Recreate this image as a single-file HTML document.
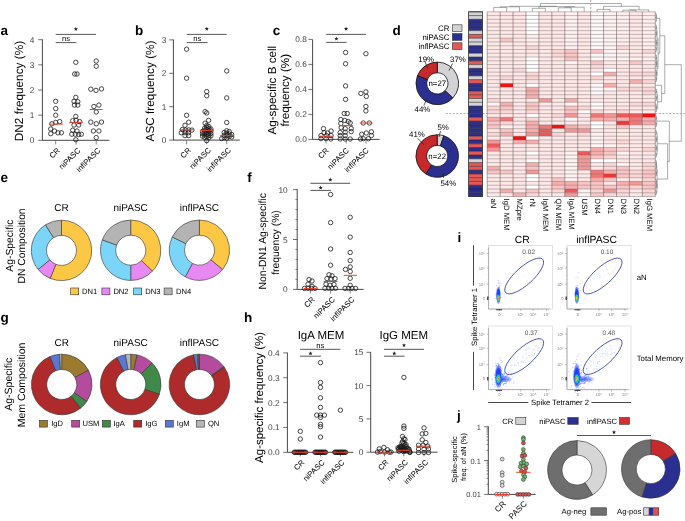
<!DOCTYPE html>
<html><head><meta charset="utf-8"><style>
html,body{margin:0;padding:0;background:#fff;}
svg{display:block;font-family:"Liberation Sans", sans-serif;will-change:transform;text-rendering:geometricPrecision;}
</style></head><body>
<svg width="685" height="521" viewBox="0 0 685 521">
<rect width="685" height="521" fill="#fff"/>
<text x="0.50" y="35.00" font-size="13.5" text-anchor="start" fill="#000" font-weight="bold">a</text>
<line x1="42.40" y1="39.40" x2="42.40" y2="140.30" stroke="#333" stroke-width="0.9"/>
<line x1="38.20" y1="140.30" x2="42.40" y2="140.30" stroke="#333" stroke-width="0.7"/>
<text x="34.40" y="143.30" font-size="8.3" text-anchor="end" fill="#444">0</text>
<line x1="38.20" y1="115.15" x2="42.40" y2="115.15" stroke="#333" stroke-width="0.7"/>
<text x="34.40" y="118.15" font-size="8.3" text-anchor="end" fill="#444">1</text>
<line x1="38.20" y1="90.00" x2="42.40" y2="90.00" stroke="#333" stroke-width="0.7"/>
<text x="34.40" y="93.00" font-size="8.3" text-anchor="end" fill="#444">2</text>
<line x1="38.20" y1="64.85" x2="42.40" y2="64.85" stroke="#333" stroke-width="0.7"/>
<text x="34.40" y="67.85" font-size="8.3" text-anchor="end" fill="#444">3</text>
<line x1="38.20" y1="39.70" x2="42.40" y2="39.70" stroke="#333" stroke-width="0.7"/>
<text x="34.40" y="42.70" font-size="8.3" text-anchor="end" fill="#444">4</text>
<line x1="42.40" y1="140.30" x2="109.40" y2="140.30" stroke="#333" stroke-width="0.9"/>
<line x1="55.70" y1="140.30" x2="55.70" y2="144.50" stroke="#555" stroke-width="0.7"/>
<line x1="76.10" y1="140.30" x2="76.10" y2="144.50" stroke="#555" stroke-width="0.7"/>
<line x1="96.20" y1="140.30" x2="96.20" y2="144.50" stroke="#555" stroke-width="0.7"/>
<text x="23.20" y="91.05" font-size="11.8" text-anchor="middle" fill="#000" transform="rotate(-90 23.20 91.05)">DN2 frequency (%)</text>
<text x="60.60" y="150.90" font-size="7.8" text-anchor="end" fill="#000" transform="rotate(-45 60.60 150.90)">CR</text>
<text x="81.00" y="150.90" font-size="7.8" text-anchor="end" fill="#000" transform="rotate(-45 81.00 150.90)">niPASC</text>
<text x="101.10" y="150.90" font-size="7.8" text-anchor="end" fill="#000" transform="rotate(-45 101.10 150.90)">inflPASC</text>
<line x1="55.70" y1="34.40" x2="96.00" y2="34.40" stroke="#444" stroke-width="0.9"/>
<polygon points="75.85,26.85 76.42,28.22 77.89,28.34 76.77,29.30 77.11,30.74 75.85,29.97 74.59,30.74 74.93,29.30 73.81,28.34 75.28,28.22" fill="#222"/>
<line x1="55.70" y1="42.60" x2="76.40" y2="42.60" stroke="#444" stroke-width="0.9"/>
<text x="66.05" y="40.80" font-size="7.6" text-anchor="middle" fill="#000">ns</text>
<circle cx="55.70" cy="101.30" r="2.2" fill="none" stroke="#1a1a1a" stroke-width="0.8"/>
<circle cx="55.70" cy="108.60" r="2.2" fill="none" stroke="#1a1a1a" stroke-width="0.8"/>
<circle cx="55.70" cy="115.20" r="2.2" fill="none" stroke="#1a1a1a" stroke-width="0.8"/>
<circle cx="59.70" cy="121.60" r="2.2" fill="none" stroke="#1a1a1a" stroke-width="0.8"/>
<circle cx="55.70" cy="122.40" r="2.2" fill="none" stroke="#1a1a1a" stroke-width="0.8"/>
<circle cx="51.90" cy="123.80" r="2.2" fill="none" stroke="#1a1a1a" stroke-width="0.8"/>
<circle cx="50.70" cy="129.00" r="2.2" fill="none" stroke="#1a1a1a" stroke-width="0.8"/>
<circle cx="54.50" cy="131.00" r="2.2" fill="none" stroke="#1a1a1a" stroke-width="0.8"/>
<circle cx="58.00" cy="132.80" r="2.2" fill="none" stroke="#1a1a1a" stroke-width="0.8"/>
<circle cx="61.40" cy="132.80" r="2.2" fill="none" stroke="#1a1a1a" stroke-width="0.8"/>
<circle cx="50.70" cy="133.70" r="2.2" fill="none" stroke="#1a1a1a" stroke-width="0.8"/>
<circle cx="75.80" cy="62.30" r="2.2" fill="none" stroke="#1a1a1a" stroke-width="0.8"/>
<circle cx="74.70" cy="74.00" r="2.2" fill="none" stroke="#1a1a1a" stroke-width="0.8"/>
<circle cx="77.00" cy="74.00" r="2.2" fill="none" stroke="#1a1a1a" stroke-width="0.8"/>
<circle cx="75.80" cy="97.40" r="2.2" fill="none" stroke="#1a1a1a" stroke-width="0.8"/>
<circle cx="74.00" cy="101.30" r="2.2" fill="none" stroke="#1a1a1a" stroke-width="0.8"/>
<circle cx="77.80" cy="101.70" r="2.2" fill="none" stroke="#1a1a1a" stroke-width="0.8"/>
<circle cx="74.40" cy="105.10" r="2.2" fill="none" stroke="#1a1a1a" stroke-width="0.8"/>
<circle cx="77.80" cy="105.10" r="2.2" fill="none" stroke="#1a1a1a" stroke-width="0.8"/>
<circle cx="75.80" cy="116.40" r="2.2" fill="none" stroke="#1a1a1a" stroke-width="0.8"/>
<circle cx="72.70" cy="120.70" r="2.2" fill="none" stroke="#1a1a1a" stroke-width="0.8"/>
<circle cx="76.10" cy="120.30" r="2.2" fill="none" stroke="#1a1a1a" stroke-width="0.8"/>
<circle cx="79.60" cy="121.60" r="2.2" fill="none" stroke="#1a1a1a" stroke-width="0.8"/>
<circle cx="74.00" cy="125.00" r="2.2" fill="none" stroke="#1a1a1a" stroke-width="0.8"/>
<circle cx="78.70" cy="125.00" r="2.2" fill="none" stroke="#1a1a1a" stroke-width="0.8"/>
<circle cx="72.70" cy="130.20" r="2.2" fill="none" stroke="#1a1a1a" stroke-width="0.8"/>
<circle cx="77.00" cy="131.00" r="2.2" fill="none" stroke="#1a1a1a" stroke-width="0.8"/>
<circle cx="71.80" cy="134.20" r="2.2" fill="none" stroke="#1a1a1a" stroke-width="0.8"/>
<circle cx="75.30" cy="134.20" r="2.2" fill="none" stroke="#1a1a1a" stroke-width="0.8"/>
<circle cx="78.70" cy="134.50" r="2.2" fill="none" stroke="#1a1a1a" stroke-width="0.8"/>
<circle cx="81.30" cy="134.20" r="2.2" fill="none" stroke="#1a1a1a" stroke-width="0.8"/>
<circle cx="75.80" cy="139.70" r="2.2" fill="none" stroke="#1a1a1a" stroke-width="0.8"/>
<circle cx="96.20" cy="61.00" r="2.2" fill="none" stroke="#1a1a1a" stroke-width="0.8"/>
<circle cx="96.20" cy="66.20" r="2.2" fill="none" stroke="#1a1a1a" stroke-width="0.8"/>
<circle cx="90.80" cy="89.20" r="2.2" fill="none" stroke="#1a1a1a" stroke-width="0.8"/>
<circle cx="96.00" cy="90.40" r="2.2" fill="none" stroke="#1a1a1a" stroke-width="0.8"/>
<circle cx="101.50" cy="88.90" r="2.2" fill="none" stroke="#1a1a1a" stroke-width="0.8"/>
<circle cx="93.90" cy="106.50" r="2.2" fill="none" stroke="#1a1a1a" stroke-width="0.8"/>
<circle cx="98.90" cy="105.10" r="2.2" fill="none" stroke="#1a1a1a" stroke-width="0.8"/>
<circle cx="96.20" cy="112.00" r="2.2" fill="none" stroke="#1a1a1a" stroke-width="0.8"/>
<circle cx="90.80" cy="122.10" r="2.2" fill="none" stroke="#1a1a1a" stroke-width="0.8"/>
<circle cx="96.30" cy="123.80" r="2.2" fill="none" stroke="#1a1a1a" stroke-width="0.8"/>
<circle cx="101.50" cy="122.10" r="2.2" fill="none" stroke="#1a1a1a" stroke-width="0.8"/>
<circle cx="93.40" cy="131.00" r="2.2" fill="none" stroke="#1a1a1a" stroke-width="0.8"/>
<circle cx="98.90" cy="131.00" r="2.2" fill="none" stroke="#1a1a1a" stroke-width="0.8"/>
<circle cx="96.20" cy="137.60" r="2.2" fill="none" stroke="#1a1a1a" stroke-width="0.8"/>
<line x1="49.30" y1="124.10" x2="62.80" y2="124.10" stroke="#e8402a" stroke-width="1.0"/>
<line x1="69.20" y1="122.40" x2="82.70" y2="122.40" stroke="#e8402a" stroke-width="1.0"/>
<line x1="89.60" y1="109.50" x2="102.60" y2="109.50" stroke="#e8402a" stroke-width="1.0"/>
<text x="135.00" y="35.00" font-size="13.5" text-anchor="start" fill="#000" font-weight="bold">b</text>
<line x1="173.40" y1="39.60" x2="173.40" y2="140.10" stroke="#333" stroke-width="0.9"/>
<line x1="169.20" y1="140.10" x2="173.40" y2="140.10" stroke="#333" stroke-width="0.7"/>
<text x="166.30" y="143.10" font-size="8.3" text-anchor="end" fill="#444">0</text>
<line x1="169.20" y1="106.70" x2="173.40" y2="106.70" stroke="#333" stroke-width="0.7"/>
<text x="166.30" y="109.70" font-size="8.3" text-anchor="end" fill="#444">1</text>
<line x1="169.20" y1="73.30" x2="173.40" y2="73.30" stroke="#333" stroke-width="0.7"/>
<text x="166.30" y="76.30" font-size="8.3" text-anchor="end" fill="#444">2</text>
<line x1="169.20" y1="39.90" x2="173.40" y2="39.90" stroke="#333" stroke-width="0.7"/>
<text x="166.30" y="42.90" font-size="8.3" text-anchor="end" fill="#444">3</text>
<line x1="173.40" y1="140.10" x2="239.80" y2="140.10" stroke="#333" stroke-width="0.9"/>
<line x1="186.60" y1="140.10" x2="186.60" y2="144.30" stroke="#555" stroke-width="0.7"/>
<line x1="206.70" y1="140.10" x2="206.70" y2="144.30" stroke="#555" stroke-width="0.7"/>
<line x1="226.70" y1="140.10" x2="226.70" y2="144.30" stroke="#555" stroke-width="0.7"/>
<text x="154.00" y="91.00" font-size="11.8" text-anchor="middle" fill="#000" transform="rotate(-90 154.00 91.00)">ASC frequency (%)</text>
<text x="191.50" y="150.70" font-size="7.8" text-anchor="end" fill="#000" transform="rotate(-45 191.50 150.70)">CR</text>
<text x="211.60" y="150.70" font-size="7.8" text-anchor="end" fill="#000" transform="rotate(-45 211.60 150.70)">niPASC</text>
<text x="231.60" y="150.70" font-size="7.8" text-anchor="end" fill="#000" transform="rotate(-45 231.60 150.70)">inflPASC</text>
<line x1="186.80" y1="34.40" x2="226.80" y2="34.40" stroke="#444" stroke-width="0.9"/>
<polygon points="206.80,26.75 207.37,28.12 208.84,28.24 207.72,29.20 208.06,30.64 206.80,29.87 205.54,30.64 205.88,29.20 204.76,28.24 206.23,28.12" fill="#222"/>
<line x1="186.80" y1="42.60" x2="207.60" y2="42.60" stroke="#444" stroke-width="0.9"/>
<text x="197.20" y="40.80" font-size="7.6" text-anchor="middle" fill="#000">ns</text>
<circle cx="186.60" cy="49.20" r="2.2" fill="none" stroke="#1a1a1a" stroke-width="0.8"/>
<circle cx="186.60" cy="78.20" r="2.2" fill="none" stroke="#1a1a1a" stroke-width="0.8"/>
<circle cx="186.60" cy="115.30" r="2.2" fill="none" stroke="#1a1a1a" stroke-width="0.8"/>
<circle cx="188.70" cy="122.20" r="2.2" fill="none" stroke="#1a1a1a" stroke-width="0.8"/>
<circle cx="185.00" cy="125.30" r="2.2" fill="none" stroke="#1a1a1a" stroke-width="0.8"/>
<circle cx="182.20" cy="129.60" r="2.2" fill="none" stroke="#1a1a1a" stroke-width="0.8"/>
<circle cx="185.60" cy="130.10" r="2.2" fill="none" stroke="#1a1a1a" stroke-width="0.8"/>
<circle cx="188.70" cy="129.90" r="2.2" fill="none" stroke="#1a1a1a" stroke-width="0.8"/>
<circle cx="191.90" cy="130.10" r="2.2" fill="none" stroke="#1a1a1a" stroke-width="0.8"/>
<circle cx="181.30" cy="132.70" r="2.2" fill="none" stroke="#1a1a1a" stroke-width="0.8"/>
<circle cx="185.00" cy="132.70" r="2.2" fill="none" stroke="#1a1a1a" stroke-width="0.8"/>
<circle cx="188.50" cy="132.70" r="2.2" fill="none" stroke="#1a1a1a" stroke-width="0.8"/>
<circle cx="185.00" cy="135.60" r="2.2" fill="none" stroke="#1a1a1a" stroke-width="0.8"/>
<circle cx="188.70" cy="135.60" r="2.2" fill="none" stroke="#1a1a1a" stroke-width="0.8"/>
<circle cx="206.70" cy="91.60" r="2.2" fill="none" stroke="#1a1a1a" stroke-width="0.8"/>
<circle cx="206.70" cy="95.80" r="2.2" fill="none" stroke="#1a1a1a" stroke-width="0.8"/>
<circle cx="205.10" cy="111.60" r="2.2" fill="none" stroke="#1a1a1a" stroke-width="0.8"/>
<circle cx="206.70" cy="113.00" r="2.2" fill="none" stroke="#1a1a1a" stroke-width="0.8"/>
<circle cx="208.60" cy="120.40" r="2.2" fill="none" stroke="#1a1a1a" stroke-width="0.8"/>
<circle cx="205.10" cy="123.20" r="2.2" fill="none" stroke="#1a1a1a" stroke-width="0.8"/>
<circle cx="206.70" cy="140.60" r="2.2" fill="none" stroke="#1a1a1a" stroke-width="0.8"/>
<circle cx="226.70" cy="70.90" r="2.2" fill="none" stroke="#1a1a1a" stroke-width="0.8"/>
<circle cx="226.70" cy="97.90" r="2.2" fill="none" stroke="#1a1a1a" stroke-width="0.8"/>
<circle cx="226.70" cy="122.50" r="2.2" fill="none" stroke="#1a1a1a" stroke-width="0.8"/>
<circle cx="206.70" cy="125.50" r="2.2" fill="none" stroke="#1a1a1a" stroke-width="0.8"/>
<circle cx="208.80" cy="126.50" r="2.2" fill="none" stroke="#1a1a1a" stroke-width="0.8"/>
<circle cx="206.70" cy="127.50" r="2.2" fill="none" stroke="#1a1a1a" stroke-width="0.8"/>
<circle cx="204.60" cy="128.20" r="2.2" fill="none" stroke="#1a1a1a" stroke-width="0.8"/>
<circle cx="208.80" cy="128.60" r="2.2" fill="none" stroke="#1a1a1a" stroke-width="0.8"/>
<circle cx="210.90" cy="129.00" r="2.2" fill="none" stroke="#1a1a1a" stroke-width="0.8"/>
<circle cx="206.70" cy="129.60" r="2.2" fill="none" stroke="#1a1a1a" stroke-width="0.8"/>
<circle cx="204.60" cy="130.20" r="2.2" fill="none" stroke="#1a1a1a" stroke-width="0.8"/>
<circle cx="208.80" cy="130.80" r="2.2" fill="none" stroke="#1a1a1a" stroke-width="0.8"/>
<circle cx="210.90" cy="131.00" r="2.2" fill="none" stroke="#1a1a1a" stroke-width="0.8"/>
<circle cx="202.50" cy="131.40" r="2.2" fill="none" stroke="#1a1a1a" stroke-width="0.8"/>
<circle cx="206.70" cy="132.00" r="2.2" fill="none" stroke="#1a1a1a" stroke-width="0.8"/>
<circle cx="204.60" cy="132.60" r="2.2" fill="none" stroke="#1a1a1a" stroke-width="0.8"/>
<circle cx="208.80" cy="133.20" r="2.2" fill="none" stroke="#1a1a1a" stroke-width="0.8"/>
<circle cx="210.90" cy="133.50" r="2.2" fill="none" stroke="#1a1a1a" stroke-width="0.8"/>
<circle cx="202.50" cy="133.80" r="2.2" fill="none" stroke="#1a1a1a" stroke-width="0.8"/>
<circle cx="206.70" cy="134.40" r="2.2" fill="none" stroke="#1a1a1a" stroke-width="0.8"/>
<circle cx="204.60" cy="135.00" r="2.2" fill="none" stroke="#1a1a1a" stroke-width="0.8"/>
<circle cx="208.80" cy="135.60" r="2.2" fill="none" stroke="#1a1a1a" stroke-width="0.8"/>
<circle cx="210.90" cy="135.80" r="2.2" fill="none" stroke="#1a1a1a" stroke-width="0.8"/>
<circle cx="202.50" cy="136.20" r="2.2" fill="none" stroke="#1a1a1a" stroke-width="0.8"/>
<circle cx="206.70" cy="136.80" r="2.2" fill="none" stroke="#1a1a1a" stroke-width="0.8"/>
<circle cx="204.60" cy="137.40" r="2.2" fill="none" stroke="#1a1a1a" stroke-width="0.8"/>
<circle cx="208.80" cy="137.80" r="2.2" fill="none" stroke="#1a1a1a" stroke-width="0.8"/>
<circle cx="226.70" cy="130.80" r="2.2" fill="none" stroke="#1a1a1a" stroke-width="0.8"/>
<circle cx="229.20" cy="131.50" r="2.2" fill="none" stroke="#1a1a1a" stroke-width="0.8"/>
<circle cx="224.20" cy="132.50" r="2.2" fill="none" stroke="#1a1a1a" stroke-width="0.8"/>
<circle cx="226.70" cy="133.30" r="2.2" fill="none" stroke="#1a1a1a" stroke-width="0.8"/>
<circle cx="229.20" cy="134.00" r="2.2" fill="none" stroke="#1a1a1a" stroke-width="0.8"/>
<circle cx="231.70" cy="134.60" r="2.2" fill="none" stroke="#1a1a1a" stroke-width="0.8"/>
<circle cx="224.20" cy="135.20" r="2.2" fill="none" stroke="#1a1a1a" stroke-width="0.8"/>
<circle cx="226.70" cy="135.80" r="2.2" fill="none" stroke="#1a1a1a" stroke-width="0.8"/>
<circle cx="229.20" cy="136.40" r="2.2" fill="none" stroke="#1a1a1a" stroke-width="0.8"/>
<circle cx="231.70" cy="137.00" r="2.2" fill="none" stroke="#1a1a1a" stroke-width="0.8"/>
<circle cx="224.20" cy="137.60" r="2.2" fill="none" stroke="#1a1a1a" stroke-width="0.8"/>
<circle cx="226.70" cy="138.20" r="2.2" fill="none" stroke="#1a1a1a" stroke-width="0.8"/>
<circle cx="221.70" cy="138.60" r="2.2" fill="none" stroke="#1a1a1a" stroke-width="0.8"/>
<line x1="180.00" y1="129.80" x2="194.00" y2="129.80" stroke="#e8402a" stroke-width="1.0"/>
<line x1="200.10" y1="130.40" x2="213.50" y2="130.40" stroke="#e8402a" stroke-width="1.0"/>
<line x1="220.20" y1="135.40" x2="233.60" y2="135.40" stroke="#e8402a" stroke-width="1.0"/>
<text x="272.80" y="35.00" font-size="13.5" text-anchor="start" fill="#000" font-weight="bold">c</text>
<line x1="312.60" y1="39.60" x2="312.60" y2="139.40" stroke="#333" stroke-width="0.9"/>
<line x1="308.40" y1="139.40" x2="312.60" y2="139.40" stroke="#333" stroke-width="0.7"/>
<text x="306.80" y="142.40" font-size="8.3" text-anchor="end" fill="#444">0.0</text>
<line x1="308.40" y1="114.40" x2="312.60" y2="114.40" stroke="#333" stroke-width="0.7"/>
<text x="306.80" y="117.40" font-size="8.3" text-anchor="end" fill="#444">0.2</text>
<line x1="308.40" y1="89.40" x2="312.60" y2="89.40" stroke="#333" stroke-width="0.7"/>
<text x="306.80" y="92.40" font-size="8.3" text-anchor="end" fill="#444">0.4</text>
<line x1="308.40" y1="64.40" x2="312.60" y2="64.40" stroke="#333" stroke-width="0.7"/>
<text x="306.80" y="67.40" font-size="8.3" text-anchor="end" fill="#444">0.6</text>
<line x1="308.40" y1="39.40" x2="312.60" y2="39.40" stroke="#333" stroke-width="0.7"/>
<text x="306.80" y="42.40" font-size="8.3" text-anchor="end" fill="#444">0.8</text>
<line x1="312.60" y1="139.40" x2="379.60" y2="139.40" stroke="#333" stroke-width="0.9"/>
<line x1="326.00" y1="139.40" x2="326.00" y2="143.60" stroke="#555" stroke-width="0.7"/>
<line x1="346.20" y1="139.40" x2="346.20" y2="143.60" stroke="#555" stroke-width="0.7"/>
<line x1="366.00" y1="139.40" x2="366.00" y2="143.60" stroke="#555" stroke-width="0.7"/>
<text x="275.70" y="90.20" font-size="11.65" text-anchor="middle" fill="#000" transform="rotate(-90 275.70 90.20)">Ag-specific B cell</text>
<text x="288.60" y="90.20" font-size="11.65" text-anchor="middle" fill="#000" transform="rotate(-90 288.60 90.20)">frequency (%)</text>
<text x="329.30" y="151.00" font-size="7.8" text-anchor="end" fill="#000" transform="rotate(-45 329.30 151.00)">CR</text>
<text x="349.50" y="151.00" font-size="7.8" text-anchor="end" fill="#000" transform="rotate(-45 349.50 151.00)">niPASC</text>
<text x="369.30" y="151.00" font-size="7.8" text-anchor="end" fill="#000" transform="rotate(-45 369.30 151.00)">inflPASC</text>
<line x1="326.20" y1="34.40" x2="366.00" y2="34.40" stroke="#444" stroke-width="0.9"/>
<polygon points="346.10,26.75 346.67,28.12 348.14,28.24 347.02,29.20 347.36,30.64 346.10,29.87 344.84,30.64 345.18,29.20 344.06,28.24 345.53,28.12" fill="#222"/>
<line x1="326.20" y1="42.40" x2="346.60" y2="42.40" stroke="#444" stroke-width="0.9"/>
<polygon points="336.40,36.65 336.97,38.02 338.44,38.14 337.32,39.10 337.66,40.54 336.40,39.77 335.14,40.54 335.48,39.10 334.36,38.14 335.83,38.02" fill="#222"/>
<circle cx="323.50" cy="128.60" r="2.2" fill="none" stroke="#1a1a1a" stroke-width="0.8"/>
<circle cx="331.10" cy="131.00" r="2.2" fill="none" stroke="#1a1a1a" stroke-width="0.8"/>
<circle cx="324.10" cy="132.60" r="2.2" fill="none" stroke="#1a1a1a" stroke-width="0.8"/>
<circle cx="327.50" cy="133.00" r="2.2" fill="none" stroke="#1a1a1a" stroke-width="0.8"/>
<circle cx="321.00" cy="135.60" r="2.2" fill="none" stroke="#1a1a1a" stroke-width="0.8"/>
<circle cx="326.70" cy="135.60" r="2.2" fill="none" stroke="#1a1a1a" stroke-width="0.8"/>
<circle cx="331.10" cy="135.60" r="2.2" fill="none" stroke="#1a1a1a" stroke-width="0.8"/>
<circle cx="321.00" cy="138.60" r="2.2" fill="none" stroke="#1a1a1a" stroke-width="0.8"/>
<circle cx="326.10" cy="138.60" r="2.2" fill="none" stroke="#1a1a1a" stroke-width="0.8"/>
<circle cx="330.70" cy="139.00" r="2.2" fill="none" stroke="#1a1a1a" stroke-width="0.8"/>
<circle cx="345.60" cy="52.50" r="2.2" fill="none" stroke="#1a1a1a" stroke-width="0.8"/>
<circle cx="345.60" cy="63.80" r="2.2" fill="none" stroke="#1a1a1a" stroke-width="0.8"/>
<circle cx="345.60" cy="85.90" r="2.2" fill="none" stroke="#1a1a1a" stroke-width="0.8"/>
<circle cx="345.60" cy="99.40" r="2.2" fill="none" stroke="#1a1a1a" stroke-width="0.8"/>
<circle cx="344.20" cy="113.50" r="2.2" fill="none" stroke="#1a1a1a" stroke-width="0.8"/>
<circle cx="347.20" cy="113.50" r="2.2" fill="none" stroke="#1a1a1a" stroke-width="0.8"/>
<circle cx="340.80" cy="119.50" r="2.2" fill="none" stroke="#1a1a1a" stroke-width="0.8"/>
<circle cx="344.80" cy="120.50" r="2.2" fill="none" stroke="#1a1a1a" stroke-width="0.8"/>
<circle cx="348.20" cy="121.50" r="2.2" fill="none" stroke="#1a1a1a" stroke-width="0.8"/>
<circle cx="340.80" cy="123.50" r="2.2" fill="none" stroke="#1a1a1a" stroke-width="0.8"/>
<circle cx="350.20" cy="122.90" r="2.2" fill="none" stroke="#1a1a1a" stroke-width="0.8"/>
<circle cx="341.20" cy="127.60" r="2.2" fill="none" stroke="#1a1a1a" stroke-width="0.8"/>
<circle cx="345.20" cy="128.60" r="2.2" fill="none" stroke="#1a1a1a" stroke-width="0.8"/>
<circle cx="351.20" cy="128.60" r="2.2" fill="none" stroke="#1a1a1a" stroke-width="0.8"/>
<circle cx="340.20" cy="132.60" r="2.2" fill="none" stroke="#1a1a1a" stroke-width="0.8"/>
<circle cx="345.20" cy="132.20" r="2.2" fill="none" stroke="#1a1a1a" stroke-width="0.8"/>
<circle cx="351.20" cy="131.60" r="2.2" fill="none" stroke="#1a1a1a" stroke-width="0.8"/>
<circle cx="340.20" cy="135.60" r="2.2" fill="none" stroke="#1a1a1a" stroke-width="0.8"/>
<circle cx="345.20" cy="135.60" r="2.2" fill="none" stroke="#1a1a1a" stroke-width="0.8"/>
<circle cx="340.20" cy="139.00" r="2.2" fill="none" stroke="#1a1a1a" stroke-width="0.8"/>
<circle cx="345.20" cy="139.00" r="2.2" fill="none" stroke="#1a1a1a" stroke-width="0.8"/>
<circle cx="350.20" cy="139.00" r="2.2" fill="none" stroke="#1a1a1a" stroke-width="0.8"/>
<circle cx="365.90" cy="53.70" r="2.2" fill="none" stroke="#1a1a1a" stroke-width="0.8"/>
<circle cx="360.90" cy="93.40" r="2.2" fill="none" stroke="#1a1a1a" stroke-width="0.8"/>
<circle cx="365.90" cy="91.90" r="2.2" fill="none" stroke="#1a1a1a" stroke-width="0.8"/>
<circle cx="366.30" cy="96.40" r="2.2" fill="none" stroke="#1a1a1a" stroke-width="0.8"/>
<circle cx="365.90" cy="106.40" r="2.2" fill="none" stroke="#1a1a1a" stroke-width="0.8"/>
<circle cx="365.90" cy="110.90" r="2.2" fill="none" stroke="#1a1a1a" stroke-width="0.8"/>
<circle cx="363.30" cy="123.00" r="2.2" fill="none" stroke="#1a1a1a" stroke-width="0.8"/>
<circle cx="369.40" cy="123.00" r="2.2" fill="none" stroke="#1a1a1a" stroke-width="0.8"/>
<circle cx="361.70" cy="134.20" r="2.2" fill="none" stroke="#1a1a1a" stroke-width="0.8"/>
<circle cx="366.30" cy="133.00" r="2.2" fill="none" stroke="#1a1a1a" stroke-width="0.8"/>
<circle cx="371.40" cy="131.80" r="2.2" fill="none" stroke="#1a1a1a" stroke-width="0.8"/>
<circle cx="371.40" cy="135.50" r="2.2" fill="none" stroke="#1a1a1a" stroke-width="0.8"/>
<circle cx="363.30" cy="138.70" r="2.2" fill="none" stroke="#1a1a1a" stroke-width="0.8"/>
<circle cx="368.40" cy="138.70" r="2.2" fill="none" stroke="#1a1a1a" stroke-width="0.8"/>
<circle cx="360.50" cy="139.00" r="2.2" fill="none" stroke="#1a1a1a" stroke-width="0.8"/>
<line x1="319.40" y1="136.20" x2="333.10" y2="136.20" stroke="#e8402a" stroke-width="1.0"/>
<line x1="339.20" y1="125.60" x2="352.80" y2="125.60" stroke="#e8402a" stroke-width="1.0"/>
<line x1="359.70" y1="123.00" x2="372.40" y2="123.00" stroke="#e8402a" stroke-width="1.0"/>
<text x="392.50" y="35.00" font-size="13.5" text-anchor="start" fill="#000" font-weight="bold">d</text>
<text x="449.50" y="31.00" font-size="7.9" text-anchor="end" fill="#000">CR</text>
<rect x="452.40" y="24.80" width="9.60" height="6.70" fill="#d3d3d5" stroke="#333" stroke-width="0.6"/>
<text x="449.50" y="39.80" font-size="7.9" text-anchor="end" fill="#000">niPASC</text>
<rect x="452.40" y="33.60" width="9.60" height="6.70" fill="#2b2f8f" stroke="#333" stroke-width="0.6"/>
<text x="449.50" y="48.70" font-size="7.9" text-anchor="end" fill="#000">inflPASC</text>
<rect x="452.40" y="42.80" width="9.60" height="6.70" fill="#e85656" stroke="#333" stroke-width="0.6"/>
<path d="M437.30,62.10 A21.3,21.3 0 0 1 452.83,97.98 L445.03,90.66 A10.6,10.6 0 0 0 437.30,72.80 Z" fill="#d3d3d5" stroke="#111" stroke-width="0.8" stroke-linejoin="round"/>
<path d="M452.83,97.98 A21.3,21.3 0 0 1 417.50,75.56 L427.44,79.50 A10.6,10.6 0 0 0 445.03,90.66 Z" fill="#2b2f8f" stroke="#111" stroke-width="0.8" stroke-linejoin="round"/>
<path d="M417.50,75.56 A21.3,21.3 0 0 1 437.30,62.10 L437.30,72.80 A10.6,10.6 0 0 0 427.44,79.50 Z" fill="#c6292b" stroke="#111" stroke-width="0.8" stroke-linejoin="round"/>
<text x="437.30" y="86.20" font-size="7.9" text-anchor="middle" fill="#000">n=27</text>
<text x="458.00" y="62.00" font-size="7.9" text-anchor="middle" fill="#000">37%</text>
<line x1="452.50" y1="63.50" x2="449.00" y2="70.50" stroke="#222" stroke-width="0.75"/>
<text x="426.20" y="62.00" font-size="7.9" text-anchor="middle" fill="#000">19%</text>
<line x1="425.10" y1="61.90" x2="427.80" y2="68.50" stroke="#222" stroke-width="0.75"/>
<text x="422.50" y="111.60" font-size="7.9" text-anchor="middle" fill="#000">44%</text>
<line x1="423.90" y1="105.50" x2="426.50" y2="99.50" stroke="#222" stroke-width="0.75"/>
<path d="M437.20,134.70 A21.3,21.3 0 0 1 443.78,135.74 L440.48,145.92 A10.6,10.6 0 0 0 437.20,145.40 Z" fill="#d3d3d5" stroke="#111" stroke-width="0.8" stroke-linejoin="round"/>
<path d="M443.78,135.74 A21.3,21.3 0 1 1 425.79,173.98 L431.52,164.95 A10.6,10.6 0 1 0 440.48,145.92 Z" fill="#2b2f8f" stroke="#111" stroke-width="0.8" stroke-linejoin="round"/>
<path d="M425.79,173.98 A21.3,21.3 0 0 1 437.20,134.70 L437.20,145.40 A10.6,10.6 0 0 0 431.52,164.95 Z" fill="#c6292b" stroke="#111" stroke-width="0.8" stroke-linejoin="round"/>
<text x="437.20" y="158.80" font-size="7.9" text-anchor="middle" fill="#000">n=22</text>
<text x="443.20" y="130.00" font-size="7.9" text-anchor="middle" fill="#000">5%</text>
<line x1="440.50" y1="131.00" x2="439.00" y2="137.00" stroke="#222" stroke-width="0.75"/>
<text x="417.00" y="137.20" font-size="7.9" text-anchor="middle" fill="#000">41%</text>
<line x1="417.50" y1="138.10" x2="423.90" y2="144.80" stroke="#222" stroke-width="0.75"/>
<text x="448.30" y="185.60" font-size="7.9" text-anchor="middle" fill="#000">54%</text>
<line x1="443.60" y1="177.80" x2="442.50" y2="172.50" stroke="#222" stroke-width="0.75"/>
<line x1="445.90" y1="113.60" x2="468.60" y2="113.60" stroke="#555" stroke-width="0.5" stroke-dasharray="2,1.5"/>
<line x1="482.60" y1="113.60" x2="487.20" y2="113.60" stroke="#555" stroke-width="0.5" stroke-dasharray="2,1.5"/>
<line x1="655.30" y1="113.60" x2="685.00" y2="113.60" stroke="#555" stroke-width="0.5" stroke-dasharray="2,1.5"/>
<line x1="590.70" y1="0.00" x2="590.70" y2="11.80" stroke="#555" stroke-width="0.5" stroke-dasharray="2,1.5"/>
<rect x="468.60" y="11.80" width="14.00" height="3.77" fill="#d3d3d5" stroke="none" stroke-width="0.6"/>
<rect x="468.60" y="15.57" width="14.00" height="3.77" fill="#d3d3d5" stroke="none" stroke-width="0.6"/>
<rect x="468.60" y="19.34" width="14.00" height="3.77" fill="#2b2f8f" stroke="none" stroke-width="0.6"/>
<rect x="468.60" y="23.11" width="14.00" height="3.77" fill="#2b2f8f" stroke="none" stroke-width="0.6"/>
<rect x="468.60" y="26.88" width="14.00" height="3.77" fill="#2b2f8f" stroke="none" stroke-width="0.6"/>
<rect x="468.60" y="30.65" width="14.00" height="3.77" fill="#d3d3d5" stroke="none" stroke-width="0.6"/>
<rect x="468.60" y="34.42" width="14.00" height="3.77" fill="#e85656" stroke="none" stroke-width="0.6"/>
<rect x="468.60" y="38.19" width="14.00" height="3.77" fill="#d3d3d5" stroke="none" stroke-width="0.6"/>
<rect x="468.60" y="41.96" width="14.00" height="3.77" fill="#d3d3d5" stroke="none" stroke-width="0.6"/>
<rect x="468.60" y="45.73" width="14.00" height="3.77" fill="#2b2f8f" stroke="none" stroke-width="0.6"/>
<rect x="468.60" y="49.50" width="14.00" height="3.77" fill="#2b2f8f" stroke="none" stroke-width="0.6"/>
<rect x="468.60" y="53.27" width="14.00" height="3.77" fill="#d3d3d5" stroke="none" stroke-width="0.6"/>
<rect x="468.60" y="57.04" width="14.00" height="3.77" fill="#2b2f8f" stroke="none" stroke-width="0.6"/>
<rect x="468.60" y="60.81" width="14.00" height="3.77" fill="#e85656" stroke="none" stroke-width="0.6"/>
<rect x="468.60" y="64.58" width="14.00" height="3.77" fill="#d3d3d5" stroke="none" stroke-width="0.6"/>
<rect x="468.60" y="68.35" width="14.00" height="3.77" fill="#2b2f8f" stroke="none" stroke-width="0.6"/>
<rect x="468.60" y="72.12" width="14.00" height="3.77" fill="#2b2f8f" stroke="none" stroke-width="0.6"/>
<rect x="468.60" y="75.89" width="14.00" height="3.77" fill="#d3d3d5" stroke="none" stroke-width="0.6"/>
<rect x="468.60" y="79.66" width="14.00" height="3.77" fill="#e85656" stroke="none" stroke-width="0.6"/>
<rect x="468.60" y="83.43" width="14.00" height="3.77" fill="#2b2f8f" stroke="none" stroke-width="0.6"/>
<rect x="468.60" y="87.20" width="14.00" height="3.77" fill="#2b2f8f" stroke="none" stroke-width="0.6"/>
<rect x="468.60" y="90.97" width="14.00" height="3.77" fill="#e85656" stroke="none" stroke-width="0.6"/>
<rect x="468.60" y="94.74" width="14.00" height="3.77" fill="#e85656" stroke="none" stroke-width="0.6"/>
<rect x="468.60" y="98.51" width="14.00" height="3.77" fill="#d3d3d5" stroke="none" stroke-width="0.6"/>
<rect x="468.60" y="102.28" width="14.00" height="3.77" fill="#d3d3d5" stroke="none" stroke-width="0.6"/>
<rect x="468.60" y="106.05" width="14.00" height="3.77" fill="#2b2f8f" stroke="none" stroke-width="0.6"/>
<rect x="468.60" y="109.82" width="14.00" height="3.77" fill="#2b2f8f" stroke="none" stroke-width="0.6"/>
<rect x="468.60" y="113.59" width="14.00" height="3.77" fill="#2b2f8f" stroke="none" stroke-width="0.6"/>
<rect x="468.60" y="117.36" width="14.00" height="3.77" fill="#e85656" stroke="none" stroke-width="0.6"/>
<rect x="468.60" y="121.13" width="14.00" height="3.77" fill="#2b2f8f" stroke="none" stroke-width="0.6"/>
<rect x="468.60" y="124.90" width="14.00" height="3.77" fill="#2b2f8f" stroke="none" stroke-width="0.6"/>
<rect x="468.60" y="128.67" width="14.00" height="3.77" fill="#2b2f8f" stroke="none" stroke-width="0.6"/>
<rect x="468.60" y="132.44" width="14.00" height="3.77" fill="#2b2f8f" stroke="none" stroke-width="0.6"/>
<rect x="468.60" y="136.21" width="14.00" height="3.77" fill="#e85656" stroke="none" stroke-width="0.6"/>
<rect x="468.60" y="139.98" width="14.00" height="3.77" fill="#2b2f8f" stroke="none" stroke-width="0.6"/>
<rect x="468.60" y="143.75" width="14.00" height="3.77" fill="#e85656" stroke="none" stroke-width="0.6"/>
<rect x="468.60" y="147.52" width="14.00" height="3.77" fill="#2b2f8f" stroke="none" stroke-width="0.6"/>
<rect x="468.60" y="151.29" width="14.00" height="3.77" fill="#e85656" stroke="none" stroke-width="0.6"/>
<rect x="468.60" y="155.06" width="14.00" height="3.77" fill="#2b2f8f" stroke="none" stroke-width="0.6"/>
<rect x="468.60" y="158.83" width="14.00" height="3.77" fill="#d3d3d5" stroke="none" stroke-width="0.6"/>
<rect x="468.60" y="162.60" width="14.00" height="3.77" fill="#e85656" stroke="none" stroke-width="0.6"/>
<rect x="468.60" y="166.37" width="14.00" height="3.77" fill="#e85656" stroke="none" stroke-width="0.6"/>
<rect x="468.60" y="170.14" width="14.00" height="3.77" fill="#2b2f8f" stroke="none" stroke-width="0.6"/>
<rect x="468.60" y="173.91" width="14.00" height="3.77" fill="#e85656" stroke="none" stroke-width="0.6"/>
<rect x="468.60" y="177.68" width="14.00" height="3.77" fill="#e85656" stroke="none" stroke-width="0.6"/>
<rect x="468.60" y="181.45" width="14.00" height="3.77" fill="#e85656" stroke="none" stroke-width="0.6"/>
<rect x="468.60" y="185.22" width="14.00" height="3.77" fill="#2b2f8f" stroke="none" stroke-width="0.6"/>
<rect x="468.60" y="188.99" width="14.00" height="3.77" fill="#2b2f8f" stroke="none" stroke-width="0.6"/>
<rect x="468.60" y="192.76" width="14.00" height="3.77" fill="#2b2f8f" stroke="none" stroke-width="0.6"/>
<line x1="468.60" y1="11.80" x2="482.60" y2="11.80" stroke="#1a1a1a" stroke-width="0.55"/>
<line x1="468.60" y1="15.57" x2="482.60" y2="15.57" stroke="#1a1a1a" stroke-width="0.55"/>
<line x1="468.60" y1="19.34" x2="482.60" y2="19.34" stroke="#1a1a1a" stroke-width="0.55"/>
<line x1="468.60" y1="23.11" x2="482.60" y2="23.11" stroke="#1a1a1a" stroke-width="0.55"/>
<line x1="468.60" y1="26.88" x2="482.60" y2="26.88" stroke="#1a1a1a" stroke-width="0.55"/>
<line x1="468.60" y1="30.65" x2="482.60" y2="30.65" stroke="#1a1a1a" stroke-width="0.55"/>
<line x1="468.60" y1="34.42" x2="482.60" y2="34.42" stroke="#1a1a1a" stroke-width="0.55"/>
<line x1="468.60" y1="38.19" x2="482.60" y2="38.19" stroke="#1a1a1a" stroke-width="0.55"/>
<line x1="468.60" y1="41.96" x2="482.60" y2="41.96" stroke="#1a1a1a" stroke-width="0.55"/>
<line x1="468.60" y1="45.73" x2="482.60" y2="45.73" stroke="#1a1a1a" stroke-width="0.55"/>
<line x1="468.60" y1="49.50" x2="482.60" y2="49.50" stroke="#1a1a1a" stroke-width="0.55"/>
<line x1="468.60" y1="53.27" x2="482.60" y2="53.27" stroke="#1a1a1a" stroke-width="0.55"/>
<line x1="468.60" y1="57.04" x2="482.60" y2="57.04" stroke="#1a1a1a" stroke-width="0.55"/>
<line x1="468.60" y1="60.81" x2="482.60" y2="60.81" stroke="#1a1a1a" stroke-width="0.55"/>
<line x1="468.60" y1="64.58" x2="482.60" y2="64.58" stroke="#1a1a1a" stroke-width="0.55"/>
<line x1="468.60" y1="68.35" x2="482.60" y2="68.35" stroke="#1a1a1a" stroke-width="0.55"/>
<line x1="468.60" y1="72.12" x2="482.60" y2="72.12" stroke="#1a1a1a" stroke-width="0.55"/>
<line x1="468.60" y1="75.89" x2="482.60" y2="75.89" stroke="#1a1a1a" stroke-width="0.55"/>
<line x1="468.60" y1="79.66" x2="482.60" y2="79.66" stroke="#1a1a1a" stroke-width="0.55"/>
<line x1="468.60" y1="83.43" x2="482.60" y2="83.43" stroke="#1a1a1a" stroke-width="0.55"/>
<line x1="468.60" y1="87.20" x2="482.60" y2="87.20" stroke="#1a1a1a" stroke-width="0.55"/>
<line x1="468.60" y1="90.97" x2="482.60" y2="90.97" stroke="#1a1a1a" stroke-width="0.55"/>
<line x1="468.60" y1="94.74" x2="482.60" y2="94.74" stroke="#1a1a1a" stroke-width="0.55"/>
<line x1="468.60" y1="98.51" x2="482.60" y2="98.51" stroke="#1a1a1a" stroke-width="0.55"/>
<line x1="468.60" y1="102.28" x2="482.60" y2="102.28" stroke="#1a1a1a" stroke-width="0.55"/>
<line x1="468.60" y1="106.05" x2="482.60" y2="106.05" stroke="#1a1a1a" stroke-width="0.55"/>
<line x1="468.60" y1="109.82" x2="482.60" y2="109.82" stroke="#1a1a1a" stroke-width="0.55"/>
<line x1="468.60" y1="113.59" x2="482.60" y2="113.59" stroke="#1a1a1a" stroke-width="0.55"/>
<line x1="468.60" y1="117.36" x2="482.60" y2="117.36" stroke="#1a1a1a" stroke-width="0.55"/>
<line x1="468.60" y1="121.13" x2="482.60" y2="121.13" stroke="#1a1a1a" stroke-width="0.55"/>
<line x1="468.60" y1="124.90" x2="482.60" y2="124.90" stroke="#1a1a1a" stroke-width="0.55"/>
<line x1="468.60" y1="128.67" x2="482.60" y2="128.67" stroke="#1a1a1a" stroke-width="0.55"/>
<line x1="468.60" y1="132.44" x2="482.60" y2="132.44" stroke="#1a1a1a" stroke-width="0.55"/>
<line x1="468.60" y1="136.21" x2="482.60" y2="136.21" stroke="#1a1a1a" stroke-width="0.55"/>
<line x1="468.60" y1="139.98" x2="482.60" y2="139.98" stroke="#1a1a1a" stroke-width="0.55"/>
<line x1="468.60" y1="143.75" x2="482.60" y2="143.75" stroke="#1a1a1a" stroke-width="0.55"/>
<line x1="468.60" y1="147.52" x2="482.60" y2="147.52" stroke="#1a1a1a" stroke-width="0.55"/>
<line x1="468.60" y1="151.29" x2="482.60" y2="151.29" stroke="#1a1a1a" stroke-width="0.55"/>
<line x1="468.60" y1="155.06" x2="482.60" y2="155.06" stroke="#1a1a1a" stroke-width="0.55"/>
<line x1="468.60" y1="158.83" x2="482.60" y2="158.83" stroke="#1a1a1a" stroke-width="0.55"/>
<line x1="468.60" y1="162.60" x2="482.60" y2="162.60" stroke="#1a1a1a" stroke-width="0.55"/>
<line x1="468.60" y1="166.37" x2="482.60" y2="166.37" stroke="#1a1a1a" stroke-width="0.55"/>
<line x1="468.60" y1="170.14" x2="482.60" y2="170.14" stroke="#1a1a1a" stroke-width="0.55"/>
<line x1="468.60" y1="173.91" x2="482.60" y2="173.91" stroke="#1a1a1a" stroke-width="0.55"/>
<line x1="468.60" y1="177.68" x2="482.60" y2="177.68" stroke="#1a1a1a" stroke-width="0.55"/>
<line x1="468.60" y1="181.45" x2="482.60" y2="181.45" stroke="#1a1a1a" stroke-width="0.55"/>
<line x1="468.60" y1="185.22" x2="482.60" y2="185.22" stroke="#1a1a1a" stroke-width="0.55"/>
<line x1="468.60" y1="188.99" x2="482.60" y2="188.99" stroke="#1a1a1a" stroke-width="0.55"/>
<line x1="468.60" y1="192.76" x2="482.60" y2="192.76" stroke="#1a1a1a" stroke-width="0.55"/>
<line x1="468.60" y1="196.53" x2="482.60" y2="196.53" stroke="#1a1a1a" stroke-width="0.55"/>
<rect x="468.60" y="11.80" width="14.00" height="184.73" fill="none" stroke="#333" stroke-width="0.8"/>
<rect x="487.20" y="11.80" width="12.93" height="3.77" fill="#fde7e7" stroke="none" stroke-width="0.6"/>
<rect x="500.13" y="11.80" width="12.93" height="3.77" fill="#fde7e7" stroke="none" stroke-width="0.6"/>
<rect x="513.06" y="11.80" width="12.93" height="3.77" fill="#fde7e7" stroke="none" stroke-width="0.6"/>
<rect x="525.99" y="11.80" width="12.93" height="3.77" fill="#ffffff" stroke="none" stroke-width="0.6"/>
<rect x="538.92" y="11.80" width="12.93" height="3.77" fill="#fde7e7" stroke="none" stroke-width="0.6"/>
<rect x="551.85" y="11.80" width="12.93" height="3.77" fill="#fde7e7" stroke="none" stroke-width="0.6"/>
<rect x="564.78" y="11.80" width="12.93" height="3.77" fill="#fef1f1" stroke="none" stroke-width="0.6"/>
<rect x="577.71" y="11.80" width="12.93" height="3.77" fill="#fde7e7" stroke="none" stroke-width="0.6"/>
<rect x="590.64" y="11.80" width="12.93" height="3.77" fill="#fef8f8" stroke="none" stroke-width="0.6"/>
<rect x="603.57" y="11.80" width="12.93" height="3.77" fill="#fef3f3" stroke="none" stroke-width="0.6"/>
<rect x="616.50" y="11.80" width="12.93" height="3.77" fill="#feeeee" stroke="none" stroke-width="0.6"/>
<rect x="629.43" y="11.80" width="12.93" height="3.77" fill="#fde7e7" stroke="none" stroke-width="0.6"/>
<rect x="642.36" y="11.80" width="12.93" height="3.77" fill="#feeeee" stroke="none" stroke-width="0.6"/>
<rect x="487.20" y="15.57" width="12.93" height="3.77" fill="#fde7e7" stroke="none" stroke-width="0.6"/>
<rect x="500.13" y="15.57" width="12.93" height="3.77" fill="#fde7e7" stroke="none" stroke-width="0.6"/>
<rect x="513.06" y="15.57" width="12.93" height="3.77" fill="#fde7e7" stroke="none" stroke-width="0.6"/>
<rect x="525.99" y="15.57" width="12.93" height="3.77" fill="#ffffff" stroke="none" stroke-width="0.6"/>
<rect x="538.92" y="15.57" width="12.93" height="3.77" fill="#fde7e7" stroke="none" stroke-width="0.6"/>
<rect x="551.85" y="15.57" width="12.93" height="3.77" fill="#fde7e7" stroke="none" stroke-width="0.6"/>
<rect x="564.78" y="15.57" width="12.93" height="3.77" fill="#fef1f1" stroke="none" stroke-width="0.6"/>
<rect x="577.71" y="15.57" width="12.93" height="3.77" fill="#fde7e7" stroke="none" stroke-width="0.6"/>
<rect x="590.64" y="15.57" width="12.93" height="3.77" fill="#fef8f8" stroke="none" stroke-width="0.6"/>
<rect x="603.57" y="15.57" width="12.93" height="3.77" fill="#fef3f3" stroke="none" stroke-width="0.6"/>
<rect x="616.50" y="15.57" width="12.93" height="3.77" fill="#feeeee" stroke="none" stroke-width="0.6"/>
<rect x="629.43" y="15.57" width="12.93" height="3.77" fill="#fde7e7" stroke="none" stroke-width="0.6"/>
<rect x="642.36" y="15.57" width="12.93" height="3.77" fill="#feeeee" stroke="none" stroke-width="0.6"/>
<rect x="487.20" y="19.34" width="12.93" height="3.77" fill="#fde7e7" stroke="none" stroke-width="0.6"/>
<rect x="500.13" y="19.34" width="12.93" height="3.77" fill="#fde7e7" stroke="none" stroke-width="0.6"/>
<rect x="513.06" y="19.34" width="12.93" height="3.77" fill="#fde7e7" stroke="none" stroke-width="0.6"/>
<rect x="525.99" y="19.34" width="12.93" height="3.77" fill="#ffffff" stroke="none" stroke-width="0.6"/>
<rect x="538.92" y="19.34" width="12.93" height="3.77" fill="#fde7e7" stroke="none" stroke-width="0.6"/>
<rect x="551.85" y="19.34" width="12.93" height="3.77" fill="#fde7e7" stroke="none" stroke-width="0.6"/>
<rect x="564.78" y="19.34" width="12.93" height="3.77" fill="#fef1f1" stroke="none" stroke-width="0.6"/>
<rect x="577.71" y="19.34" width="12.93" height="3.77" fill="#fde7e7" stroke="none" stroke-width="0.6"/>
<rect x="590.64" y="19.34" width="12.93" height="3.77" fill="#fef8f8" stroke="none" stroke-width="0.6"/>
<rect x="603.57" y="19.34" width="12.93" height="3.77" fill="#fef3f3" stroke="none" stroke-width="0.6"/>
<rect x="616.50" y="19.34" width="12.93" height="3.77" fill="#feeeee" stroke="none" stroke-width="0.6"/>
<rect x="629.43" y="19.34" width="12.93" height="3.77" fill="#fde7e7" stroke="none" stroke-width="0.6"/>
<rect x="642.36" y="19.34" width="12.93" height="3.77" fill="#feeeee" stroke="none" stroke-width="0.6"/>
<rect x="487.20" y="23.11" width="12.93" height="3.77" fill="#fde7e7" stroke="none" stroke-width="0.6"/>
<rect x="500.13" y="23.11" width="12.93" height="3.77" fill="#fde7e7" stroke="none" stroke-width="0.6"/>
<rect x="513.06" y="23.11" width="12.93" height="3.77" fill="#fde7e7" stroke="none" stroke-width="0.6"/>
<rect x="525.99" y="23.11" width="12.93" height="3.77" fill="#ffffff" stroke="none" stroke-width="0.6"/>
<rect x="538.92" y="23.11" width="12.93" height="3.77" fill="#fde7e7" stroke="none" stroke-width="0.6"/>
<rect x="551.85" y="23.11" width="12.93" height="3.77" fill="#fde7e7" stroke="none" stroke-width="0.6"/>
<rect x="564.78" y="23.11" width="12.93" height="3.77" fill="#fef1f1" stroke="none" stroke-width="0.6"/>
<rect x="577.71" y="23.11" width="12.93" height="3.77" fill="#fde7e7" stroke="none" stroke-width="0.6"/>
<rect x="590.64" y="23.11" width="12.93" height="3.77" fill="#fef8f8" stroke="none" stroke-width="0.6"/>
<rect x="603.57" y="23.11" width="12.93" height="3.77" fill="#fef3f3" stroke="none" stroke-width="0.6"/>
<rect x="616.50" y="23.11" width="12.93" height="3.77" fill="#feeeee" stroke="none" stroke-width="0.6"/>
<rect x="629.43" y="23.11" width="12.93" height="3.77" fill="#fde7e7" stroke="none" stroke-width="0.6"/>
<rect x="642.36" y="23.11" width="12.93" height="3.77" fill="#feeeee" stroke="none" stroke-width="0.6"/>
<rect x="487.20" y="26.88" width="12.93" height="3.77" fill="#fde7e7" stroke="none" stroke-width="0.6"/>
<rect x="500.13" y="26.88" width="12.93" height="3.77" fill="#fde7e7" stroke="none" stroke-width="0.6"/>
<rect x="513.06" y="26.88" width="12.93" height="3.77" fill="#fde7e7" stroke="none" stroke-width="0.6"/>
<rect x="525.99" y="26.88" width="12.93" height="3.77" fill="#ffffff" stroke="none" stroke-width="0.6"/>
<rect x="538.92" y="26.88" width="12.93" height="3.77" fill="#fde7e7" stroke="none" stroke-width="0.6"/>
<rect x="551.85" y="26.88" width="12.93" height="3.77" fill="#fde7e7" stroke="none" stroke-width="0.6"/>
<rect x="564.78" y="26.88" width="12.93" height="3.77" fill="#fef1f1" stroke="none" stroke-width="0.6"/>
<rect x="577.71" y="26.88" width="12.93" height="3.77" fill="#fde7e7" stroke="none" stroke-width="0.6"/>
<rect x="590.64" y="26.88" width="12.93" height="3.77" fill="#fef8f8" stroke="none" stroke-width="0.6"/>
<rect x="603.57" y="26.88" width="12.93" height="3.77" fill="#fef3f3" stroke="none" stroke-width="0.6"/>
<rect x="616.50" y="26.88" width="12.93" height="3.77" fill="#feeeee" stroke="none" stroke-width="0.6"/>
<rect x="629.43" y="26.88" width="12.93" height="3.77" fill="#fde7e7" stroke="none" stroke-width="0.6"/>
<rect x="642.36" y="26.88" width="12.93" height="3.77" fill="#feeeee" stroke="none" stroke-width="0.6"/>
<rect x="487.20" y="30.65" width="12.93" height="3.77" fill="#fde7e7" stroke="none" stroke-width="0.6"/>
<rect x="500.13" y="30.65" width="12.93" height="3.77" fill="#fde7e7" stroke="none" stroke-width="0.6"/>
<rect x="513.06" y="30.65" width="12.93" height="3.77" fill="#fde7e7" stroke="none" stroke-width="0.6"/>
<rect x="525.99" y="30.65" width="12.93" height="3.77" fill="#ffffff" stroke="none" stroke-width="0.6"/>
<rect x="538.92" y="30.65" width="12.93" height="3.77" fill="#fde7e7" stroke="none" stroke-width="0.6"/>
<rect x="551.85" y="30.65" width="12.93" height="3.77" fill="#fde7e7" stroke="none" stroke-width="0.6"/>
<rect x="564.78" y="30.65" width="12.93" height="3.77" fill="#fef1f1" stroke="none" stroke-width="0.6"/>
<rect x="577.71" y="30.65" width="12.93" height="3.77" fill="#fde7e7" stroke="none" stroke-width="0.6"/>
<rect x="590.64" y="30.65" width="12.93" height="3.77" fill="#fef8f8" stroke="none" stroke-width="0.6"/>
<rect x="603.57" y="30.65" width="12.93" height="3.77" fill="#fef3f3" stroke="none" stroke-width="0.6"/>
<rect x="616.50" y="30.65" width="12.93" height="3.77" fill="#feeeee" stroke="none" stroke-width="0.6"/>
<rect x="629.43" y="30.65" width="12.93" height="3.77" fill="#fde7e7" stroke="none" stroke-width="0.6"/>
<rect x="642.36" y="30.65" width="12.93" height="3.77" fill="#feeeee" stroke="none" stroke-width="0.6"/>
<rect x="487.20" y="34.42" width="12.93" height="3.77" fill="#fde7e7" stroke="none" stroke-width="0.6"/>
<rect x="500.13" y="34.42" width="12.93" height="3.77" fill="#fde7e7" stroke="none" stroke-width="0.6"/>
<rect x="513.06" y="34.42" width="12.93" height="3.77" fill="#fde7e7" stroke="none" stroke-width="0.6"/>
<rect x="525.99" y="34.42" width="12.93" height="3.77" fill="#feeeee" stroke="none" stroke-width="0.6"/>
<rect x="538.92" y="34.42" width="12.93" height="3.77" fill="#fde7e7" stroke="none" stroke-width="0.6"/>
<rect x="551.85" y="34.42" width="12.93" height="3.77" fill="#fde7e7" stroke="none" stroke-width="0.6"/>
<rect x="564.78" y="34.42" width="12.93" height="3.77" fill="#fef1f1" stroke="none" stroke-width="0.6"/>
<rect x="577.71" y="34.42" width="12.93" height="3.77" fill="#fde7e7" stroke="none" stroke-width="0.6"/>
<rect x="590.64" y="34.42" width="12.93" height="3.77" fill="#fef8f8" stroke="none" stroke-width="0.6"/>
<rect x="603.57" y="34.42" width="12.93" height="3.77" fill="#fef3f3" stroke="none" stroke-width="0.6"/>
<rect x="616.50" y="34.42" width="12.93" height="3.77" fill="#feeeee" stroke="none" stroke-width="0.6"/>
<rect x="629.43" y="34.42" width="12.93" height="3.77" fill="#fde7e7" stroke="none" stroke-width="0.6"/>
<rect x="642.36" y="34.42" width="12.93" height="3.77" fill="#feeeee" stroke="none" stroke-width="0.6"/>
<rect x="487.20" y="38.19" width="12.93" height="3.77" fill="#fde7e7" stroke="none" stroke-width="0.6"/>
<rect x="500.13" y="38.19" width="12.93" height="3.77" fill="#f9c4c4" stroke="none" stroke-width="0.6"/>
<rect x="513.06" y="38.19" width="12.93" height="3.77" fill="#fde7e7" stroke="none" stroke-width="0.6"/>
<rect x="525.99" y="38.19" width="12.93" height="3.77" fill="#feeeee" stroke="none" stroke-width="0.6"/>
<rect x="538.92" y="38.19" width="12.93" height="3.77" fill="#fde7e7" stroke="none" stroke-width="0.6"/>
<rect x="551.85" y="38.19" width="12.93" height="3.77" fill="#fde7e7" stroke="none" stroke-width="0.6"/>
<rect x="564.78" y="38.19" width="12.93" height="3.77" fill="#fef1f1" stroke="none" stroke-width="0.6"/>
<rect x="577.71" y="38.19" width="12.93" height="3.77" fill="#fde7e7" stroke="none" stroke-width="0.6"/>
<rect x="590.64" y="38.19" width="12.93" height="3.77" fill="#fef8f8" stroke="none" stroke-width="0.6"/>
<rect x="603.57" y="38.19" width="12.93" height="3.77" fill="#fef3f3" stroke="none" stroke-width="0.6"/>
<rect x="616.50" y="38.19" width="12.93" height="3.77" fill="#feeeee" stroke="none" stroke-width="0.6"/>
<rect x="629.43" y="38.19" width="12.93" height="3.77" fill="#fde7e7" stroke="none" stroke-width="0.6"/>
<rect x="642.36" y="38.19" width="12.93" height="3.77" fill="#feeeee" stroke="none" stroke-width="0.6"/>
<rect x="487.20" y="41.96" width="12.93" height="3.77" fill="#fde7e7" stroke="none" stroke-width="0.6"/>
<rect x="500.13" y="41.96" width="12.93" height="3.77" fill="#fde7e7" stroke="none" stroke-width="0.6"/>
<rect x="513.06" y="41.96" width="12.93" height="3.77" fill="#fde7e7" stroke="none" stroke-width="0.6"/>
<rect x="525.99" y="41.96" width="12.93" height="3.77" fill="#fdecec" stroke="none" stroke-width="0.6"/>
<rect x="538.92" y="41.96" width="12.93" height="3.77" fill="#fde7e7" stroke="none" stroke-width="0.6"/>
<rect x="551.85" y="41.96" width="12.93" height="3.77" fill="#fde7e7" stroke="none" stroke-width="0.6"/>
<rect x="564.78" y="41.96" width="12.93" height="3.77" fill="#fef1f1" stroke="none" stroke-width="0.6"/>
<rect x="577.71" y="41.96" width="12.93" height="3.77" fill="#fde7e7" stroke="none" stroke-width="0.6"/>
<rect x="590.64" y="41.96" width="12.93" height="3.77" fill="#fef8f8" stroke="none" stroke-width="0.6"/>
<rect x="603.57" y="41.96" width="12.93" height="3.77" fill="#fef3f3" stroke="none" stroke-width="0.6"/>
<rect x="616.50" y="41.96" width="12.93" height="3.77" fill="#feeeee" stroke="none" stroke-width="0.6"/>
<rect x="629.43" y="41.96" width="12.93" height="3.77" fill="#fde7e7" stroke="none" stroke-width="0.6"/>
<rect x="642.36" y="41.96" width="12.93" height="3.77" fill="#feeeee" stroke="none" stroke-width="0.6"/>
<rect x="487.20" y="45.73" width="12.93" height="3.77" fill="#fde7e7" stroke="none" stroke-width="0.6"/>
<rect x="500.13" y="45.73" width="12.93" height="3.77" fill="#fde7e7" stroke="none" stroke-width="0.6"/>
<rect x="513.06" y="45.73" width="12.93" height="3.77" fill="#fde7e7" stroke="none" stroke-width="0.6"/>
<rect x="525.99" y="45.73" width="12.93" height="3.77" fill="#fbd6d6" stroke="none" stroke-width="0.6"/>
<rect x="538.92" y="45.73" width="12.93" height="3.77" fill="#fde7e7" stroke="none" stroke-width="0.6"/>
<rect x="551.85" y="45.73" width="12.93" height="3.77" fill="#fde7e7" stroke="none" stroke-width="0.6"/>
<rect x="564.78" y="45.73" width="12.93" height="3.77" fill="#fef1f1" stroke="none" stroke-width="0.6"/>
<rect x="577.71" y="45.73" width="12.93" height="3.77" fill="#fde7e7" stroke="none" stroke-width="0.6"/>
<rect x="590.64" y="45.73" width="12.93" height="3.77" fill="#fef8f8" stroke="none" stroke-width="0.6"/>
<rect x="603.57" y="45.73" width="12.93" height="3.77" fill="#fef3f3" stroke="none" stroke-width="0.6"/>
<rect x="616.50" y="45.73" width="12.93" height="3.77" fill="#fbd6d6" stroke="none" stroke-width="0.6"/>
<rect x="629.43" y="45.73" width="12.93" height="3.77" fill="#fde7e7" stroke="none" stroke-width="0.6"/>
<rect x="642.36" y="45.73" width="12.93" height="3.77" fill="#feeeee" stroke="none" stroke-width="0.6"/>
<rect x="487.20" y="49.50" width="12.93" height="3.77" fill="#fde7e7" stroke="none" stroke-width="0.6"/>
<rect x="500.13" y="49.50" width="12.93" height="3.77" fill="#fde7e7" stroke="none" stroke-width="0.6"/>
<rect x="513.06" y="49.50" width="12.93" height="3.77" fill="#fde7e7" stroke="none" stroke-width="0.6"/>
<rect x="525.99" y="49.50" width="12.93" height="3.77" fill="#fde7e7" stroke="none" stroke-width="0.6"/>
<rect x="538.92" y="49.50" width="12.93" height="3.77" fill="#fde7e7" stroke="none" stroke-width="0.6"/>
<rect x="551.85" y="49.50" width="12.93" height="3.77" fill="#fbd6d6" stroke="none" stroke-width="0.6"/>
<rect x="564.78" y="49.50" width="12.93" height="3.77" fill="#f9c4c4" stroke="none" stroke-width="0.6"/>
<rect x="577.71" y="49.50" width="12.93" height="3.77" fill="#fde7e7" stroke="none" stroke-width="0.6"/>
<rect x="590.64" y="49.50" width="12.93" height="3.77" fill="#f9c4c4" stroke="none" stroke-width="0.6"/>
<rect x="603.57" y="49.50" width="12.93" height="3.77" fill="#fef3f3" stroke="none" stroke-width="0.6"/>
<rect x="616.50" y="49.50" width="12.93" height="3.77" fill="#feeeee" stroke="none" stroke-width="0.6"/>
<rect x="629.43" y="49.50" width="12.93" height="3.77" fill="#fde7e7" stroke="none" stroke-width="0.6"/>
<rect x="642.36" y="49.50" width="12.93" height="3.77" fill="#fbd6d6" stroke="none" stroke-width="0.6"/>
<rect x="487.20" y="53.27" width="12.93" height="3.77" fill="#fde7e7" stroke="none" stroke-width="0.6"/>
<rect x="500.13" y="53.27" width="12.93" height="3.77" fill="#fde7e7" stroke="none" stroke-width="0.6"/>
<rect x="513.06" y="53.27" width="12.93" height="3.77" fill="#fde7e7" stroke="none" stroke-width="0.6"/>
<rect x="525.99" y="53.27" width="12.93" height="3.77" fill="#fde7e7" stroke="none" stroke-width="0.6"/>
<rect x="538.92" y="53.27" width="12.93" height="3.77" fill="#fde7e7" stroke="none" stroke-width="0.6"/>
<rect x="551.85" y="53.27" width="12.93" height="3.77" fill="#fbd6d6" stroke="none" stroke-width="0.6"/>
<rect x="564.78" y="53.27" width="12.93" height="3.77" fill="#f9c4c4" stroke="none" stroke-width="0.6"/>
<rect x="577.71" y="53.27" width="12.93" height="3.77" fill="#fde7e7" stroke="none" stroke-width="0.6"/>
<rect x="590.64" y="53.27" width="12.93" height="3.77" fill="#fef8f8" stroke="none" stroke-width="0.6"/>
<rect x="603.57" y="53.27" width="12.93" height="3.77" fill="#fef3f3" stroke="none" stroke-width="0.6"/>
<rect x="616.50" y="53.27" width="12.93" height="3.77" fill="#feeeee" stroke="none" stroke-width="0.6"/>
<rect x="629.43" y="53.27" width="12.93" height="3.77" fill="#fde7e7" stroke="none" stroke-width="0.6"/>
<rect x="642.36" y="53.27" width="12.93" height="3.77" fill="#feeeee" stroke="none" stroke-width="0.6"/>
<rect x="487.20" y="57.04" width="12.93" height="3.77" fill="#fde7e7" stroke="none" stroke-width="0.6"/>
<rect x="500.13" y="57.04" width="12.93" height="3.77" fill="#fde7e7" stroke="none" stroke-width="0.6"/>
<rect x="513.06" y="57.04" width="12.93" height="3.77" fill="#fde7e7" stroke="none" stroke-width="0.6"/>
<rect x="525.99" y="57.04" width="12.93" height="3.77" fill="#ffffff" stroke="none" stroke-width="0.6"/>
<rect x="538.92" y="57.04" width="12.93" height="3.77" fill="#fde7e7" stroke="none" stroke-width="0.6"/>
<rect x="551.85" y="57.04" width="12.93" height="3.77" fill="#fde7e7" stroke="none" stroke-width="0.6"/>
<rect x="564.78" y="57.04" width="12.93" height="3.77" fill="#f9c4c4" stroke="none" stroke-width="0.6"/>
<rect x="577.71" y="57.04" width="12.93" height="3.77" fill="#fde7e7" stroke="none" stroke-width="0.6"/>
<rect x="590.64" y="57.04" width="12.93" height="3.77" fill="#fef8f8" stroke="none" stroke-width="0.6"/>
<rect x="603.57" y="57.04" width="12.93" height="3.77" fill="#fef3f3" stroke="none" stroke-width="0.6"/>
<rect x="616.50" y="57.04" width="12.93" height="3.77" fill="#fef3f3" stroke="none" stroke-width="0.6"/>
<rect x="629.43" y="57.04" width="12.93" height="3.77" fill="#feeeee" stroke="none" stroke-width="0.6"/>
<rect x="642.36" y="57.04" width="12.93" height="3.77" fill="#feeeee" stroke="none" stroke-width="0.6"/>
<rect x="487.20" y="60.81" width="12.93" height="3.77" fill="#fde7e7" stroke="none" stroke-width="0.6"/>
<rect x="500.13" y="60.81" width="12.93" height="3.77" fill="#fde7e7" stroke="none" stroke-width="0.6"/>
<rect x="513.06" y="60.81" width="12.93" height="3.77" fill="#fde7e7" stroke="none" stroke-width="0.6"/>
<rect x="525.99" y="60.81" width="12.93" height="3.77" fill="#ffffff" stroke="none" stroke-width="0.6"/>
<rect x="538.92" y="60.81" width="12.93" height="3.77" fill="#fde7e7" stroke="none" stroke-width="0.6"/>
<rect x="551.85" y="60.81" width="12.93" height="3.77" fill="#fde7e7" stroke="none" stroke-width="0.6"/>
<rect x="564.78" y="60.81" width="12.93" height="3.77" fill="#fef3f3" stroke="none" stroke-width="0.6"/>
<rect x="577.71" y="60.81" width="12.93" height="3.77" fill="#fde7e7" stroke="none" stroke-width="0.6"/>
<rect x="590.64" y="60.81" width="12.93" height="3.77" fill="#f9c4c4" stroke="none" stroke-width="0.6"/>
<rect x="603.57" y="60.81" width="12.93" height="3.77" fill="#fde7e7" stroke="none" stroke-width="0.6"/>
<rect x="616.50" y="60.81" width="12.93" height="3.77" fill="#fde7e7" stroke="none" stroke-width="0.6"/>
<rect x="629.43" y="60.81" width="12.93" height="3.77" fill="#f9c4c4" stroke="none" stroke-width="0.6"/>
<rect x="642.36" y="60.81" width="12.93" height="3.77" fill="#fde7e7" stroke="none" stroke-width="0.6"/>
<rect x="487.20" y="64.58" width="12.93" height="3.77" fill="#fde7e7" stroke="none" stroke-width="0.6"/>
<rect x="500.13" y="64.58" width="12.93" height="3.77" fill="#fde7e7" stroke="none" stroke-width="0.6"/>
<rect x="513.06" y="64.58" width="12.93" height="3.77" fill="#fde7e7" stroke="none" stroke-width="0.6"/>
<rect x="525.99" y="64.58" width="12.93" height="3.77" fill="#ffffff" stroke="none" stroke-width="0.6"/>
<rect x="538.92" y="64.58" width="12.93" height="3.77" fill="#fde7e7" stroke="none" stroke-width="0.6"/>
<rect x="551.85" y="64.58" width="12.93" height="3.77" fill="#fde7e7" stroke="none" stroke-width="0.6"/>
<rect x="564.78" y="64.58" width="12.93" height="3.77" fill="#fde7e7" stroke="none" stroke-width="0.6"/>
<rect x="577.71" y="64.58" width="12.93" height="3.77" fill="#fde7e7" stroke="none" stroke-width="0.6"/>
<rect x="590.64" y="64.58" width="12.93" height="3.77" fill="#fbd6d6" stroke="none" stroke-width="0.6"/>
<rect x="603.57" y="64.58" width="12.93" height="3.77" fill="#fde7e7" stroke="none" stroke-width="0.6"/>
<rect x="616.50" y="64.58" width="12.93" height="3.77" fill="#fde7e7" stroke="none" stroke-width="0.6"/>
<rect x="629.43" y="64.58" width="12.93" height="3.77" fill="#fde7e7" stroke="none" stroke-width="0.6"/>
<rect x="642.36" y="64.58" width="12.93" height="3.77" fill="#fde7e7" stroke="none" stroke-width="0.6"/>
<rect x="487.20" y="68.35" width="12.93" height="3.77" fill="#fde7e7" stroke="none" stroke-width="0.6"/>
<rect x="500.13" y="68.35" width="12.93" height="3.77" fill="#fde7e7" stroke="none" stroke-width="0.6"/>
<rect x="513.06" y="68.35" width="12.93" height="3.77" fill="#fbd6d6" stroke="none" stroke-width="0.6"/>
<rect x="525.99" y="68.35" width="12.93" height="3.77" fill="#ffffff" stroke="none" stroke-width="0.6"/>
<rect x="538.92" y="68.35" width="12.93" height="3.77" fill="#fde7e7" stroke="none" stroke-width="0.6"/>
<rect x="551.85" y="68.35" width="12.93" height="3.77" fill="#fde7e7" stroke="none" stroke-width="0.6"/>
<rect x="564.78" y="68.35" width="12.93" height="3.77" fill="#fde7e7" stroke="none" stroke-width="0.6"/>
<rect x="577.71" y="68.35" width="12.93" height="3.77" fill="#fde7e7" stroke="none" stroke-width="0.6"/>
<rect x="590.64" y="68.35" width="12.93" height="3.77" fill="#fde7e7" stroke="none" stroke-width="0.6"/>
<rect x="603.57" y="68.35" width="12.93" height="3.77" fill="#ffffff" stroke="none" stroke-width="0.6"/>
<rect x="616.50" y="68.35" width="12.93" height="3.77" fill="#fde7e7" stroke="none" stroke-width="0.6"/>
<rect x="629.43" y="68.35" width="12.93" height="3.77" fill="#fde7e7" stroke="none" stroke-width="0.6"/>
<rect x="642.36" y="68.35" width="12.93" height="3.77" fill="#fde7e7" stroke="none" stroke-width="0.6"/>
<rect x="487.20" y="72.12" width="12.93" height="3.77" fill="#fde7e7" stroke="none" stroke-width="0.6"/>
<rect x="500.13" y="72.12" width="12.93" height="3.77" fill="#fde7e7" stroke="none" stroke-width="0.6"/>
<rect x="513.06" y="72.12" width="12.93" height="3.77" fill="#fde7e7" stroke="none" stroke-width="0.6"/>
<rect x="525.99" y="72.12" width="12.93" height="3.77" fill="#fbd6d6" stroke="none" stroke-width="0.6"/>
<rect x="538.92" y="72.12" width="12.93" height="3.77" fill="#fde7e7" stroke="none" stroke-width="0.6"/>
<rect x="551.85" y="72.12" width="12.93" height="3.77" fill="#fde7e7" stroke="none" stroke-width="0.6"/>
<rect x="564.78" y="72.12" width="12.93" height="3.77" fill="#fde7e7" stroke="none" stroke-width="0.6"/>
<rect x="577.71" y="72.12" width="12.93" height="3.77" fill="#fde7e7" stroke="none" stroke-width="0.6"/>
<rect x="590.64" y="72.12" width="12.93" height="3.77" fill="#ffffff" stroke="none" stroke-width="0.6"/>
<rect x="603.57" y="72.12" width="12.93" height="3.77" fill="#f6adad" stroke="none" stroke-width="0.6"/>
<rect x="616.50" y="72.12" width="12.93" height="3.77" fill="#fde7e7" stroke="none" stroke-width="0.6"/>
<rect x="629.43" y="72.12" width="12.93" height="3.77" fill="#fbd6d6" stroke="none" stroke-width="0.6"/>
<rect x="642.36" y="72.12" width="12.93" height="3.77" fill="#fbd6d6" stroke="none" stroke-width="0.6"/>
<rect x="487.20" y="75.89" width="12.93" height="3.77" fill="#fde7e7" stroke="none" stroke-width="0.6"/>
<rect x="500.13" y="75.89" width="12.93" height="3.77" fill="#fbd6d6" stroke="none" stroke-width="0.6"/>
<rect x="513.06" y="75.89" width="12.93" height="3.77" fill="#fde7e7" stroke="none" stroke-width="0.6"/>
<rect x="525.99" y="75.89" width="12.93" height="3.77" fill="#fbd6d6" stroke="none" stroke-width="0.6"/>
<rect x="538.92" y="75.89" width="12.93" height="3.77" fill="#fde7e7" stroke="none" stroke-width="0.6"/>
<rect x="551.85" y="75.89" width="12.93" height="3.77" fill="#fde7e7" stroke="none" stroke-width="0.6"/>
<rect x="564.78" y="75.89" width="12.93" height="3.77" fill="#fde7e7" stroke="none" stroke-width="0.6"/>
<rect x="577.71" y="75.89" width="12.93" height="3.77" fill="#fde7e7" stroke="none" stroke-width="0.6"/>
<rect x="590.64" y="75.89" width="12.93" height="3.77" fill="#fbd6d6" stroke="none" stroke-width="0.6"/>
<rect x="603.57" y="75.89" width="12.93" height="3.77" fill="#fde7e7" stroke="none" stroke-width="0.6"/>
<rect x="616.50" y="75.89" width="12.93" height="3.77" fill="#fde7e7" stroke="none" stroke-width="0.6"/>
<rect x="629.43" y="75.89" width="12.93" height="3.77" fill="#fde7e7" stroke="none" stroke-width="0.6"/>
<rect x="642.36" y="75.89" width="12.93" height="3.77" fill="#fde7e7" stroke="none" stroke-width="0.6"/>
<rect x="487.20" y="79.66" width="12.93" height="3.77" fill="#fde7e7" stroke="none" stroke-width="0.6"/>
<rect x="500.13" y="79.66" width="12.93" height="3.77" fill="#fde7e7" stroke="none" stroke-width="0.6"/>
<rect x="513.06" y="79.66" width="12.93" height="3.77" fill="#fde7e7" stroke="none" stroke-width="0.6"/>
<rect x="525.99" y="79.66" width="12.93" height="3.77" fill="#fde7e7" stroke="none" stroke-width="0.6"/>
<rect x="538.92" y="79.66" width="12.93" height="3.77" fill="#fde7e7" stroke="none" stroke-width="0.6"/>
<rect x="551.85" y="79.66" width="12.93" height="3.77" fill="#fde7e7" stroke="none" stroke-width="0.6"/>
<rect x="564.78" y="79.66" width="12.93" height="3.77" fill="#fde7e7" stroke="none" stroke-width="0.6"/>
<rect x="577.71" y="79.66" width="12.93" height="3.77" fill="#fde7e7" stroke="none" stroke-width="0.6"/>
<rect x="590.64" y="79.66" width="12.93" height="3.77" fill="#fde7e7" stroke="none" stroke-width="0.6"/>
<rect x="603.57" y="79.66" width="12.93" height="3.77" fill="#fde7e7" stroke="none" stroke-width="0.6"/>
<rect x="616.50" y="79.66" width="12.93" height="3.77" fill="#fde7e7" stroke="none" stroke-width="0.6"/>
<rect x="629.43" y="79.66" width="12.93" height="3.77" fill="#f6adad" stroke="none" stroke-width="0.6"/>
<rect x="642.36" y="79.66" width="12.93" height="3.77" fill="#fbd6d6" stroke="none" stroke-width="0.6"/>
<rect x="487.20" y="83.43" width="12.93" height="3.77" fill="#fde7e7" stroke="none" stroke-width="0.6"/>
<rect x="500.13" y="83.43" width="12.93" height="3.77" fill="#f31010" stroke="none" stroke-width="0.6"/>
<rect x="513.06" y="83.43" width="12.93" height="3.77" fill="#fde7e7" stroke="none" stroke-width="0.6"/>
<rect x="525.99" y="83.43" width="12.93" height="3.77" fill="#ffffff" stroke="none" stroke-width="0.6"/>
<rect x="538.92" y="83.43" width="12.93" height="3.77" fill="#fde7e7" stroke="none" stroke-width="0.6"/>
<rect x="551.85" y="83.43" width="12.93" height="3.77" fill="#fde7e7" stroke="none" stroke-width="0.6"/>
<rect x="564.78" y="83.43" width="12.93" height="3.77" fill="#fde7e7" stroke="none" stroke-width="0.6"/>
<rect x="577.71" y="83.43" width="12.93" height="3.77" fill="#fde7e7" stroke="none" stroke-width="0.6"/>
<rect x="590.64" y="83.43" width="12.93" height="3.77" fill="#fef8f8" stroke="none" stroke-width="0.6"/>
<rect x="603.57" y="83.43" width="12.93" height="3.77" fill="#f6adad" stroke="none" stroke-width="0.6"/>
<rect x="616.50" y="83.43" width="12.93" height="3.77" fill="#fde7e7" stroke="none" stroke-width="0.6"/>
<rect x="629.43" y="83.43" width="12.93" height="3.77" fill="#fde7e7" stroke="none" stroke-width="0.6"/>
<rect x="642.36" y="83.43" width="12.93" height="3.77" fill="#fde7e7" stroke="none" stroke-width="0.6"/>
<rect x="487.20" y="87.20" width="12.93" height="3.77" fill="#fde7e7" stroke="none" stroke-width="0.6"/>
<rect x="500.13" y="87.20" width="12.93" height="3.77" fill="#fde7e7" stroke="none" stroke-width="0.6"/>
<rect x="513.06" y="87.20" width="12.93" height="3.77" fill="#fde7e7" stroke="none" stroke-width="0.6"/>
<rect x="525.99" y="87.20" width="12.93" height="3.77" fill="#f6adad" stroke="none" stroke-width="0.6"/>
<rect x="538.92" y="87.20" width="12.93" height="3.77" fill="#fde7e7" stroke="none" stroke-width="0.6"/>
<rect x="551.85" y="87.20" width="12.93" height="3.77" fill="#fde7e7" stroke="none" stroke-width="0.6"/>
<rect x="564.78" y="87.20" width="12.93" height="3.77" fill="#fde7e7" stroke="none" stroke-width="0.6"/>
<rect x="577.71" y="87.20" width="12.93" height="3.77" fill="#fde7e7" stroke="none" stroke-width="0.6"/>
<rect x="590.64" y="87.20" width="12.93" height="3.77" fill="#fef8f8" stroke="none" stroke-width="0.6"/>
<rect x="603.57" y="87.20" width="12.93" height="3.77" fill="#fef3f3" stroke="none" stroke-width="0.6"/>
<rect x="616.50" y="87.20" width="12.93" height="3.77" fill="#fbd6d6" stroke="none" stroke-width="0.6"/>
<rect x="629.43" y="87.20" width="12.93" height="3.77" fill="#fbd6d6" stroke="none" stroke-width="0.6"/>
<rect x="642.36" y="87.20" width="12.93" height="3.77" fill="#fbd6d6" stroke="none" stroke-width="0.6"/>
<rect x="487.20" y="90.97" width="12.93" height="3.77" fill="#fde7e7" stroke="none" stroke-width="0.6"/>
<rect x="500.13" y="90.97" width="12.93" height="3.77" fill="#fde7e7" stroke="none" stroke-width="0.6"/>
<rect x="513.06" y="90.97" width="12.93" height="3.77" fill="#fde7e7" stroke="none" stroke-width="0.6"/>
<rect x="525.99" y="90.97" width="12.93" height="3.77" fill="#f6adad" stroke="none" stroke-width="0.6"/>
<rect x="538.92" y="90.97" width="12.93" height="3.77" fill="#fde7e7" stroke="none" stroke-width="0.6"/>
<rect x="551.85" y="90.97" width="12.93" height="3.77" fill="#fde7e7" stroke="none" stroke-width="0.6"/>
<rect x="564.78" y="90.97" width="12.93" height="3.77" fill="#fde7e7" stroke="none" stroke-width="0.6"/>
<rect x="577.71" y="90.97" width="12.93" height="3.77" fill="#fde7e7" stroke="none" stroke-width="0.6"/>
<rect x="590.64" y="90.97" width="12.93" height="3.77" fill="#fef8f8" stroke="none" stroke-width="0.6"/>
<rect x="603.57" y="90.97" width="12.93" height="3.77" fill="#fde7e7" stroke="none" stroke-width="0.6"/>
<rect x="616.50" y="90.97" width="12.93" height="3.77" fill="#fde7e7" stroke="none" stroke-width="0.6"/>
<rect x="629.43" y="90.97" width="12.93" height="3.77" fill="#fde7e7" stroke="none" stroke-width="0.6"/>
<rect x="642.36" y="90.97" width="12.93" height="3.77" fill="#fbd6d6" stroke="none" stroke-width="0.6"/>
<rect x="487.20" y="94.74" width="12.93" height="3.77" fill="#fde7e7" stroke="none" stroke-width="0.6"/>
<rect x="500.13" y="94.74" width="12.93" height="3.77" fill="#fde7e7" stroke="none" stroke-width="0.6"/>
<rect x="513.06" y="94.74" width="12.93" height="3.77" fill="#fde7e7" stroke="none" stroke-width="0.6"/>
<rect x="525.99" y="94.74" width="12.93" height="3.77" fill="#f6adad" stroke="none" stroke-width="0.6"/>
<rect x="538.92" y="94.74" width="12.93" height="3.77" fill="#fde7e7" stroke="none" stroke-width="0.6"/>
<rect x="551.85" y="94.74" width="12.93" height="3.77" fill="#fde7e7" stroke="none" stroke-width="0.6"/>
<rect x="564.78" y="94.74" width="12.93" height="3.77" fill="#fde7e7" stroke="none" stroke-width="0.6"/>
<rect x="577.71" y="94.74" width="12.93" height="3.77" fill="#fde7e7" stroke="none" stroke-width="0.6"/>
<rect x="590.64" y="94.74" width="12.93" height="3.77" fill="#fde7e7" stroke="none" stroke-width="0.6"/>
<rect x="603.57" y="94.74" width="12.93" height="3.77" fill="#fde7e7" stroke="none" stroke-width="0.6"/>
<rect x="616.50" y="94.74" width="12.93" height="3.77" fill="#fde7e7" stroke="none" stroke-width="0.6"/>
<rect x="629.43" y="94.74" width="12.93" height="3.77" fill="#fde7e7" stroke="none" stroke-width="0.6"/>
<rect x="642.36" y="94.74" width="12.93" height="3.77" fill="#fde7e7" stroke="none" stroke-width="0.6"/>
<rect x="487.20" y="98.51" width="12.93" height="3.77" fill="#fbd6d6" stroke="none" stroke-width="0.6"/>
<rect x="500.13" y="98.51" width="12.93" height="3.77" fill="#fde7e7" stroke="none" stroke-width="0.6"/>
<rect x="513.06" y="98.51" width="12.93" height="3.77" fill="#fde7e7" stroke="none" stroke-width="0.6"/>
<rect x="525.99" y="98.51" width="12.93" height="3.77" fill="#fde7e7" stroke="none" stroke-width="0.6"/>
<rect x="538.92" y="98.51" width="12.93" height="3.77" fill="#f39696" stroke="none" stroke-width="0.6"/>
<rect x="551.85" y="98.51" width="12.93" height="3.77" fill="#fde7e7" stroke="none" stroke-width="0.6"/>
<rect x="564.78" y="98.51" width="12.93" height="3.77" fill="#f6adad" stroke="none" stroke-width="0.6"/>
<rect x="577.71" y="98.51" width="12.93" height="3.77" fill="#fde7e7" stroke="none" stroke-width="0.6"/>
<rect x="590.64" y="98.51" width="12.93" height="3.77" fill="#fde7e7" stroke="none" stroke-width="0.6"/>
<rect x="603.57" y="98.51" width="12.93" height="3.77" fill="#fde7e7" stroke="none" stroke-width="0.6"/>
<rect x="616.50" y="98.51" width="12.93" height="3.77" fill="#fde7e7" stroke="none" stroke-width="0.6"/>
<rect x="629.43" y="98.51" width="12.93" height="3.77" fill="#fde7e7" stroke="none" stroke-width="0.6"/>
<rect x="642.36" y="98.51" width="12.93" height="3.77" fill="#fde7e7" stroke="none" stroke-width="0.6"/>
<rect x="487.20" y="102.28" width="12.93" height="3.77" fill="#fef3f3" stroke="none" stroke-width="0.6"/>
<rect x="500.13" y="102.28" width="12.93" height="3.77" fill="#f6adad" stroke="none" stroke-width="0.6"/>
<rect x="513.06" y="102.28" width="12.93" height="3.77" fill="#fde7e7" stroke="none" stroke-width="0.6"/>
<rect x="525.99" y="102.28" width="12.93" height="3.77" fill="#f9c4c4" stroke="none" stroke-width="0.6"/>
<rect x="538.92" y="102.28" width="12.93" height="3.77" fill="#fde7e7" stroke="none" stroke-width="0.6"/>
<rect x="551.85" y="102.28" width="12.93" height="3.77" fill="#fde7e7" stroke="none" stroke-width="0.6"/>
<rect x="564.78" y="102.28" width="12.93" height="3.77" fill="#fef3f3" stroke="none" stroke-width="0.6"/>
<rect x="577.71" y="102.28" width="12.93" height="3.77" fill="#fde7e7" stroke="none" stroke-width="0.6"/>
<rect x="590.64" y="102.28" width="12.93" height="3.77" fill="#fef8f8" stroke="none" stroke-width="0.6"/>
<rect x="603.57" y="102.28" width="12.93" height="3.77" fill="#fde7e7" stroke="none" stroke-width="0.6"/>
<rect x="616.50" y="102.28" width="12.93" height="3.77" fill="#fde7e7" stroke="none" stroke-width="0.6"/>
<rect x="629.43" y="102.28" width="12.93" height="3.77" fill="#fbd6d6" stroke="none" stroke-width="0.6"/>
<rect x="642.36" y="102.28" width="12.93" height="3.77" fill="#fbd6d6" stroke="none" stroke-width="0.6"/>
<rect x="487.20" y="106.05" width="12.93" height="3.77" fill="#fbd6d6" stroke="none" stroke-width="0.6"/>
<rect x="500.13" y="106.05" width="12.93" height="3.77" fill="#f9c4c4" stroke="none" stroke-width="0.6"/>
<rect x="513.06" y="106.05" width="12.93" height="3.77" fill="#fde7e7" stroke="none" stroke-width="0.6"/>
<rect x="525.99" y="106.05" width="12.93" height="3.77" fill="#f9c4c4" stroke="none" stroke-width="0.6"/>
<rect x="538.92" y="106.05" width="12.93" height="3.77" fill="#fde7e7" stroke="none" stroke-width="0.6"/>
<rect x="551.85" y="106.05" width="12.93" height="3.77" fill="#fde7e7" stroke="none" stroke-width="0.6"/>
<rect x="564.78" y="106.05" width="12.93" height="3.77" fill="#f9c4c4" stroke="none" stroke-width="0.6"/>
<rect x="577.71" y="106.05" width="12.93" height="3.77" fill="#fbd6d6" stroke="none" stroke-width="0.6"/>
<rect x="590.64" y="106.05" width="12.93" height="3.77" fill="#fef8f8" stroke="none" stroke-width="0.6"/>
<rect x="603.57" y="106.05" width="12.93" height="3.77" fill="#fde7e7" stroke="none" stroke-width="0.6"/>
<rect x="616.50" y="106.05" width="12.93" height="3.77" fill="#fde7e7" stroke="none" stroke-width="0.6"/>
<rect x="629.43" y="106.05" width="12.93" height="3.77" fill="#fde7e7" stroke="none" stroke-width="0.6"/>
<rect x="642.36" y="106.05" width="12.93" height="3.77" fill="#fde7e7" stroke="none" stroke-width="0.6"/>
<rect x="487.20" y="109.82" width="12.93" height="3.77" fill="#fbd6d6" stroke="none" stroke-width="0.6"/>
<rect x="500.13" y="109.82" width="12.93" height="3.77" fill="#fbd6d6" stroke="none" stroke-width="0.6"/>
<rect x="513.06" y="109.82" width="12.93" height="3.77" fill="#fde7e7" stroke="none" stroke-width="0.6"/>
<rect x="525.99" y="109.82" width="12.93" height="3.77" fill="#fbd6d6" stroke="none" stroke-width="0.6"/>
<rect x="538.92" y="109.82" width="12.93" height="3.77" fill="#fde7e7" stroke="none" stroke-width="0.6"/>
<rect x="551.85" y="109.82" width="12.93" height="3.77" fill="#fde7e7" stroke="none" stroke-width="0.6"/>
<rect x="564.78" y="109.82" width="12.93" height="3.77" fill="#f9c4c4" stroke="none" stroke-width="0.6"/>
<rect x="577.71" y="109.82" width="12.93" height="3.77" fill="#fef8f8" stroke="none" stroke-width="0.6"/>
<rect x="590.64" y="109.82" width="12.93" height="3.77" fill="#fbd6d6" stroke="none" stroke-width="0.6"/>
<rect x="603.57" y="109.82" width="12.93" height="3.77" fill="#fde7e7" stroke="none" stroke-width="0.6"/>
<rect x="616.50" y="109.82" width="12.93" height="3.77" fill="#fbd6d6" stroke="none" stroke-width="0.6"/>
<rect x="629.43" y="109.82" width="12.93" height="3.77" fill="#fde7e7" stroke="none" stroke-width="0.6"/>
<rect x="642.36" y="109.82" width="12.93" height="3.77" fill="#fde7e7" stroke="none" stroke-width="0.6"/>
<rect x="487.20" y="113.59" width="12.93" height="3.77" fill="#fde7e7" stroke="none" stroke-width="0.6"/>
<rect x="500.13" y="113.59" width="12.93" height="3.77" fill="#fde7e7" stroke="none" stroke-width="0.6"/>
<rect x="513.06" y="113.59" width="12.93" height="3.77" fill="#fde7e7" stroke="none" stroke-width="0.6"/>
<rect x="525.99" y="113.59" width="12.93" height="3.77" fill="#ffffff" stroke="none" stroke-width="0.6"/>
<rect x="538.92" y="113.59" width="12.93" height="3.77" fill="#fde7e7" stroke="none" stroke-width="0.6"/>
<rect x="551.85" y="113.59" width="12.93" height="3.77" fill="#fbd6d6" stroke="none" stroke-width="0.6"/>
<rect x="564.78" y="113.59" width="12.93" height="3.77" fill="#f39696" stroke="none" stroke-width="0.6"/>
<rect x="577.71" y="113.59" width="12.93" height="3.77" fill="#fde7e7" stroke="none" stroke-width="0.6"/>
<rect x="590.64" y="113.59" width="12.93" height="3.77" fill="#f07777" stroke="none" stroke-width="0.6"/>
<rect x="603.57" y="113.59" width="12.93" height="3.77" fill="#f39696" stroke="none" stroke-width="0.6"/>
<rect x="616.50" y="113.59" width="12.93" height="3.77" fill="#ee5858" stroke="none" stroke-width="0.6"/>
<rect x="629.43" y="113.59" width="12.93" height="3.77" fill="#ee5858" stroke="none" stroke-width="0.6"/>
<rect x="642.36" y="113.59" width="12.93" height="3.77" fill="#f31010" stroke="none" stroke-width="0.6"/>
<rect x="487.20" y="117.36" width="12.93" height="3.77" fill="#f6adad" stroke="none" stroke-width="0.6"/>
<rect x="500.13" y="117.36" width="12.93" height="3.77" fill="#f07777" stroke="none" stroke-width="0.6"/>
<rect x="513.06" y="117.36" width="12.93" height="3.77" fill="#fde7e7" stroke="none" stroke-width="0.6"/>
<rect x="525.99" y="117.36" width="12.93" height="3.77" fill="#fbd6d6" stroke="none" stroke-width="0.6"/>
<rect x="538.92" y="117.36" width="12.93" height="3.77" fill="#fde7e7" stroke="none" stroke-width="0.6"/>
<rect x="551.85" y="117.36" width="12.93" height="3.77" fill="#fde7e7" stroke="none" stroke-width="0.6"/>
<rect x="564.78" y="117.36" width="12.93" height="3.77" fill="#fef8f8" stroke="none" stroke-width="0.6"/>
<rect x="577.71" y="117.36" width="12.93" height="3.77" fill="#fde7e7" stroke="none" stroke-width="0.6"/>
<rect x="590.64" y="117.36" width="12.93" height="3.77" fill="#f6adad" stroke="none" stroke-width="0.6"/>
<rect x="603.57" y="117.36" width="12.93" height="3.77" fill="#f6adad" stroke="none" stroke-width="0.6"/>
<rect x="616.50" y="117.36" width="12.93" height="3.77" fill="#f6adad" stroke="none" stroke-width="0.6"/>
<rect x="629.43" y="117.36" width="12.93" height="3.77" fill="#f07777" stroke="none" stroke-width="0.6"/>
<rect x="642.36" y="117.36" width="12.93" height="3.77" fill="#f6adad" stroke="none" stroke-width="0.6"/>
<rect x="487.20" y="121.13" width="12.93" height="3.77" fill="#f9c4c4" stroke="none" stroke-width="0.6"/>
<rect x="500.13" y="121.13" width="12.93" height="3.77" fill="#fbd6d6" stroke="none" stroke-width="0.6"/>
<rect x="513.06" y="121.13" width="12.93" height="3.77" fill="#fde7e7" stroke="none" stroke-width="0.6"/>
<rect x="525.99" y="121.13" width="12.93" height="3.77" fill="#f6adad" stroke="none" stroke-width="0.6"/>
<rect x="538.92" y="121.13" width="12.93" height="3.77" fill="#fde7e7" stroke="none" stroke-width="0.6"/>
<rect x="551.85" y="121.13" width="12.93" height="3.77" fill="#fde7e7" stroke="none" stroke-width="0.6"/>
<rect x="564.78" y="121.13" width="12.93" height="3.77" fill="#fde7e7" stroke="none" stroke-width="0.6"/>
<rect x="577.71" y="121.13" width="12.93" height="3.77" fill="#fde7e7" stroke="none" stroke-width="0.6"/>
<rect x="590.64" y="121.13" width="12.93" height="3.77" fill="#ffffff" stroke="none" stroke-width="0.6"/>
<rect x="603.57" y="121.13" width="12.93" height="3.77" fill="#fde7e7" stroke="none" stroke-width="0.6"/>
<rect x="616.50" y="121.13" width="12.93" height="3.77" fill="#f03434" stroke="none" stroke-width="0.6"/>
<rect x="629.43" y="121.13" width="12.93" height="3.77" fill="#f07777" stroke="none" stroke-width="0.6"/>
<rect x="642.36" y="121.13" width="12.93" height="3.77" fill="#f6adad" stroke="none" stroke-width="0.6"/>
<rect x="487.20" y="124.90" width="12.93" height="3.77" fill="#f9c4c4" stroke="none" stroke-width="0.6"/>
<rect x="500.13" y="124.90" width="12.93" height="3.77" fill="#fef3f3" stroke="none" stroke-width="0.6"/>
<rect x="513.06" y="124.90" width="12.93" height="3.77" fill="#fde7e7" stroke="none" stroke-width="0.6"/>
<rect x="525.99" y="124.90" width="12.93" height="3.77" fill="#f6adad" stroke="none" stroke-width="0.6"/>
<rect x="538.92" y="124.90" width="12.93" height="3.77" fill="#f07777" stroke="none" stroke-width="0.6"/>
<rect x="551.85" y="124.90" width="12.93" height="3.77" fill="#f31010" stroke="none" stroke-width="0.6"/>
<rect x="564.78" y="124.90" width="12.93" height="3.77" fill="#f6adad" stroke="none" stroke-width="0.6"/>
<rect x="577.71" y="124.90" width="12.93" height="3.77" fill="#f9c4c4" stroke="none" stroke-width="0.6"/>
<rect x="590.64" y="124.90" width="12.93" height="3.77" fill="#ffffff" stroke="none" stroke-width="0.6"/>
<rect x="603.57" y="124.90" width="12.93" height="3.77" fill="#fde7e7" stroke="none" stroke-width="0.6"/>
<rect x="616.50" y="124.90" width="12.93" height="3.77" fill="#f9c4c4" stroke="none" stroke-width="0.6"/>
<rect x="629.43" y="124.90" width="12.93" height="3.77" fill="#fde7e7" stroke="none" stroke-width="0.6"/>
<rect x="642.36" y="124.90" width="12.93" height="3.77" fill="#fde7e7" stroke="none" stroke-width="0.6"/>
<rect x="487.20" y="128.67" width="12.93" height="3.77" fill="#fde7e7" stroke="none" stroke-width="0.6"/>
<rect x="500.13" y="128.67" width="12.93" height="3.77" fill="#f9c4c4" stroke="none" stroke-width="0.6"/>
<rect x="513.06" y="128.67" width="12.93" height="3.77" fill="#fde7e7" stroke="none" stroke-width="0.6"/>
<rect x="525.99" y="128.67" width="12.93" height="3.77" fill="#f6adad" stroke="none" stroke-width="0.6"/>
<rect x="538.92" y="128.67" width="12.93" height="3.77" fill="#ee5858" stroke="none" stroke-width="0.6"/>
<rect x="551.85" y="128.67" width="12.93" height="3.77" fill="#fde7e7" stroke="none" stroke-width="0.6"/>
<rect x="564.78" y="128.67" width="12.93" height="3.77" fill="#f39696" stroke="none" stroke-width="0.6"/>
<rect x="577.71" y="128.67" width="12.93" height="3.77" fill="#f39696" stroke="none" stroke-width="0.6"/>
<rect x="590.64" y="128.67" width="12.93" height="3.77" fill="#fde7e7" stroke="none" stroke-width="0.6"/>
<rect x="603.57" y="128.67" width="12.93" height="3.77" fill="#fde7e7" stroke="none" stroke-width="0.6"/>
<rect x="616.50" y="128.67" width="12.93" height="3.77" fill="#fde7e7" stroke="none" stroke-width="0.6"/>
<rect x="629.43" y="128.67" width="12.93" height="3.77" fill="#fde7e7" stroke="none" stroke-width="0.6"/>
<rect x="642.36" y="128.67" width="12.93" height="3.77" fill="#fde7e7" stroke="none" stroke-width="0.6"/>
<rect x="487.20" y="132.44" width="12.93" height="3.77" fill="#fbd6d6" stroke="none" stroke-width="0.6"/>
<rect x="500.13" y="132.44" width="12.93" height="3.77" fill="#f6adad" stroke="none" stroke-width="0.6"/>
<rect x="513.06" y="132.44" width="12.93" height="3.77" fill="#fde7e7" stroke="none" stroke-width="0.6"/>
<rect x="525.99" y="132.44" width="12.93" height="3.77" fill="#f39696" stroke="none" stroke-width="0.6"/>
<rect x="538.92" y="132.44" width="12.93" height="3.77" fill="#ee5858" stroke="none" stroke-width="0.6"/>
<rect x="551.85" y="132.44" width="12.93" height="3.77" fill="#fbd6d6" stroke="none" stroke-width="0.6"/>
<rect x="564.78" y="132.44" width="12.93" height="3.77" fill="#fde7e7" stroke="none" stroke-width="0.6"/>
<rect x="577.71" y="132.44" width="12.93" height="3.77" fill="#fbd6d6" stroke="none" stroke-width="0.6"/>
<rect x="590.64" y="132.44" width="12.93" height="3.77" fill="#fef3f3" stroke="none" stroke-width="0.6"/>
<rect x="603.57" y="132.44" width="12.93" height="3.77" fill="#fde7e7" stroke="none" stroke-width="0.6"/>
<rect x="616.50" y="132.44" width="12.93" height="3.77" fill="#fde7e7" stroke="none" stroke-width="0.6"/>
<rect x="629.43" y="132.44" width="12.93" height="3.77" fill="#fde7e7" stroke="none" stroke-width="0.6"/>
<rect x="642.36" y="132.44" width="12.93" height="3.77" fill="#fde7e7" stroke="none" stroke-width="0.6"/>
<rect x="487.20" y="136.21" width="12.93" height="3.77" fill="#fde7e7" stroke="none" stroke-width="0.6"/>
<rect x="500.13" y="136.21" width="12.93" height="3.77" fill="#fde7e7" stroke="none" stroke-width="0.6"/>
<rect x="513.06" y="136.21" width="12.93" height="3.77" fill="#f31010" stroke="none" stroke-width="0.6"/>
<rect x="525.99" y="136.21" width="12.93" height="3.77" fill="#ffffff" stroke="none" stroke-width="0.6"/>
<rect x="538.92" y="136.21" width="12.93" height="3.77" fill="#fde7e7" stroke="none" stroke-width="0.6"/>
<rect x="551.85" y="136.21" width="12.93" height="3.77" fill="#fde7e7" stroke="none" stroke-width="0.6"/>
<rect x="564.78" y="136.21" width="12.93" height="3.77" fill="#fde7e7" stroke="none" stroke-width="0.6"/>
<rect x="577.71" y="136.21" width="12.93" height="3.77" fill="#fde7e7" stroke="none" stroke-width="0.6"/>
<rect x="590.64" y="136.21" width="12.93" height="3.77" fill="#fef3f3" stroke="none" stroke-width="0.6"/>
<rect x="603.57" y="136.21" width="12.93" height="3.77" fill="#fde7e7" stroke="none" stroke-width="0.6"/>
<rect x="616.50" y="136.21" width="12.93" height="3.77" fill="#fde7e7" stroke="none" stroke-width="0.6"/>
<rect x="629.43" y="136.21" width="12.93" height="3.77" fill="#fde7e7" stroke="none" stroke-width="0.6"/>
<rect x="642.36" y="136.21" width="12.93" height="3.77" fill="#fde7e7" stroke="none" stroke-width="0.6"/>
<rect x="487.20" y="139.98" width="12.93" height="3.77" fill="#f39696" stroke="none" stroke-width="0.6"/>
<rect x="500.13" y="139.98" width="12.93" height="3.77" fill="#fde7e7" stroke="none" stroke-width="0.6"/>
<rect x="513.06" y="139.98" width="12.93" height="3.77" fill="#f6adad" stroke="none" stroke-width="0.6"/>
<rect x="525.99" y="139.98" width="12.93" height="3.77" fill="#f6adad" stroke="none" stroke-width="0.6"/>
<rect x="538.92" y="139.98" width="12.93" height="3.77" fill="#fde7e7" stroke="none" stroke-width="0.6"/>
<rect x="551.85" y="139.98" width="12.93" height="3.77" fill="#fde7e7" stroke="none" stroke-width="0.6"/>
<rect x="564.78" y="139.98" width="12.93" height="3.77" fill="#fde7e7" stroke="none" stroke-width="0.6"/>
<rect x="577.71" y="139.98" width="12.93" height="3.77" fill="#fde7e7" stroke="none" stroke-width="0.6"/>
<rect x="590.64" y="139.98" width="12.93" height="3.77" fill="#fef3f3" stroke="none" stroke-width="0.6"/>
<rect x="603.57" y="139.98" width="12.93" height="3.77" fill="#fde7e7" stroke="none" stroke-width="0.6"/>
<rect x="616.50" y="139.98" width="12.93" height="3.77" fill="#fbd6d6" stroke="none" stroke-width="0.6"/>
<rect x="629.43" y="139.98" width="12.93" height="3.77" fill="#fde7e7" stroke="none" stroke-width="0.6"/>
<rect x="642.36" y="139.98" width="12.93" height="3.77" fill="#fde7e7" stroke="none" stroke-width="0.6"/>
<rect x="487.20" y="143.75" width="12.93" height="3.77" fill="#ee5858" stroke="none" stroke-width="0.6"/>
<rect x="500.13" y="143.75" width="12.93" height="3.77" fill="#fde7e7" stroke="none" stroke-width="0.6"/>
<rect x="513.06" y="143.75" width="12.93" height="3.77" fill="#fde7e7" stroke="none" stroke-width="0.6"/>
<rect x="525.99" y="143.75" width="12.93" height="3.77" fill="#fde7e7" stroke="none" stroke-width="0.6"/>
<rect x="538.92" y="143.75" width="12.93" height="3.77" fill="#fde7e7" stroke="none" stroke-width="0.6"/>
<rect x="551.85" y="143.75" width="12.93" height="3.77" fill="#fde7e7" stroke="none" stroke-width="0.6"/>
<rect x="564.78" y="143.75" width="12.93" height="3.77" fill="#fde7e7" stroke="none" stroke-width="0.6"/>
<rect x="577.71" y="143.75" width="12.93" height="3.77" fill="#fde7e7" stroke="none" stroke-width="0.6"/>
<rect x="590.64" y="143.75" width="12.93" height="3.77" fill="#fef8f8" stroke="none" stroke-width="0.6"/>
<rect x="603.57" y="143.75" width="12.93" height="3.77" fill="#fef3f3" stroke="none" stroke-width="0.6"/>
<rect x="616.50" y="143.75" width="12.93" height="3.77" fill="#fde7e7" stroke="none" stroke-width="0.6"/>
<rect x="629.43" y="143.75" width="12.93" height="3.77" fill="#fde7e7" stroke="none" stroke-width="0.6"/>
<rect x="642.36" y="143.75" width="12.93" height="3.77" fill="#fde7e7" stroke="none" stroke-width="0.6"/>
<rect x="487.20" y="147.52" width="12.93" height="3.77" fill="#f39696" stroke="none" stroke-width="0.6"/>
<rect x="500.13" y="147.52" width="12.93" height="3.77" fill="#fde7e7" stroke="none" stroke-width="0.6"/>
<rect x="513.06" y="147.52" width="12.93" height="3.77" fill="#fde7e7" stroke="none" stroke-width="0.6"/>
<rect x="525.99" y="147.52" width="12.93" height="3.77" fill="#fde7e7" stroke="none" stroke-width="0.6"/>
<rect x="538.92" y="147.52" width="12.93" height="3.77" fill="#fde7e7" stroke="none" stroke-width="0.6"/>
<rect x="551.85" y="147.52" width="12.93" height="3.77" fill="#fde7e7" stroke="none" stroke-width="0.6"/>
<rect x="564.78" y="147.52" width="12.93" height="3.77" fill="#fde7e7" stroke="none" stroke-width="0.6"/>
<rect x="577.71" y="147.52" width="12.93" height="3.77" fill="#fde7e7" stroke="none" stroke-width="0.6"/>
<rect x="590.64" y="147.52" width="12.93" height="3.77" fill="#f6adad" stroke="none" stroke-width="0.6"/>
<rect x="603.57" y="147.52" width="12.93" height="3.77" fill="#f9c4c4" stroke="none" stroke-width="0.6"/>
<rect x="616.50" y="147.52" width="12.93" height="3.77" fill="#fbd6d6" stroke="none" stroke-width="0.6"/>
<rect x="629.43" y="147.52" width="12.93" height="3.77" fill="#fde7e7" stroke="none" stroke-width="0.6"/>
<rect x="642.36" y="147.52" width="12.93" height="3.77" fill="#fbd6d6" stroke="none" stroke-width="0.6"/>
<rect x="487.20" y="151.29" width="12.93" height="3.77" fill="#fde7e7" stroke="none" stroke-width="0.6"/>
<rect x="500.13" y="151.29" width="12.93" height="3.77" fill="#fde7e7" stroke="none" stroke-width="0.6"/>
<rect x="513.06" y="151.29" width="12.93" height="3.77" fill="#fde7e7" stroke="none" stroke-width="0.6"/>
<rect x="525.99" y="151.29" width="12.93" height="3.77" fill="#ffffff" stroke="none" stroke-width="0.6"/>
<rect x="538.92" y="151.29" width="12.93" height="3.77" fill="#fde7e7" stroke="none" stroke-width="0.6"/>
<rect x="551.85" y="151.29" width="12.93" height="3.77" fill="#fde7e7" stroke="none" stroke-width="0.6"/>
<rect x="564.78" y="151.29" width="12.93" height="3.77" fill="#fef3f3" stroke="none" stroke-width="0.6"/>
<rect x="577.71" y="151.29" width="12.93" height="3.77" fill="#ee5858" stroke="none" stroke-width="0.6"/>
<rect x="590.64" y="151.29" width="12.93" height="3.77" fill="#f6adad" stroke="none" stroke-width="0.6"/>
<rect x="603.57" y="151.29" width="12.93" height="3.77" fill="#f9c4c4" stroke="none" stroke-width="0.6"/>
<rect x="616.50" y="151.29" width="12.93" height="3.77" fill="#fef3f3" stroke="none" stroke-width="0.6"/>
<rect x="629.43" y="151.29" width="12.93" height="3.77" fill="#fde7e7" stroke="none" stroke-width="0.6"/>
<rect x="642.36" y="151.29" width="12.93" height="3.77" fill="#fde7e7" stroke="none" stroke-width="0.6"/>
<rect x="487.20" y="155.06" width="12.93" height="3.77" fill="#fde7e7" stroke="none" stroke-width="0.6"/>
<rect x="500.13" y="155.06" width="12.93" height="3.77" fill="#fde7e7" stroke="none" stroke-width="0.6"/>
<rect x="513.06" y="155.06" width="12.93" height="3.77" fill="#fde7e7" stroke="none" stroke-width="0.6"/>
<rect x="525.99" y="155.06" width="12.93" height="3.77" fill="#fde7e7" stroke="none" stroke-width="0.6"/>
<rect x="538.92" y="155.06" width="12.93" height="3.77" fill="#fde7e7" stroke="none" stroke-width="0.6"/>
<rect x="551.85" y="155.06" width="12.93" height="3.77" fill="#fde7e7" stroke="none" stroke-width="0.6"/>
<rect x="564.78" y="155.06" width="12.93" height="3.77" fill="#fef3f3" stroke="none" stroke-width="0.6"/>
<rect x="577.71" y="155.06" width="12.93" height="3.77" fill="#f39696" stroke="none" stroke-width="0.6"/>
<rect x="590.64" y="155.06" width="12.93" height="3.77" fill="#f9c4c4" stroke="none" stroke-width="0.6"/>
<rect x="603.57" y="155.06" width="12.93" height="3.77" fill="#fbd6d6" stroke="none" stroke-width="0.6"/>
<rect x="616.50" y="155.06" width="12.93" height="3.77" fill="#fde7e7" stroke="none" stroke-width="0.6"/>
<rect x="629.43" y="155.06" width="12.93" height="3.77" fill="#fde7e7" stroke="none" stroke-width="0.6"/>
<rect x="642.36" y="155.06" width="12.93" height="3.77" fill="#fde7e7" stroke="none" stroke-width="0.6"/>
<rect x="487.20" y="158.83" width="12.93" height="3.77" fill="#fde7e7" stroke="none" stroke-width="0.6"/>
<rect x="500.13" y="158.83" width="12.93" height="3.77" fill="#fde7e7" stroke="none" stroke-width="0.6"/>
<rect x="513.06" y="158.83" width="12.93" height="3.77" fill="#fde7e7" stroke="none" stroke-width="0.6"/>
<rect x="525.99" y="158.83" width="12.93" height="3.77" fill="#ffffff" stroke="none" stroke-width="0.6"/>
<rect x="538.92" y="158.83" width="12.93" height="3.77" fill="#fde7e7" stroke="none" stroke-width="0.6"/>
<rect x="551.85" y="158.83" width="12.93" height="3.77" fill="#fde7e7" stroke="none" stroke-width="0.6"/>
<rect x="564.78" y="158.83" width="12.93" height="3.77" fill="#fef3f3" stroke="none" stroke-width="0.6"/>
<rect x="577.71" y="158.83" width="12.93" height="3.77" fill="#f39696" stroke="none" stroke-width="0.6"/>
<rect x="590.64" y="158.83" width="12.93" height="3.77" fill="#ffffff" stroke="none" stroke-width="0.6"/>
<rect x="603.57" y="158.83" width="12.93" height="3.77" fill="#ffffff" stroke="none" stroke-width="0.6"/>
<rect x="616.50" y="158.83" width="12.93" height="3.77" fill="#fde7e7" stroke="none" stroke-width="0.6"/>
<rect x="629.43" y="158.83" width="12.93" height="3.77" fill="#fde7e7" stroke="none" stroke-width="0.6"/>
<rect x="642.36" y="158.83" width="12.93" height="3.77" fill="#fde7e7" stroke="none" stroke-width="0.6"/>
<rect x="487.20" y="162.60" width="12.93" height="3.77" fill="#fde7e7" stroke="none" stroke-width="0.6"/>
<rect x="500.13" y="162.60" width="12.93" height="3.77" fill="#fde7e7" stroke="none" stroke-width="0.6"/>
<rect x="513.06" y="162.60" width="12.93" height="3.77" fill="#fde7e7" stroke="none" stroke-width="0.6"/>
<rect x="525.99" y="162.60" width="12.93" height="3.77" fill="#f6adad" stroke="none" stroke-width="0.6"/>
<rect x="538.92" y="162.60" width="12.93" height="3.77" fill="#fde7e7" stroke="none" stroke-width="0.6"/>
<rect x="551.85" y="162.60" width="12.93" height="3.77" fill="#fde7e7" stroke="none" stroke-width="0.6"/>
<rect x="564.78" y="162.60" width="12.93" height="3.77" fill="#fef3f3" stroke="none" stroke-width="0.6"/>
<rect x="577.71" y="162.60" width="12.93" height="3.77" fill="#f39696" stroke="none" stroke-width="0.6"/>
<rect x="590.64" y="162.60" width="12.93" height="3.77" fill="#fde7e7" stroke="none" stroke-width="0.6"/>
<rect x="603.57" y="162.60" width="12.93" height="3.77" fill="#fbd6d6" stroke="none" stroke-width="0.6"/>
<rect x="616.50" y="162.60" width="12.93" height="3.77" fill="#fef3f3" stroke="none" stroke-width="0.6"/>
<rect x="629.43" y="162.60" width="12.93" height="3.77" fill="#fde7e7" stroke="none" stroke-width="0.6"/>
<rect x="642.36" y="162.60" width="12.93" height="3.77" fill="#fbd6d6" stroke="none" stroke-width="0.6"/>
<rect x="487.20" y="166.37" width="12.93" height="3.77" fill="#f6adad" stroke="none" stroke-width="0.6"/>
<rect x="500.13" y="166.37" width="12.93" height="3.77" fill="#fde7e7" stroke="none" stroke-width="0.6"/>
<rect x="513.06" y="166.37" width="12.93" height="3.77" fill="#fde7e7" stroke="none" stroke-width="0.6"/>
<rect x="525.99" y="166.37" width="12.93" height="3.77" fill="#f9c4c4" stroke="none" stroke-width="0.6"/>
<rect x="538.92" y="166.37" width="12.93" height="3.77" fill="#fde7e7" stroke="none" stroke-width="0.6"/>
<rect x="551.85" y="166.37" width="12.93" height="3.77" fill="#fde7e7" stroke="none" stroke-width="0.6"/>
<rect x="564.78" y="166.37" width="12.93" height="3.77" fill="#fef3f3" stroke="none" stroke-width="0.6"/>
<rect x="577.71" y="166.37" width="12.93" height="3.77" fill="#f39696" stroke="none" stroke-width="0.6"/>
<rect x="590.64" y="166.37" width="12.93" height="3.77" fill="#fde7e7" stroke="none" stroke-width="0.6"/>
<rect x="603.57" y="166.37" width="12.93" height="3.77" fill="#fbd6d6" stroke="none" stroke-width="0.6"/>
<rect x="616.50" y="166.37" width="12.93" height="3.77" fill="#f9c4c4" stroke="none" stroke-width="0.6"/>
<rect x="629.43" y="166.37" width="12.93" height="3.77" fill="#fde7e7" stroke="none" stroke-width="0.6"/>
<rect x="642.36" y="166.37" width="12.93" height="3.77" fill="#fbd6d6" stroke="none" stroke-width="0.6"/>
<rect x="487.20" y="170.14" width="12.93" height="3.77" fill="#f9c4c4" stroke="none" stroke-width="0.6"/>
<rect x="500.13" y="170.14" width="12.93" height="3.77" fill="#f9c4c4" stroke="none" stroke-width="0.6"/>
<rect x="513.06" y="170.14" width="12.93" height="3.77" fill="#fde7e7" stroke="none" stroke-width="0.6"/>
<rect x="525.99" y="170.14" width="12.93" height="3.77" fill="#f39696" stroke="none" stroke-width="0.6"/>
<rect x="538.92" y="170.14" width="12.93" height="3.77" fill="#fde7e7" stroke="none" stroke-width="0.6"/>
<rect x="551.85" y="170.14" width="12.93" height="3.77" fill="#fde7e7" stroke="none" stroke-width="0.6"/>
<rect x="564.78" y="170.14" width="12.93" height="3.77" fill="#fef3f3" stroke="none" stroke-width="0.6"/>
<rect x="577.71" y="170.14" width="12.93" height="3.77" fill="#fde7e7" stroke="none" stroke-width="0.6"/>
<rect x="590.64" y="170.14" width="12.93" height="3.77" fill="#f07777" stroke="none" stroke-width="0.6"/>
<rect x="603.57" y="170.14" width="12.93" height="3.77" fill="#f6adad" stroke="none" stroke-width="0.6"/>
<rect x="616.50" y="170.14" width="12.93" height="3.77" fill="#f9c4c4" stroke="none" stroke-width="0.6"/>
<rect x="629.43" y="170.14" width="12.93" height="3.77" fill="#fbd6d6" stroke="none" stroke-width="0.6"/>
<rect x="642.36" y="170.14" width="12.93" height="3.77" fill="#f9c4c4" stroke="none" stroke-width="0.6"/>
<rect x="487.20" y="173.91" width="12.93" height="3.77" fill="#fde7e7" stroke="none" stroke-width="0.6"/>
<rect x="500.13" y="173.91" width="12.93" height="3.77" fill="#fde7e7" stroke="none" stroke-width="0.6"/>
<rect x="513.06" y="173.91" width="12.93" height="3.77" fill="#fde7e7" stroke="none" stroke-width="0.6"/>
<rect x="525.99" y="173.91" width="12.93" height="3.77" fill="#ffffff" stroke="none" stroke-width="0.6"/>
<rect x="538.92" y="173.91" width="12.93" height="3.77" fill="#fde7e7" stroke="none" stroke-width="0.6"/>
<rect x="551.85" y="173.91" width="12.93" height="3.77" fill="#fde7e7" stroke="none" stroke-width="0.6"/>
<rect x="564.78" y="173.91" width="12.93" height="3.77" fill="#fef3f3" stroke="none" stroke-width="0.6"/>
<rect x="577.71" y="173.91" width="12.93" height="3.77" fill="#fde7e7" stroke="none" stroke-width="0.6"/>
<rect x="590.64" y="173.91" width="12.93" height="3.77" fill="#f07777" stroke="none" stroke-width="0.6"/>
<rect x="603.57" y="173.91" width="12.93" height="3.77" fill="#f03434" stroke="none" stroke-width="0.6"/>
<rect x="616.50" y="173.91" width="12.93" height="3.77" fill="#f9c4c4" stroke="none" stroke-width="0.6"/>
<rect x="629.43" y="173.91" width="12.93" height="3.77" fill="#fbd6d6" stroke="none" stroke-width="0.6"/>
<rect x="642.36" y="173.91" width="12.93" height="3.77" fill="#f9c4c4" stroke="none" stroke-width="0.6"/>
<rect x="487.20" y="177.68" width="12.93" height="3.77" fill="#fde7e7" stroke="none" stroke-width="0.6"/>
<rect x="500.13" y="177.68" width="12.93" height="3.77" fill="#fde7e7" stroke="none" stroke-width="0.6"/>
<rect x="513.06" y="177.68" width="12.93" height="3.77" fill="#fde7e7" stroke="none" stroke-width="0.6"/>
<rect x="525.99" y="177.68" width="12.93" height="3.77" fill="#ffffff" stroke="none" stroke-width="0.6"/>
<rect x="538.92" y="177.68" width="12.93" height="3.77" fill="#fde7e7" stroke="none" stroke-width="0.6"/>
<rect x="551.85" y="177.68" width="12.93" height="3.77" fill="#f9c4c4" stroke="none" stroke-width="0.6"/>
<rect x="564.78" y="177.68" width="12.93" height="3.77" fill="#fef3f3" stroke="none" stroke-width="0.6"/>
<rect x="577.71" y="177.68" width="12.93" height="3.77" fill="#fde7e7" stroke="none" stroke-width="0.6"/>
<rect x="590.64" y="177.68" width="12.93" height="3.77" fill="#f6adad" stroke="none" stroke-width="0.6"/>
<rect x="603.57" y="177.68" width="12.93" height="3.77" fill="#f9c4c4" stroke="none" stroke-width="0.6"/>
<rect x="616.50" y="177.68" width="12.93" height="3.77" fill="#fde7e7" stroke="none" stroke-width="0.6"/>
<rect x="629.43" y="177.68" width="12.93" height="3.77" fill="#fde7e7" stroke="none" stroke-width="0.6"/>
<rect x="642.36" y="177.68" width="12.93" height="3.77" fill="#fbd6d6" stroke="none" stroke-width="0.6"/>
<rect x="487.20" y="181.45" width="12.93" height="3.77" fill="#fde7e7" stroke="none" stroke-width="0.6"/>
<rect x="500.13" y="181.45" width="12.93" height="3.77" fill="#fde7e7" stroke="none" stroke-width="0.6"/>
<rect x="513.06" y="181.45" width="12.93" height="3.77" fill="#fde7e7" stroke="none" stroke-width="0.6"/>
<rect x="525.99" y="181.45" width="12.93" height="3.77" fill="#fde7e7" stroke="none" stroke-width="0.6"/>
<rect x="538.92" y="181.45" width="12.93" height="3.77" fill="#fde7e7" stroke="none" stroke-width="0.6"/>
<rect x="551.85" y="181.45" width="12.93" height="3.77" fill="#f6adad" stroke="none" stroke-width="0.6"/>
<rect x="564.78" y="181.45" width="12.93" height="3.77" fill="#f6adad" stroke="none" stroke-width="0.6"/>
<rect x="577.71" y="181.45" width="12.93" height="3.77" fill="#f9c4c4" stroke="none" stroke-width="0.6"/>
<rect x="590.64" y="181.45" width="12.93" height="3.77" fill="#f9c4c4" stroke="none" stroke-width="0.6"/>
<rect x="603.57" y="181.45" width="12.93" height="3.77" fill="#fde7e7" stroke="none" stroke-width="0.6"/>
<rect x="616.50" y="181.45" width="12.93" height="3.77" fill="#f6adad" stroke="none" stroke-width="0.6"/>
<rect x="629.43" y="181.45" width="12.93" height="3.77" fill="#f39696" stroke="none" stroke-width="0.6"/>
<rect x="642.36" y="181.45" width="12.93" height="3.77" fill="#f9c4c4" stroke="none" stroke-width="0.6"/>
<rect x="487.20" y="185.22" width="12.93" height="3.77" fill="#fde7e7" stroke="none" stroke-width="0.6"/>
<rect x="500.13" y="185.22" width="12.93" height="3.77" fill="#fde7e7" stroke="none" stroke-width="0.6"/>
<rect x="513.06" y="185.22" width="12.93" height="3.77" fill="#fde7e7" stroke="none" stroke-width="0.6"/>
<rect x="525.99" y="185.22" width="12.93" height="3.77" fill="#ffffff" stroke="none" stroke-width="0.6"/>
<rect x="538.92" y="185.22" width="12.93" height="3.77" fill="#fde7e7" stroke="none" stroke-width="0.6"/>
<rect x="551.85" y="185.22" width="12.93" height="3.77" fill="#f9c4c4" stroke="none" stroke-width="0.6"/>
<rect x="564.78" y="185.22" width="12.93" height="3.77" fill="#f6adad" stroke="none" stroke-width="0.6"/>
<rect x="577.71" y="185.22" width="12.93" height="3.77" fill="#f9c4c4" stroke="none" stroke-width="0.6"/>
<rect x="590.64" y="185.22" width="12.93" height="3.77" fill="#f9c4c4" stroke="none" stroke-width="0.6"/>
<rect x="603.57" y="185.22" width="12.93" height="3.77" fill="#f9c4c4" stroke="none" stroke-width="0.6"/>
<rect x="616.50" y="185.22" width="12.93" height="3.77" fill="#f9c4c4" stroke="none" stroke-width="0.6"/>
<rect x="629.43" y="185.22" width="12.93" height="3.77" fill="#fbd6d6" stroke="none" stroke-width="0.6"/>
<rect x="642.36" y="185.22" width="12.93" height="3.77" fill="#f9c4c4" stroke="none" stroke-width="0.6"/>
<rect x="487.20" y="188.99" width="12.93" height="3.77" fill="#fde7e7" stroke="none" stroke-width="0.6"/>
<rect x="500.13" y="188.99" width="12.93" height="3.77" fill="#f6adad" stroke="none" stroke-width="0.6"/>
<rect x="513.06" y="188.99" width="12.93" height="3.77" fill="#fde7e7" stroke="none" stroke-width="0.6"/>
<rect x="525.99" y="188.99" width="12.93" height="3.77" fill="#f9c4c4" stroke="none" stroke-width="0.6"/>
<rect x="538.92" y="188.99" width="12.93" height="3.77" fill="#fde7e7" stroke="none" stroke-width="0.6"/>
<rect x="551.85" y="188.99" width="12.93" height="3.77" fill="#fbd6d6" stroke="none" stroke-width="0.6"/>
<rect x="564.78" y="188.99" width="12.93" height="3.77" fill="#ee5858" stroke="none" stroke-width="0.6"/>
<rect x="577.71" y="188.99" width="12.93" height="3.77" fill="#fef3f3" stroke="none" stroke-width="0.6"/>
<rect x="590.64" y="188.99" width="12.93" height="3.77" fill="#fbd6d6" stroke="none" stroke-width="0.6"/>
<rect x="603.57" y="188.99" width="12.93" height="3.77" fill="#f39696" stroke="none" stroke-width="0.6"/>
<rect x="616.50" y="188.99" width="12.93" height="3.77" fill="#fbd6d6" stroke="none" stroke-width="0.6"/>
<rect x="629.43" y="188.99" width="12.93" height="3.77" fill="#fde7e7" stroke="none" stroke-width="0.6"/>
<rect x="642.36" y="188.99" width="12.93" height="3.77" fill="#fbd6d6" stroke="none" stroke-width="0.6"/>
<rect x="487.20" y="192.76" width="12.93" height="3.77" fill="#fde7e7" stroke="none" stroke-width="0.6"/>
<rect x="500.13" y="192.76" width="12.93" height="3.77" fill="#fde7e7" stroke="none" stroke-width="0.6"/>
<rect x="513.06" y="192.76" width="12.93" height="3.77" fill="#f6adad" stroke="none" stroke-width="0.6"/>
<rect x="525.99" y="192.76" width="12.93" height="3.77" fill="#fbd6d6" stroke="none" stroke-width="0.6"/>
<rect x="538.92" y="192.76" width="12.93" height="3.77" fill="#fde7e7" stroke="none" stroke-width="0.6"/>
<rect x="551.85" y="192.76" width="12.93" height="3.77" fill="#fde7e7" stroke="none" stroke-width="0.6"/>
<rect x="564.78" y="192.76" width="12.93" height="3.77" fill="#f39696" stroke="none" stroke-width="0.6"/>
<rect x="577.71" y="192.76" width="12.93" height="3.77" fill="#fef3f3" stroke="none" stroke-width="0.6"/>
<rect x="590.64" y="192.76" width="12.93" height="3.77" fill="#f9c4c4" stroke="none" stroke-width="0.6"/>
<rect x="603.57" y="192.76" width="12.93" height="3.77" fill="#fbd6d6" stroke="none" stroke-width="0.6"/>
<rect x="616.50" y="192.76" width="12.93" height="3.77" fill="#fbd6d6" stroke="none" stroke-width="0.6"/>
<rect x="629.43" y="192.76" width="12.93" height="3.77" fill="#fde7e7" stroke="none" stroke-width="0.6"/>
<rect x="642.36" y="192.76" width="12.93" height="3.77" fill="#fbd6d6" stroke="none" stroke-width="0.6"/>
<line x1="487.20" y1="11.80" x2="655.29" y2="11.80" stroke="#6a5a5a" stroke-width="0.4"/>
<line x1="487.20" y1="15.57" x2="655.29" y2="15.57" stroke="#6a5a5a" stroke-width="0.4"/>
<line x1="487.20" y1="19.34" x2="655.29" y2="19.34" stroke="#6a5a5a" stroke-width="0.4"/>
<line x1="487.20" y1="23.11" x2="655.29" y2="23.11" stroke="#6a5a5a" stroke-width="0.4"/>
<line x1="487.20" y1="26.88" x2="655.29" y2="26.88" stroke="#6a5a5a" stroke-width="0.4"/>
<line x1="487.20" y1="30.65" x2="655.29" y2="30.65" stroke="#6a5a5a" stroke-width="0.4"/>
<line x1="487.20" y1="34.42" x2="655.29" y2="34.42" stroke="#6a5a5a" stroke-width="0.4"/>
<line x1="487.20" y1="38.19" x2="655.29" y2="38.19" stroke="#6a5a5a" stroke-width="0.4"/>
<line x1="487.20" y1="41.96" x2="655.29" y2="41.96" stroke="#6a5a5a" stroke-width="0.4"/>
<line x1="487.20" y1="45.73" x2="655.29" y2="45.73" stroke="#6a5a5a" stroke-width="0.4"/>
<line x1="487.20" y1="49.50" x2="655.29" y2="49.50" stroke="#6a5a5a" stroke-width="0.4"/>
<line x1="487.20" y1="53.27" x2="655.29" y2="53.27" stroke="#6a5a5a" stroke-width="0.4"/>
<line x1="487.20" y1="57.04" x2="655.29" y2="57.04" stroke="#6a5a5a" stroke-width="0.4"/>
<line x1="487.20" y1="60.81" x2="655.29" y2="60.81" stroke="#6a5a5a" stroke-width="0.4"/>
<line x1="487.20" y1="64.58" x2="655.29" y2="64.58" stroke="#6a5a5a" stroke-width="0.4"/>
<line x1="487.20" y1="68.35" x2="655.29" y2="68.35" stroke="#6a5a5a" stroke-width="0.4"/>
<line x1="487.20" y1="72.12" x2="655.29" y2="72.12" stroke="#6a5a5a" stroke-width="0.4"/>
<line x1="487.20" y1="75.89" x2="655.29" y2="75.89" stroke="#6a5a5a" stroke-width="0.4"/>
<line x1="487.20" y1="79.66" x2="655.29" y2="79.66" stroke="#6a5a5a" stroke-width="0.4"/>
<line x1="487.20" y1="83.43" x2="655.29" y2="83.43" stroke="#6a5a5a" stroke-width="0.4"/>
<line x1="487.20" y1="87.20" x2="655.29" y2="87.20" stroke="#6a5a5a" stroke-width="0.4"/>
<line x1="487.20" y1="90.97" x2="655.29" y2="90.97" stroke="#6a5a5a" stroke-width="0.4"/>
<line x1="487.20" y1="94.74" x2="655.29" y2="94.74" stroke="#6a5a5a" stroke-width="0.4"/>
<line x1="487.20" y1="98.51" x2="655.29" y2="98.51" stroke="#6a5a5a" stroke-width="0.4"/>
<line x1="487.20" y1="102.28" x2="655.29" y2="102.28" stroke="#6a5a5a" stroke-width="0.4"/>
<line x1="487.20" y1="106.05" x2="655.29" y2="106.05" stroke="#6a5a5a" stroke-width="0.4"/>
<line x1="487.20" y1="109.82" x2="655.29" y2="109.82" stroke="#6a5a5a" stroke-width="0.4"/>
<line x1="487.20" y1="113.59" x2="655.29" y2="113.59" stroke="#6a5a5a" stroke-width="0.4"/>
<line x1="487.20" y1="117.36" x2="655.29" y2="117.36" stroke="#6a5a5a" stroke-width="0.4"/>
<line x1="487.20" y1="121.13" x2="655.29" y2="121.13" stroke="#6a5a5a" stroke-width="0.4"/>
<line x1="487.20" y1="124.90" x2="655.29" y2="124.90" stroke="#6a5a5a" stroke-width="0.4"/>
<line x1="487.20" y1="128.67" x2="655.29" y2="128.67" stroke="#6a5a5a" stroke-width="0.4"/>
<line x1="487.20" y1="132.44" x2="655.29" y2="132.44" stroke="#6a5a5a" stroke-width="0.4"/>
<line x1="487.20" y1="136.21" x2="655.29" y2="136.21" stroke="#6a5a5a" stroke-width="0.4"/>
<line x1="487.20" y1="139.98" x2="655.29" y2="139.98" stroke="#6a5a5a" stroke-width="0.4"/>
<line x1="487.20" y1="143.75" x2="655.29" y2="143.75" stroke="#6a5a5a" stroke-width="0.4"/>
<line x1="487.20" y1="147.52" x2="655.29" y2="147.52" stroke="#6a5a5a" stroke-width="0.4"/>
<line x1="487.20" y1="151.29" x2="655.29" y2="151.29" stroke="#6a5a5a" stroke-width="0.4"/>
<line x1="487.20" y1="155.06" x2="655.29" y2="155.06" stroke="#6a5a5a" stroke-width="0.4"/>
<line x1="487.20" y1="158.83" x2="655.29" y2="158.83" stroke="#6a5a5a" stroke-width="0.4"/>
<line x1="487.20" y1="162.60" x2="655.29" y2="162.60" stroke="#6a5a5a" stroke-width="0.4"/>
<line x1="487.20" y1="166.37" x2="655.29" y2="166.37" stroke="#6a5a5a" stroke-width="0.4"/>
<line x1="487.20" y1="170.14" x2="655.29" y2="170.14" stroke="#6a5a5a" stroke-width="0.4"/>
<line x1="487.20" y1="173.91" x2="655.29" y2="173.91" stroke="#6a5a5a" stroke-width="0.4"/>
<line x1="487.20" y1="177.68" x2="655.29" y2="177.68" stroke="#6a5a5a" stroke-width="0.4"/>
<line x1="487.20" y1="181.45" x2="655.29" y2="181.45" stroke="#6a5a5a" stroke-width="0.4"/>
<line x1="487.20" y1="185.22" x2="655.29" y2="185.22" stroke="#6a5a5a" stroke-width="0.4"/>
<line x1="487.20" y1="188.99" x2="655.29" y2="188.99" stroke="#6a5a5a" stroke-width="0.4"/>
<line x1="487.20" y1="192.76" x2="655.29" y2="192.76" stroke="#6a5a5a" stroke-width="0.4"/>
<line x1="487.20" y1="196.53" x2="655.29" y2="196.53" stroke="#6a5a5a" stroke-width="0.4"/>
<line x1="487.20" y1="11.80" x2="487.20" y2="196.53" stroke="#5a4a4a" stroke-width="0.5"/>
<line x1="500.13" y1="11.80" x2="500.13" y2="196.53" stroke="#5a4a4a" stroke-width="0.5"/>
<line x1="513.06" y1="11.80" x2="513.06" y2="196.53" stroke="#5a4a4a" stroke-width="0.5"/>
<line x1="525.99" y1="11.80" x2="525.99" y2="196.53" stroke="#5a4a4a" stroke-width="0.5"/>
<line x1="538.92" y1="11.80" x2="538.92" y2="196.53" stroke="#5a4a4a" stroke-width="0.5"/>
<line x1="551.85" y1="11.80" x2="551.85" y2="196.53" stroke="#5a4a4a" stroke-width="0.5"/>
<line x1="564.78" y1="11.80" x2="564.78" y2="196.53" stroke="#5a4a4a" stroke-width="0.5"/>
<line x1="577.71" y1="11.80" x2="577.71" y2="196.53" stroke="#5a4a4a" stroke-width="0.5"/>
<line x1="590.64" y1="11.80" x2="590.64" y2="196.53" stroke="#5a4a4a" stroke-width="0.5"/>
<line x1="603.57" y1="11.80" x2="603.57" y2="196.53" stroke="#5a4a4a" stroke-width="0.5"/>
<line x1="616.50" y1="11.80" x2="616.50" y2="196.53" stroke="#5a4a4a" stroke-width="0.5"/>
<line x1="629.43" y1="11.80" x2="629.43" y2="196.53" stroke="#5a4a4a" stroke-width="0.5"/>
<line x1="642.36" y1="11.80" x2="642.36" y2="196.53" stroke="#5a4a4a" stroke-width="0.5"/>
<line x1="655.29" y1="11.80" x2="655.29" y2="196.53" stroke="#5a4a4a" stroke-width="0.5"/>
<text x="491.36" y="198.60" font-size="7.7" text-anchor="start" fill="#000" transform="rotate(90 491.36 198.60)">aN</text>
<text x="504.29" y="198.60" font-size="7.7" text-anchor="start" fill="#000" transform="rotate(90 504.29 198.60)">IgD MEM</text>
<text x="517.23" y="198.60" font-size="7.7" text-anchor="start" fill="#000" transform="rotate(90 517.23 198.60)">MZpre</text>
<text x="530.15" y="198.60" font-size="7.7" text-anchor="start" fill="#000" transform="rotate(90 530.15 198.60)">rN</text>
<text x="543.09" y="198.60" font-size="7.7" text-anchor="start" fill="#000" transform="rotate(90 543.09 198.60)">IgM MEM</text>
<text x="556.01" y="198.60" font-size="7.7" text-anchor="start" fill="#000" transform="rotate(90 556.01 198.60)">QN MEM</text>
<text x="568.95" y="198.60" font-size="7.7" text-anchor="start" fill="#000" transform="rotate(90 568.95 198.60)">IgA MEM</text>
<text x="581.88" y="198.60" font-size="7.7" text-anchor="start" fill="#000" transform="rotate(90 581.88 198.60)">USM</text>
<text x="594.81" y="198.60" font-size="7.7" text-anchor="start" fill="#000" transform="rotate(90 594.81 198.60)">DN4</text>
<text x="607.74" y="198.60" font-size="7.7" text-anchor="start" fill="#000" transform="rotate(90 607.74 198.60)">DN1</text>
<text x="620.66" y="198.60" font-size="7.7" text-anchor="start" fill="#000" transform="rotate(90 620.66 198.60)">DN3</text>
<text x="633.60" y="198.60" font-size="7.7" text-anchor="start" fill="#000" transform="rotate(90 633.60 198.60)">DN2</text>
<text x="646.53" y="198.60" font-size="7.7" text-anchor="start" fill="#000" transform="rotate(90 646.53 198.60)">IgG MEM</text>
<line x1="493.66" y1="11.80" x2="493.66" y2="7.40" stroke="#666" stroke-width="0.55"/>
<line x1="506.59" y1="11.80" x2="506.59" y2="7.40" stroke="#666" stroke-width="0.55"/>
<line x1="519.52" y1="11.80" x2="519.52" y2="6.80" stroke="#666" stroke-width="0.55"/>
<line x1="532.45" y1="11.80" x2="532.45" y2="8.30" stroke="#666" stroke-width="0.55"/>
<line x1="545.38" y1="11.80" x2="545.38" y2="8.30" stroke="#666" stroke-width="0.55"/>
<line x1="558.31" y1="11.80" x2="558.31" y2="7.80" stroke="#666" stroke-width="0.55"/>
<line x1="571.25" y1="11.80" x2="571.25" y2="7.80" stroke="#666" stroke-width="0.55"/>
<line x1="584.17" y1="11.80" x2="584.17" y2="7.20" stroke="#666" stroke-width="0.55"/>
<line x1="493.66" y1="7.40" x2="506.59" y2="7.40" stroke="#666" stroke-width="0.55"/>
<line x1="500.13" y1="7.40" x2="500.13" y2="6.80" stroke="#666" stroke-width="0.55"/>
<line x1="500.13" y1="6.80" x2="519.52" y2="6.80" stroke="#666" stroke-width="0.55"/>
<line x1="509.83" y1="6.80" x2="509.83" y2="6.30" stroke="#666" stroke-width="0.55"/>
<line x1="532.45" y1="8.30" x2="545.38" y2="8.30" stroke="#666" stroke-width="0.55"/>
<line x1="538.92" y1="8.30" x2="538.92" y2="6.60" stroke="#666" stroke-width="0.55"/>
<line x1="558.31" y1="7.80" x2="571.25" y2="7.80" stroke="#666" stroke-width="0.55"/>
<line x1="564.78" y1="7.80" x2="564.78" y2="7.20" stroke="#666" stroke-width="0.55"/>
<line x1="564.78" y1="7.20" x2="584.17" y2="7.20" stroke="#666" stroke-width="0.55"/>
<line x1="574.48" y1="7.20" x2="574.48" y2="6.60" stroke="#666" stroke-width="0.55"/>
<line x1="538.92" y1="6.60" x2="574.48" y2="6.60" stroke="#666" stroke-width="0.55"/>
<line x1="556.70" y1="6.60" x2="556.70" y2="6.30" stroke="#666" stroke-width="0.55"/>
<line x1="509.83" y1="6.30" x2="556.70" y2="6.30" stroke="#666" stroke-width="0.55"/>
<line x1="540.50" y1="6.30" x2="540.50" y2="3.50" stroke="#666" stroke-width="0.55"/>
<line x1="597.11" y1="11.80" x2="597.11" y2="9.40" stroke="#666" stroke-width="0.55"/>
<line x1="610.03" y1="11.80" x2="610.03" y2="9.40" stroke="#666" stroke-width="0.55"/>
<line x1="622.96" y1="11.80" x2="622.96" y2="10.20" stroke="#666" stroke-width="0.55"/>
<line x1="635.89" y1="11.80" x2="635.89" y2="10.20" stroke="#666" stroke-width="0.55"/>
<line x1="648.83" y1="11.80" x2="648.83" y2="9.90" stroke="#666" stroke-width="0.55"/>
<line x1="597.11" y1="9.40" x2="610.03" y2="9.40" stroke="#666" stroke-width="0.55"/>
<line x1="603.57" y1="9.40" x2="603.57" y2="6.30" stroke="#666" stroke-width="0.55"/>
<line x1="622.96" y1="10.20" x2="635.89" y2="10.20" stroke="#666" stroke-width="0.55"/>
<line x1="629.43" y1="10.20" x2="629.43" y2="9.90" stroke="#666" stroke-width="0.55"/>
<line x1="629.43" y1="9.90" x2="648.83" y2="9.90" stroke="#666" stroke-width="0.55"/>
<line x1="639.13" y1="9.90" x2="639.13" y2="6.30" stroke="#666" stroke-width="0.55"/>
<line x1="603.57" y1="6.30" x2="639.13" y2="6.30" stroke="#666" stroke-width="0.55"/>
<line x1="621.35" y1="6.30" x2="621.35" y2="3.50" stroke="#666" stroke-width="0.55"/>
<line x1="540.50" y1="3.50" x2="621.35" y2="3.50" stroke="#666" stroke-width="0.55"/>
<line x1="655.29" y1="13.69" x2="656.29" y2="13.69" stroke="#666" stroke-width="0.55"/>
<line x1="655.29" y1="17.46" x2="656.29" y2="17.46" stroke="#666" stroke-width="0.55"/>
<line x1="656.29" y1="13.69" x2="656.29" y2="17.46" stroke="#666" stroke-width="0.55"/>
<line x1="656.29" y1="15.57" x2="656.60" y2="15.57" stroke="#666" stroke-width="0.55"/>
<line x1="655.29" y1="21.23" x2="656.60" y2="21.23" stroke="#666" stroke-width="0.55"/>
<line x1="656.60" y1="15.57" x2="656.60" y2="21.23" stroke="#666" stroke-width="0.55"/>
<line x1="655.29" y1="25.00" x2="656.35" y2="25.00" stroke="#666" stroke-width="0.55"/>
<line x1="655.29" y1="28.77" x2="656.35" y2="28.77" stroke="#666" stroke-width="0.55"/>
<line x1="656.35" y1="25.00" x2="656.35" y2="28.77" stroke="#666" stroke-width="0.55"/>
<line x1="655.29" y1="32.53" x2="656.26" y2="32.53" stroke="#666" stroke-width="0.55"/>
<line x1="655.29" y1="36.30" x2="656.26" y2="36.30" stroke="#666" stroke-width="0.55"/>
<line x1="656.26" y1="32.53" x2="656.26" y2="36.30" stroke="#666" stroke-width="0.55"/>
<line x1="656.35" y1="26.88" x2="656.81" y2="26.88" stroke="#666" stroke-width="0.55"/>
<line x1="656.26" y1="34.42" x2="656.81" y2="34.42" stroke="#666" stroke-width="0.55"/>
<line x1="656.81" y1="26.88" x2="656.81" y2="34.42" stroke="#666" stroke-width="0.55"/>
<line x1="655.29" y1="40.08" x2="656.25" y2="40.08" stroke="#666" stroke-width="0.55"/>
<line x1="655.29" y1="43.84" x2="656.25" y2="43.84" stroke="#666" stroke-width="0.55"/>
<line x1="656.25" y1="40.08" x2="656.25" y2="43.84" stroke="#666" stroke-width="0.55"/>
<line x1="655.29" y1="47.61" x2="656.37" y2="47.61" stroke="#666" stroke-width="0.55"/>
<line x1="655.29" y1="51.39" x2="656.37" y2="51.39" stroke="#666" stroke-width="0.55"/>
<line x1="656.37" y1="47.61" x2="656.37" y2="51.39" stroke="#666" stroke-width="0.55"/>
<line x1="656.25" y1="41.96" x2="656.81" y2="41.96" stroke="#666" stroke-width="0.55"/>
<line x1="656.37" y1="49.50" x2="656.81" y2="49.50" stroke="#666" stroke-width="0.55"/>
<line x1="656.81" y1="41.96" x2="656.81" y2="49.50" stroke="#666" stroke-width="0.55"/>
<line x1="656.81" y1="30.65" x2="657.01" y2="30.65" stroke="#666" stroke-width="0.55"/>
<line x1="656.81" y1="45.73" x2="657.01" y2="45.73" stroke="#666" stroke-width="0.55"/>
<line x1="657.01" y1="30.65" x2="657.01" y2="45.73" stroke="#666" stroke-width="0.55"/>
<line x1="655.29" y1="55.16" x2="656.37" y2="55.16" stroke="#666" stroke-width="0.55"/>
<line x1="655.29" y1="58.92" x2="656.37" y2="58.92" stroke="#666" stroke-width="0.55"/>
<line x1="656.37" y1="55.16" x2="656.37" y2="58.92" stroke="#666" stroke-width="0.55"/>
<line x1="655.29" y1="62.70" x2="656.44" y2="62.70" stroke="#666" stroke-width="0.55"/>
<line x1="655.29" y1="66.47" x2="656.44" y2="66.47" stroke="#666" stroke-width="0.55"/>
<line x1="656.44" y1="62.70" x2="656.44" y2="66.47" stroke="#666" stroke-width="0.55"/>
<line x1="656.37" y1="57.04" x2="656.64" y2="57.04" stroke="#666" stroke-width="0.55"/>
<line x1="656.44" y1="64.58" x2="656.64" y2="64.58" stroke="#666" stroke-width="0.55"/>
<line x1="656.64" y1="57.04" x2="656.64" y2="64.58" stroke="#666" stroke-width="0.55"/>
<line x1="655.29" y1="70.23" x2="656.31" y2="70.23" stroke="#666" stroke-width="0.55"/>
<line x1="655.29" y1="74.00" x2="656.31" y2="74.00" stroke="#666" stroke-width="0.55"/>
<line x1="656.31" y1="70.23" x2="656.31" y2="74.00" stroke="#666" stroke-width="0.55"/>
<line x1="655.29" y1="77.77" x2="656.43" y2="77.77" stroke="#666" stroke-width="0.55"/>
<line x1="655.29" y1="81.55" x2="656.43" y2="81.55" stroke="#666" stroke-width="0.55"/>
<line x1="656.43" y1="77.77" x2="656.43" y2="81.55" stroke="#666" stroke-width="0.55"/>
<line x1="656.31" y1="72.12" x2="656.66" y2="72.12" stroke="#666" stroke-width="0.55"/>
<line x1="656.43" y1="79.66" x2="656.66" y2="79.66" stroke="#666" stroke-width="0.55"/>
<line x1="656.66" y1="72.12" x2="656.66" y2="79.66" stroke="#666" stroke-width="0.55"/>
<line x1="656.64" y1="60.81" x2="657.00" y2="60.81" stroke="#666" stroke-width="0.55"/>
<line x1="656.66" y1="75.89" x2="657.00" y2="75.89" stroke="#666" stroke-width="0.55"/>
<line x1="657.00" y1="60.81" x2="657.00" y2="75.89" stroke="#666" stroke-width="0.55"/>
<line x1="657.01" y1="38.19" x2="658.07" y2="38.19" stroke="#666" stroke-width="0.55"/>
<line x1="657.00" y1="68.35" x2="658.07" y2="68.35" stroke="#666" stroke-width="0.55"/>
<line x1="658.07" y1="38.19" x2="658.07" y2="68.35" stroke="#666" stroke-width="0.55"/>
<line x1="656.60" y1="18.40" x2="659.80" y2="18.40" stroke="#666" stroke-width="0.55"/>
<line x1="658.07" y1="53.27" x2="659.80" y2="53.27" stroke="#666" stroke-width="0.55"/>
<line x1="659.80" y1="18.40" x2="659.80" y2="53.27" stroke="#666" stroke-width="0.55"/>
<line x1="655.29" y1="89.08" x2="656.36" y2="89.08" stroke="#666" stroke-width="0.55"/>
<line x1="655.29" y1="92.86" x2="656.36" y2="92.86" stroke="#666" stroke-width="0.55"/>
<line x1="656.36" y1="89.08" x2="656.36" y2="92.86" stroke="#666" stroke-width="0.55"/>
<line x1="655.29" y1="96.62" x2="656.53" y2="96.62" stroke="#666" stroke-width="0.55"/>
<line x1="655.29" y1="100.39" x2="656.53" y2="100.39" stroke="#666" stroke-width="0.55"/>
<line x1="656.53" y1="96.62" x2="656.53" y2="100.39" stroke="#666" stroke-width="0.55"/>
<line x1="656.36" y1="90.97" x2="656.94" y2="90.97" stroke="#666" stroke-width="0.55"/>
<line x1="656.53" y1="98.51" x2="656.94" y2="98.51" stroke="#666" stroke-width="0.55"/>
<line x1="656.94" y1="90.97" x2="656.94" y2="98.51" stroke="#666" stroke-width="0.55"/>
<line x1="655.29" y1="104.16" x2="656.27" y2="104.16" stroke="#666" stroke-width="0.55"/>
<line x1="655.29" y1="107.94" x2="656.27" y2="107.94" stroke="#666" stroke-width="0.55"/>
<line x1="656.27" y1="104.16" x2="656.27" y2="107.94" stroke="#666" stroke-width="0.55"/>
<line x1="656.27" y1="106.05" x2="656.47" y2="106.05" stroke="#666" stroke-width="0.55"/>
<line x1="655.29" y1="111.70" x2="656.47" y2="111.70" stroke="#666" stroke-width="0.55"/>
<line x1="656.47" y1="106.05" x2="656.47" y2="111.70" stroke="#666" stroke-width="0.55"/>
<line x1="656.94" y1="94.74" x2="657.67" y2="94.74" stroke="#666" stroke-width="0.55"/>
<line x1="656.47" y1="108.88" x2="657.67" y2="108.88" stroke="#666" stroke-width="0.55"/>
<line x1="657.67" y1="94.74" x2="657.67" y2="108.88" stroke="#666" stroke-width="0.55"/>
<line x1="655.29" y1="85.31" x2="661.60" y2="85.31" stroke="#666" stroke-width="0.55"/>
<line x1="657.67" y1="101.81" x2="661.60" y2="101.81" stroke="#666" stroke-width="0.55"/>
<line x1="661.60" y1="85.31" x2="661.60" y2="101.81" stroke="#666" stroke-width="0.55"/>
<line x1="659.80" y1="35.83" x2="664.80" y2="35.83" stroke="#666" stroke-width="0.55"/>
<line x1="661.60" y1="93.56" x2="664.80" y2="93.56" stroke="#666" stroke-width="0.55"/>
<line x1="664.80" y1="35.83" x2="664.80" y2="93.56" stroke="#666" stroke-width="0.55"/>
<line x1="655.29" y1="115.47" x2="656.28" y2="115.47" stroke="#666" stroke-width="0.55"/>
<line x1="655.29" y1="119.25" x2="656.28" y2="119.25" stroke="#666" stroke-width="0.55"/>
<line x1="656.28" y1="115.47" x2="656.28" y2="119.25" stroke="#666" stroke-width="0.55"/>
<line x1="655.29" y1="123.02" x2="656.28" y2="123.02" stroke="#666" stroke-width="0.55"/>
<line x1="655.29" y1="126.78" x2="656.28" y2="126.78" stroke="#666" stroke-width="0.55"/>
<line x1="656.28" y1="123.02" x2="656.28" y2="126.78" stroke="#666" stroke-width="0.55"/>
<line x1="656.28" y1="117.36" x2="656.76" y2="117.36" stroke="#666" stroke-width="0.55"/>
<line x1="656.28" y1="124.90" x2="656.76" y2="124.90" stroke="#666" stroke-width="0.55"/>
<line x1="656.76" y1="117.36" x2="656.76" y2="124.90" stroke="#666" stroke-width="0.55"/>
<line x1="655.29" y1="130.56" x2="656.29" y2="130.56" stroke="#666" stroke-width="0.55"/>
<line x1="655.29" y1="134.33" x2="656.29" y2="134.33" stroke="#666" stroke-width="0.55"/>
<line x1="656.29" y1="130.56" x2="656.29" y2="134.33" stroke="#666" stroke-width="0.55"/>
<line x1="655.29" y1="138.09" x2="656.41" y2="138.09" stroke="#666" stroke-width="0.55"/>
<line x1="655.29" y1="141.87" x2="656.41" y2="141.87" stroke="#666" stroke-width="0.55"/>
<line x1="656.41" y1="138.09" x2="656.41" y2="141.87" stroke="#666" stroke-width="0.55"/>
<line x1="656.29" y1="132.44" x2="657.02" y2="132.44" stroke="#666" stroke-width="0.55"/>
<line x1="656.41" y1="139.98" x2="657.02" y2="139.98" stroke="#666" stroke-width="0.55"/>
<line x1="657.02" y1="132.44" x2="657.02" y2="139.98" stroke="#666" stroke-width="0.55"/>
<line x1="655.29" y1="145.64" x2="656.35" y2="145.64" stroke="#666" stroke-width="0.55"/>
<line x1="655.29" y1="149.41" x2="656.35" y2="149.41" stroke="#666" stroke-width="0.55"/>
<line x1="656.35" y1="145.64" x2="656.35" y2="149.41" stroke="#666" stroke-width="0.55"/>
<line x1="655.29" y1="153.18" x2="656.40" y2="153.18" stroke="#666" stroke-width="0.55"/>
<line x1="655.29" y1="156.95" x2="656.40" y2="156.95" stroke="#666" stroke-width="0.55"/>
<line x1="656.40" y1="153.18" x2="656.40" y2="156.95" stroke="#666" stroke-width="0.55"/>
<line x1="656.35" y1="147.52" x2="656.97" y2="147.52" stroke="#666" stroke-width="0.55"/>
<line x1="656.40" y1="155.06" x2="656.97" y2="155.06" stroke="#666" stroke-width="0.55"/>
<line x1="656.97" y1="147.52" x2="656.97" y2="155.06" stroke="#666" stroke-width="0.55"/>
<line x1="657.02" y1="136.21" x2="657.22" y2="136.21" stroke="#666" stroke-width="0.55"/>
<line x1="656.97" y1="151.29" x2="657.22" y2="151.29" stroke="#666" stroke-width="0.55"/>
<line x1="657.22" y1="136.21" x2="657.22" y2="151.29" stroke="#666" stroke-width="0.55"/>
<line x1="655.29" y1="160.72" x2="656.34" y2="160.72" stroke="#666" stroke-width="0.55"/>
<line x1="655.29" y1="164.49" x2="656.34" y2="164.49" stroke="#666" stroke-width="0.55"/>
<line x1="656.34" y1="160.72" x2="656.34" y2="164.49" stroke="#666" stroke-width="0.55"/>
<line x1="656.34" y1="162.60" x2="656.54" y2="162.60" stroke="#666" stroke-width="0.55"/>
<line x1="655.29" y1="168.26" x2="656.54" y2="168.26" stroke="#666" stroke-width="0.55"/>
<line x1="656.54" y1="162.60" x2="656.54" y2="168.26" stroke="#666" stroke-width="0.55"/>
<line x1="655.29" y1="172.03" x2="656.37" y2="172.03" stroke="#666" stroke-width="0.55"/>
<line x1="655.29" y1="175.80" x2="656.37" y2="175.80" stroke="#666" stroke-width="0.55"/>
<line x1="656.37" y1="172.03" x2="656.37" y2="175.80" stroke="#666" stroke-width="0.55"/>
<line x1="656.54" y1="165.43" x2="656.74" y2="165.43" stroke="#666" stroke-width="0.55"/>
<line x1="656.37" y1="173.91" x2="656.74" y2="173.91" stroke="#666" stroke-width="0.55"/>
<line x1="656.74" y1="165.43" x2="656.74" y2="173.91" stroke="#666" stroke-width="0.55"/>
<line x1="655.29" y1="179.57" x2="656.38" y2="179.57" stroke="#666" stroke-width="0.55"/>
<line x1="655.29" y1="183.34" x2="656.38" y2="183.34" stroke="#666" stroke-width="0.55"/>
<line x1="656.38" y1="179.57" x2="656.38" y2="183.34" stroke="#666" stroke-width="0.55"/>
<line x1="656.38" y1="181.45" x2="656.72" y2="181.45" stroke="#666" stroke-width="0.55"/>
<line x1="655.29" y1="187.11" x2="656.72" y2="187.11" stroke="#666" stroke-width="0.55"/>
<line x1="656.72" y1="181.45" x2="656.72" y2="187.11" stroke="#666" stroke-width="0.55"/>
<line x1="655.29" y1="190.88" x2="656.33" y2="190.88" stroke="#666" stroke-width="0.55"/>
<line x1="655.29" y1="194.65" x2="656.33" y2="194.65" stroke="#666" stroke-width="0.55"/>
<line x1="656.33" y1="190.88" x2="656.33" y2="194.65" stroke="#666" stroke-width="0.55"/>
<line x1="656.72" y1="184.28" x2="656.92" y2="184.28" stroke="#666" stroke-width="0.55"/>
<line x1="656.33" y1="192.76" x2="656.92" y2="192.76" stroke="#666" stroke-width="0.55"/>
<line x1="656.92" y1="184.28" x2="656.92" y2="192.76" stroke="#666" stroke-width="0.55"/>
<line x1="656.74" y1="169.67" x2="657.12" y2="169.67" stroke="#666" stroke-width="0.55"/>
<line x1="656.92" y1="188.52" x2="657.12" y2="188.52" stroke="#666" stroke-width="0.55"/>
<line x1="657.12" y1="169.67" x2="657.12" y2="188.52" stroke="#666" stroke-width="0.55"/>
<line x1="657.22" y1="143.75" x2="667.60" y2="143.75" stroke="#666" stroke-width="0.55"/>
<line x1="657.12" y1="179.09" x2="667.60" y2="179.09" stroke="#666" stroke-width="0.55"/>
<line x1="667.60" y1="143.75" x2="667.60" y2="179.09" stroke="#666" stroke-width="0.55"/>
<line x1="656.76" y1="121.13" x2="669.30" y2="121.13" stroke="#666" stroke-width="0.55"/>
<line x1="667.60" y1="161.42" x2="669.30" y2="161.42" stroke="#666" stroke-width="0.55"/>
<line x1="669.30" y1="121.13" x2="669.30" y2="161.42" stroke="#666" stroke-width="0.55"/>
<line x1="664.80" y1="64.70" x2="681.30" y2="64.70" stroke="#666" stroke-width="0.55"/>
<line x1="669.30" y1="141.28" x2="681.30" y2="141.28" stroke="#666" stroke-width="0.55"/>
<line x1="681.30" y1="64.70" x2="681.30" y2="141.28" stroke="#666" stroke-width="0.55"/>
<text x="0.50" y="181.90" font-size="13.5" text-anchor="start" fill="#000" font-weight="bold">e</text>
<text x="13.20" y="245.60" font-size="10.3" text-anchor="middle" fill="#000" transform="rotate(-90 13.20 245.60)">Ag-Specific</text>
<text x="25.00" y="245.90" font-size="10.3" text-anchor="middle" fill="#000" transform="rotate(-90 25.00 245.90)">DN Composition</text>
<text x="61.50" y="211.20" font-size="10" text-anchor="middle" fill="#000">CR</text>
<text x="130.70" y="211.20" font-size="10" text-anchor="middle" fill="#000">niPASC</text>
<text x="199.40" y="211.20" font-size="10" text-anchor="middle" fill="#000">inflPASC</text>
<path d="M61.50,220.20 A30.2,30.2 0 1 1 50.19,278.40 L55.88,264.31 A15.0,15.0 0 1 0 61.50,235.40 Z" fill="#fdc746" stroke="#333" stroke-width="0.6" stroke-linejoin="round"/>
<path d="M50.19,278.40 A30.2,30.2 0 0 1 38.03,269.41 L49.84,259.84 A15.0,15.0 0 0 0 55.88,264.31 Z" fill="#e888f3" stroke="#333" stroke-width="0.6" stroke-linejoin="round"/>
<path d="M38.03,269.41 A30.2,30.2 0 0 1 45.50,224.79 L53.55,237.68 A15.0,15.0 0 0 0 49.84,259.84 Z" fill="#7bd5f8" stroke="#333" stroke-width="0.6" stroke-linejoin="round"/>
<path d="M45.50,224.79 A30.2,30.2 0 0 1 61.50,220.20 L61.50,235.40 A15.0,15.0 0 0 0 53.55,237.68 Z" fill="#b4b4b4" stroke="#333" stroke-width="0.6" stroke-linejoin="round"/>
<path d="M130.70,220.00 A30.2,30.2 0 0 1 152.42,271.18 L141.49,260.62 A15.0,15.0 0 0 0 130.70,235.20 Z" fill="#fdc746" stroke="#333" stroke-width="0.6" stroke-linejoin="round"/>
<path d="M152.42,271.18 A30.2,30.2 0 0 1 130.70,280.40 L130.70,265.20 A15.0,15.0 0 0 0 141.49,260.62 Z" fill="#e888f3" stroke="#333" stroke-width="0.6" stroke-linejoin="round"/>
<path d="M130.70,280.40 A30.2,30.2 0 0 1 102.32,239.87 L116.60,245.07 A15.0,15.0 0 0 0 130.70,265.20 Z" fill="#7bd5f8" stroke="#333" stroke-width="0.6" stroke-linejoin="round"/>
<path d="M102.32,239.87 A30.2,30.2 0 0 1 130.70,220.00 L130.70,235.20 A15.0,15.0 0 0 0 116.60,245.07 Z" fill="#b4b4b4" stroke="#333" stroke-width="0.6" stroke-linejoin="round"/>
<path d="M199.40,220.00 A30.2,30.2 0 0 1 222.53,269.61 L210.89,259.84 A15.0,15.0 0 0 0 199.40,235.20 Z" fill="#fdc746" stroke="#333" stroke-width="0.6" stroke-linejoin="round"/>
<path d="M222.53,269.61 A30.2,30.2 0 0 1 185.22,276.87 L192.36,263.44 A15.0,15.0 0 0 0 210.89,259.84 Z" fill="#e888f3" stroke="#333" stroke-width="0.6" stroke-linejoin="round"/>
<path d="M185.22,276.87 A30.2,30.2 0 0 1 172.26,236.96 L185.92,243.62 A15.0,15.0 0 0 0 192.36,263.44 Z" fill="#7bd5f8" stroke="#333" stroke-width="0.6" stroke-linejoin="round"/>
<path d="M172.26,236.96 A30.2,30.2 0 0 1 199.40,220.00 L199.40,235.20 A15.0,15.0 0 0 0 185.92,243.62 Z" fill="#b4b4b4" stroke="#333" stroke-width="0.6" stroke-linejoin="round"/>
<rect x="70.70" y="288.00" width="8.00" height="6.80" fill="#fdc746" stroke="#333" stroke-width="0.6"/>
<text x="82.00" y="294.30" font-size="7.6" text-anchor="start" fill="#000">DN1</text>
<rect x="101.90" y="288.00" width="8.00" height="6.80" fill="#e888f3" stroke="#333" stroke-width="0.6"/>
<text x="113.40" y="294.30" font-size="7.6" text-anchor="start" fill="#000">DN2</text>
<rect x="133.70" y="288.00" width="8.00" height="6.80" fill="#7bd5f8" stroke="#333" stroke-width="0.6"/>
<text x="145.20" y="294.30" font-size="7.6" text-anchor="start" fill="#000">DN3</text>
<rect x="164.10" y="288.00" width="8.00" height="6.80" fill="#b4b4b4" stroke="#333" stroke-width="0.6"/>
<text x="176.10" y="294.30" font-size="7.6" text-anchor="start" fill="#000">DN4</text>
<text x="247.30" y="181.80" font-size="13.5" text-anchor="start" fill="#000" font-weight="bold">f</text>
<line x1="297.20" y1="188.90" x2="297.20" y2="289.40" stroke="#333" stroke-width="0.9"/>
<line x1="293.00" y1="289.40" x2="297.20" y2="289.40" stroke="#333" stroke-width="0.7"/>
<text x="287.70" y="292.40" font-size="8.3" text-anchor="end" fill="#444">0</text>
<line x1="293.00" y1="239.50" x2="297.20" y2="239.50" stroke="#333" stroke-width="0.7"/>
<text x="287.70" y="242.50" font-size="8.3" text-anchor="end" fill="#444">5</text>
<line x1="293.00" y1="189.60" x2="297.20" y2="189.60" stroke="#333" stroke-width="0.7"/>
<text x="287.70" y="192.60" font-size="8.3" text-anchor="end" fill="#444">10</text>
<line x1="295.40" y1="279.42" x2="297.20" y2="279.42" stroke="#333" stroke-width="0.6"/>
<line x1="295.40" y1="269.44" x2="297.20" y2="269.44" stroke="#333" stroke-width="0.6"/>
<line x1="295.40" y1="259.46" x2="297.20" y2="259.46" stroke="#333" stroke-width="0.6"/>
<line x1="295.40" y1="249.48" x2="297.20" y2="249.48" stroke="#333" stroke-width="0.6"/>
<line x1="295.40" y1="229.52" x2="297.20" y2="229.52" stroke="#333" stroke-width="0.6"/>
<line x1="295.40" y1="219.54" x2="297.20" y2="219.54" stroke="#333" stroke-width="0.6"/>
<line x1="295.40" y1="209.56" x2="297.20" y2="209.56" stroke="#333" stroke-width="0.6"/>
<line x1="295.40" y1="199.58" x2="297.20" y2="199.58" stroke="#333" stroke-width="0.6"/>
<line x1="297.20" y1="289.40" x2="363.60" y2="289.40" stroke="#333" stroke-width="0.9"/>
<line x1="310.40" y1="289.40" x2="310.40" y2="293.60" stroke="#555" stroke-width="0.7"/>
<line x1="330.60" y1="289.40" x2="330.60" y2="293.60" stroke="#555" stroke-width="0.7"/>
<line x1="350.20" y1="289.40" x2="350.20" y2="293.60" stroke="#555" stroke-width="0.7"/>
<text x="266.40" y="241.20" font-size="10.4" text-anchor="middle" fill="#000" transform="rotate(-90 266.40 241.20)">Non-DN1 Ag-specific</text>
<text x="278.60" y="242.50" font-size="10.4" text-anchor="middle" fill="#000" transform="rotate(-90 278.60 242.50)">frequency (%)</text>
<text x="315.30" y="300.00" font-size="7.8" text-anchor="end" fill="#000" transform="rotate(-45 315.30 300.00)">CR</text>
<text x="335.50" y="300.00" font-size="7.8" text-anchor="end" fill="#000" transform="rotate(-45 335.50 300.00)">niPASC</text>
<text x="355.10" y="300.00" font-size="7.8" text-anchor="end" fill="#000" transform="rotate(-45 355.10 300.00)">inflPASC</text>
<line x1="310.40" y1="183.30" x2="350.20" y2="183.30" stroke="#444" stroke-width="0.9"/>
<polygon points="330.30,177.55 330.87,178.92 332.34,179.04 331.22,180.00 331.56,181.44 330.30,180.67 329.04,181.44 329.38,180.00 328.26,179.04 329.73,178.92" fill="#222"/>
<line x1="310.40" y1="190.40" x2="330.90" y2="190.40" stroke="#444" stroke-width="0.9"/>
<polygon points="320.65,185.55 321.22,186.92 322.69,187.04 321.57,188.00 321.91,189.44 320.65,188.67 319.39,189.44 319.73,188.00 318.61,187.04 320.08,186.92" fill="#222"/>
<circle cx="330.60" cy="194.50" r="2.2" fill="none" stroke="#1a1a1a" stroke-width="0.8"/>
<circle cx="330.60" cy="222.60" r="2.2" fill="none" stroke="#1a1a1a" stroke-width="0.8"/>
<circle cx="330.60" cy="249.00" r="2.2" fill="none" stroke="#1a1a1a" stroke-width="0.8"/>
<circle cx="330.60" cy="265.20" r="2.2" fill="none" stroke="#1a1a1a" stroke-width="0.8"/>
<circle cx="329.00" cy="274.70" r="2.2" fill="none" stroke="#1a1a1a" stroke-width="0.8"/>
<circle cx="332.00" cy="275.80" r="2.2" fill="none" stroke="#1a1a1a" stroke-width="0.8"/>
<circle cx="327.00" cy="278.60" r="2.2" fill="none" stroke="#1a1a1a" stroke-width="0.8"/>
<circle cx="331.00" cy="278.90" r="2.2" fill="none" stroke="#1a1a1a" stroke-width="0.8"/>
<circle cx="335.00" cy="278.60" r="2.2" fill="none" stroke="#1a1a1a" stroke-width="0.8"/>
<circle cx="326.00" cy="284.20" r="2.2" fill="none" stroke="#1a1a1a" stroke-width="0.8"/>
<circle cx="330.00" cy="285.20" r="2.2" fill="none" stroke="#1a1a1a" stroke-width="0.8"/>
<circle cx="334.00" cy="284.50" r="2.2" fill="none" stroke="#1a1a1a" stroke-width="0.8"/>
<circle cx="325.00" cy="288.30" r="2.2" fill="none" stroke="#1a1a1a" stroke-width="0.8"/>
<circle cx="328.50" cy="288.30" r="2.2" fill="none" stroke="#1a1a1a" stroke-width="0.8"/>
<circle cx="332.00" cy="288.30" r="2.2" fill="none" stroke="#1a1a1a" stroke-width="0.8"/>
<circle cx="335.50" cy="288.30" r="2.2" fill="none" stroke="#1a1a1a" stroke-width="0.8"/>
<circle cx="350.20" cy="217.30" r="2.2" fill="none" stroke="#1a1a1a" stroke-width="0.8"/>
<circle cx="350.20" cy="237.10" r="2.2" fill="none" stroke="#1a1a1a" stroke-width="0.8"/>
<circle cx="350.20" cy="252.50" r="2.2" fill="none" stroke="#1a1a1a" stroke-width="0.8"/>
<circle cx="350.20" cy="260.60" r="2.2" fill="none" stroke="#1a1a1a" stroke-width="0.8"/>
<circle cx="350.20" cy="266.90" r="2.2" fill="none" stroke="#1a1a1a" stroke-width="0.8"/>
<circle cx="345.50" cy="269.40" r="2.2" fill="none" stroke="#1a1a1a" stroke-width="0.8"/>
<circle cx="350.20" cy="271.50" r="2.2" fill="none" stroke="#1a1a1a" stroke-width="0.8"/>
<circle cx="350.20" cy="278.30" r="2.2" fill="none" stroke="#1a1a1a" stroke-width="0.8"/>
<circle cx="350.20" cy="285.30" r="2.2" fill="none" stroke="#1a1a1a" stroke-width="0.8"/>
<circle cx="345.00" cy="288.40" r="2.2" fill="none" stroke="#1a1a1a" stroke-width="0.8"/>
<circle cx="348.50" cy="288.40" r="2.2" fill="none" stroke="#1a1a1a" stroke-width="0.8"/>
<circle cx="352.00" cy="288.40" r="2.2" fill="none" stroke="#1a1a1a" stroke-width="0.8"/>
<circle cx="355.50" cy="288.40" r="2.2" fill="none" stroke="#1a1a1a" stroke-width="0.8"/>
<circle cx="309.00" cy="279.60" r="2.2" fill="none" stroke="#1a1a1a" stroke-width="0.8"/>
<circle cx="312.00" cy="281.00" r="2.2" fill="none" stroke="#1a1a1a" stroke-width="0.8"/>
<circle cx="308.00" cy="284.20" r="2.2" fill="none" stroke="#1a1a1a" stroke-width="0.8"/>
<circle cx="304.50" cy="288.40" r="2.2" fill="none" stroke="#1a1a1a" stroke-width="0.8"/>
<circle cx="308.00" cy="288.40" r="2.2" fill="none" stroke="#1a1a1a" stroke-width="0.8"/>
<circle cx="311.50" cy="288.40" r="2.2" fill="none" stroke="#1a1a1a" stroke-width="0.8"/>
<circle cx="315.00" cy="288.40" r="2.2" fill="none" stroke="#1a1a1a" stroke-width="0.8"/>
<circle cx="312.00" cy="286.30" r="2.2" fill="none" stroke="#1a1a1a" stroke-width="0.8"/>
<line x1="303.80" y1="288.40" x2="316.90" y2="288.40" stroke="#e8402a" stroke-width="1.0"/>
<line x1="323.60" y1="281.50" x2="337.60" y2="281.50" stroke="#e8402a" stroke-width="1.0"/>
<line x1="343.70" y1="275.30" x2="357.00" y2="275.30" stroke="#e8402a" stroke-width="1.0"/>
<text x="0.50" y="321.90" font-size="13.5" text-anchor="start" fill="#000" font-weight="bold">g</text>
<text x="12.40" y="384.20" font-size="10.5" text-anchor="middle" fill="#000" transform="rotate(-90 12.40 384.20)">Ag-Specific</text>
<text x="24.60" y="385.00" font-size="10.5" text-anchor="middle" fill="#000" transform="rotate(-90 24.60 385.00)">Mem Composition</text>
<text x="61.70" y="346.20" font-size="10" text-anchor="middle" fill="#000">CR</text>
<text x="130.70" y="346.20" font-size="10" text-anchor="middle" fill="#000">niPASC</text>
<text x="199.40" y="346.20" font-size="10" text-anchor="middle" fill="#000">inflPASC</text>
<path d="M61.70,354.20 A30.3,30.3 0 0 1 88.45,370.28 L74.94,377.46 A15.0,15.0 0 0 0 61.70,369.50 Z" fill="#9c7a2f" stroke="#333" stroke-width="0.6" stroke-linejoin="round"/>
<path d="M88.45,370.28 A30.3,30.3 0 0 1 86.82,401.44 L74.14,392.89 A15.0,15.0 0 0 0 74.94,377.46 Z" fill="#b44b9c" stroke="#333" stroke-width="0.6" stroke-linejoin="round"/>
<path d="M86.82,401.44 A30.3,30.3 0 0 1 80.52,408.25 L71.02,396.26 A15.0,15.0 0 0 0 74.14,392.89 Z" fill="#3f8a48" stroke="#333" stroke-width="0.6" stroke-linejoin="round"/>
<path d="M80.52,408.25 A30.3,30.3 0 1 1 49.86,356.61 L55.84,370.69 A15.0,15.0 0 1 0 71.02,396.26 Z" fill="#ae2a2b" stroke="#333" stroke-width="0.6" stroke-linejoin="round"/>
<path d="M49.86,356.61 A30.3,30.3 0 0 1 59.38,354.29 L60.55,369.54 A15.0,15.0 0 0 0 55.84,370.69 Z" fill="#5b78cf" stroke="#333" stroke-width="0.6" stroke-linejoin="round"/>
<path d="M59.38,354.29 A30.3,30.3 0 0 1 61.70,354.20 L61.70,369.50 A15.0,15.0 0 0 0 60.55,369.54 Z" fill="#b6b6b6" stroke="#333" stroke-width="0.6" stroke-linejoin="round"/>
<path d="M130.70,354.20 A30.3,30.3 0 0 1 137.15,354.90 L133.90,369.84 A15.0,15.0 0 0 0 130.70,369.50 Z" fill="#9c7a2f" stroke="#333" stroke-width="0.6" stroke-linejoin="round"/>
<path d="M137.15,354.90 A30.3,30.3 0 0 1 152.13,363.07 L141.31,373.89 A15.0,15.0 0 0 0 133.90,369.84 Z" fill="#b44b9c" stroke="#333" stroke-width="0.6" stroke-linejoin="round"/>
<path d="M152.13,363.07 A30.3,30.3 0 0 1 159.35,394.36 L144.88,389.38 A15.0,15.0 0 0 0 141.31,373.89 Z" fill="#3f8a48" stroke="#333" stroke-width="0.6" stroke-linejoin="round"/>
<path d="M159.35,394.36 A30.3,30.3 0 1 1 116.94,357.50 L123.89,371.13 A15.0,15.0 0 1 0 144.88,389.38 Z" fill="#ae2a2b" stroke="#333" stroke-width="0.6" stroke-linejoin="round"/>
<path d="M116.94,357.50 A30.3,30.3 0 0 1 125.44,354.66 L128.10,369.73 A15.0,15.0 0 0 0 123.89,371.13 Z" fill="#5b78cf" stroke="#333" stroke-width="0.6" stroke-linejoin="round"/>
<path d="M125.44,354.66 A30.3,30.3 0 0 1 130.70,354.20 L130.70,369.50 A15.0,15.0 0 0 0 128.10,369.73 Z" fill="#b6b6b6" stroke="#333" stroke-width="0.6" stroke-linejoin="round"/>
<path d="M199.40,354.20 A30.3,30.3 0 0 1 223.82,366.56 L211.49,375.62 A15.0,15.0 0 0 0 199.40,369.50 Z" fill="#b44b9c" stroke="#333" stroke-width="0.6" stroke-linejoin="round"/>
<path d="M223.82,366.56 A30.3,30.3 0 0 1 224.37,367.34 L211.76,376.00 A15.0,15.0 0 0 0 211.49,375.62 Z" fill="#3f8a48" stroke="#333" stroke-width="0.6" stroke-linejoin="round"/>
<path d="M224.37,367.34 A30.3,30.3 0 1 1 193.62,354.76 L196.54,369.78 A15.0,15.0 0 1 0 211.76,376.00 Z" fill="#ae2a2b" stroke="#333" stroke-width="0.6" stroke-linejoin="round"/>
<path d="M193.62,354.76 A30.3,30.3 0 0 1 197.55,354.26 L198.48,369.53 A15.0,15.0 0 0 0 196.54,369.78 Z" fill="#5b78cf" stroke="#333" stroke-width="0.6" stroke-linejoin="round"/>
<path d="M197.55,354.26 A30.3,30.3 0 0 1 198.61,354.21 L199.01,369.51 A15.0,15.0 0 0 0 198.48,369.53 Z" fill="#b6b6b6" stroke="#333" stroke-width="0.6" stroke-linejoin="round"/>
<path d="M198.61,354.21 A30.3,30.3 0 0 1 199.40,354.20 L199.40,369.50 A15.0,15.0 0 0 0 199.01,369.51 Z" fill="#9c7a2f" stroke="#333" stroke-width="0.6" stroke-linejoin="round"/>
<rect x="39.50" y="420.30" width="8.00" height="6.80" fill="#9c7a2f" stroke="#333" stroke-width="0.6"/>
<text x="51.20" y="426.10" font-size="7.6" text-anchor="start" fill="#000">IgD</text>
<rect x="71.70" y="420.30" width="8.00" height="6.80" fill="#b44b9c" stroke="#333" stroke-width="0.6"/>
<text x="82.50" y="426.10" font-size="7.6" text-anchor="start" fill="#000">USM</text>
<rect x="102.40" y="420.30" width="8.00" height="6.80" fill="#3f8a48" stroke="#333" stroke-width="0.6"/>
<text x="113.40" y="426.10" font-size="7.6" text-anchor="start" fill="#000">IgA</text>
<rect x="133.70" y="420.30" width="8.00" height="6.80" fill="#ae2a2b" stroke="#333" stroke-width="0.6"/>
<text x="145.20" y="426.10" font-size="7.6" text-anchor="start" fill="#000">IgG</text>
<rect x="165.30" y="420.30" width="8.00" height="6.80" fill="#5b78cf" stroke="#333" stroke-width="0.6"/>
<text x="176.80" y="426.10" font-size="7.6" text-anchor="start" fill="#000">IgM</text>
<rect x="196.40" y="420.30" width="8.00" height="6.80" fill="#b6b6b6" stroke="#333" stroke-width="0.6"/>
<text x="207.90" y="426.10" font-size="7.6" text-anchor="start" fill="#000">QN</text>
<text x="244.00" y="321.90" font-size="13.5" text-anchor="start" fill="#000" font-weight="bold">h</text>
<text x="321.00" y="339.10" font-size="11.5" text-anchor="middle" fill="#000">IgA MEM</text>
<text x="403.80" y="338.70" font-size="11.5" text-anchor="middle" fill="#000">IgG MEM</text>
<line x1="287.40" y1="352.60" x2="287.40" y2="452.30" stroke="#333" stroke-width="0.9"/>
<line x1="283.20" y1="452.30" x2="287.40" y2="452.30" stroke="#333" stroke-width="0.7"/>
<text x="279.60" y="455.30" font-size="8.3" text-anchor="end" fill="#444">0.0</text>
<line x1="283.20" y1="427.45" x2="287.40" y2="427.45" stroke="#333" stroke-width="0.7"/>
<text x="279.60" y="430.45" font-size="8.3" text-anchor="end" fill="#444">0.1</text>
<line x1="283.20" y1="402.60" x2="287.40" y2="402.60" stroke="#333" stroke-width="0.7"/>
<text x="279.60" y="405.60" font-size="8.3" text-anchor="end" fill="#444">0.2</text>
<line x1="283.20" y1="377.75" x2="287.40" y2="377.75" stroke="#333" stroke-width="0.7"/>
<text x="279.60" y="380.75" font-size="8.3" text-anchor="end" fill="#444">0.3</text>
<line x1="283.20" y1="352.90" x2="287.40" y2="352.90" stroke="#333" stroke-width="0.7"/>
<text x="279.60" y="355.90" font-size="8.3" text-anchor="end" fill="#444">0.4</text>
<line x1="287.40" y1="452.30" x2="353.40" y2="452.30" stroke="#333" stroke-width="0.9"/>
<line x1="300.30" y1="452.30" x2="300.30" y2="456.50" stroke="#555" stroke-width="0.7"/>
<line x1="320.50" y1="452.30" x2="320.50" y2="456.50" stroke="#555" stroke-width="0.7"/>
<line x1="340.40" y1="452.30" x2="340.40" y2="456.50" stroke="#555" stroke-width="0.7"/>
<text x="305.00" y="462.90" font-size="7.8" text-anchor="end" fill="#000" transform="rotate(-45 305.00 462.90)">CR</text>
<text x="325.20" y="462.90" font-size="7.8" text-anchor="end" fill="#000" transform="rotate(-45 325.20 462.90)">niPASC</text>
<text x="345.10" y="462.90" font-size="7.8" text-anchor="end" fill="#000" transform="rotate(-45 345.10 462.90)">inflPASC</text>
<line x1="300.10" y1="349.30" x2="340.30" y2="349.30" stroke="#444" stroke-width="0.9"/>
<text x="320.20" y="347.50" font-size="7.6" text-anchor="middle" fill="#000">ns</text>
<line x1="300.10" y1="356.20" x2="320.90" y2="356.20" stroke="#444" stroke-width="0.9"/>
<polygon points="310.50,351.35 311.07,352.72 312.54,352.84 311.42,353.80 311.76,355.24 310.50,354.47 309.24,355.24 309.58,353.80 308.46,352.84 309.93,352.72" fill="#222"/>
<text x="262.90" y="397.40" font-size="11.5" text-anchor="middle" fill="#000" transform="rotate(-90 262.90 397.40)">Ag-specific frequency (%)</text>
<circle cx="300.30" cy="431.30" r="2.2" fill="none" stroke="#1a1a1a" stroke-width="0.8"/>
<circle cx="300.30" cy="439.00" r="2.2" fill="none" stroke="#1a1a1a" stroke-width="0.8"/>
<circle cx="320.50" cy="362.60" r="2.2" fill="none" stroke="#1a1a1a" stroke-width="0.8"/>
<circle cx="320.50" cy="382.50" r="2.2" fill="none" stroke="#1a1a1a" stroke-width="0.8"/>
<circle cx="320.50" cy="387.40" r="2.2" fill="none" stroke="#1a1a1a" stroke-width="0.8"/>
<circle cx="320.50" cy="397.80" r="2.2" fill="none" stroke="#1a1a1a" stroke-width="0.8"/>
<circle cx="320.50" cy="407.40" r="2.2" fill="none" stroke="#1a1a1a" stroke-width="0.8"/>
<circle cx="316.70" cy="415.10" r="2.2" fill="none" stroke="#1a1a1a" stroke-width="0.8"/>
<circle cx="320.40" cy="415.10" r="2.2" fill="none" stroke="#1a1a1a" stroke-width="0.8"/>
<circle cx="324.40" cy="415.10" r="2.2" fill="none" stroke="#1a1a1a" stroke-width="0.8"/>
<circle cx="320.50" cy="417.40" r="2.2" fill="none" stroke="#1a1a1a" stroke-width="0.8"/>
<circle cx="320.50" cy="424.40" r="2.2" fill="none" stroke="#1a1a1a" stroke-width="0.8"/>
<circle cx="320.50" cy="426.70" r="2.2" fill="none" stroke="#1a1a1a" stroke-width="0.8"/>
<circle cx="320.50" cy="437.10" r="2.2" fill="none" stroke="#1a1a1a" stroke-width="0.8"/>
<circle cx="340.40" cy="410.20" r="2.2" fill="none" stroke="#1a1a1a" stroke-width="0.8"/>
<circle cx="294.20" cy="452.30" r="2.2" fill="none" stroke="#1a1a1a" stroke-width="0.8"/>
<circle cx="295.09" cy="452.30" r="2.2" fill="none" stroke="#1a1a1a" stroke-width="0.8"/>
<circle cx="295.98" cy="452.30" r="2.2" fill="none" stroke="#1a1a1a" stroke-width="0.8"/>
<circle cx="296.88" cy="452.30" r="2.2" fill="none" stroke="#1a1a1a" stroke-width="0.8"/>
<circle cx="297.77" cy="452.30" r="2.2" fill="none" stroke="#1a1a1a" stroke-width="0.8"/>
<circle cx="298.66" cy="452.30" r="2.2" fill="none" stroke="#1a1a1a" stroke-width="0.8"/>
<circle cx="299.55" cy="452.30" r="2.2" fill="none" stroke="#1a1a1a" stroke-width="0.8"/>
<circle cx="300.45" cy="452.30" r="2.2" fill="none" stroke="#1a1a1a" stroke-width="0.8"/>
<circle cx="301.34" cy="452.30" r="2.2" fill="none" stroke="#1a1a1a" stroke-width="0.8"/>
<circle cx="302.23" cy="452.30" r="2.2" fill="none" stroke="#1a1a1a" stroke-width="0.8"/>
<circle cx="303.12" cy="452.30" r="2.2" fill="none" stroke="#1a1a1a" stroke-width="0.8"/>
<circle cx="304.02" cy="452.30" r="2.2" fill="none" stroke="#1a1a1a" stroke-width="0.8"/>
<circle cx="304.91" cy="452.30" r="2.2" fill="none" stroke="#1a1a1a" stroke-width="0.8"/>
<circle cx="305.80" cy="452.30" r="2.2" fill="none" stroke="#1a1a1a" stroke-width="0.8"/>
<circle cx="315.00" cy="452.30" r="2.2" fill="none" stroke="#1a1a1a" stroke-width="0.8"/>
<circle cx="315.82" cy="452.30" r="2.2" fill="none" stroke="#1a1a1a" stroke-width="0.8"/>
<circle cx="316.63" cy="452.30" r="2.2" fill="none" stroke="#1a1a1a" stroke-width="0.8"/>
<circle cx="317.45" cy="452.30" r="2.2" fill="none" stroke="#1a1a1a" stroke-width="0.8"/>
<circle cx="318.26" cy="452.30" r="2.2" fill="none" stroke="#1a1a1a" stroke-width="0.8"/>
<circle cx="319.08" cy="452.30" r="2.2" fill="none" stroke="#1a1a1a" stroke-width="0.8"/>
<circle cx="319.89" cy="452.30" r="2.2" fill="none" stroke="#1a1a1a" stroke-width="0.8"/>
<circle cx="320.71" cy="452.30" r="2.2" fill="none" stroke="#1a1a1a" stroke-width="0.8"/>
<circle cx="321.52" cy="452.30" r="2.2" fill="none" stroke="#1a1a1a" stroke-width="0.8"/>
<circle cx="322.34" cy="452.30" r="2.2" fill="none" stroke="#1a1a1a" stroke-width="0.8"/>
<circle cx="323.15" cy="452.30" r="2.2" fill="none" stroke="#1a1a1a" stroke-width="0.8"/>
<circle cx="323.97" cy="452.30" r="2.2" fill="none" stroke="#1a1a1a" stroke-width="0.8"/>
<circle cx="324.78" cy="452.30" r="2.2" fill="none" stroke="#1a1a1a" stroke-width="0.8"/>
<circle cx="325.60" cy="452.30" r="2.2" fill="none" stroke="#1a1a1a" stroke-width="0.8"/>
<circle cx="334.80" cy="452.30" r="2.2" fill="none" stroke="#1a1a1a" stroke-width="0.8"/>
<circle cx="335.63" cy="452.30" r="2.2" fill="none" stroke="#1a1a1a" stroke-width="0.8"/>
<circle cx="336.46" cy="452.30" r="2.2" fill="none" stroke="#1a1a1a" stroke-width="0.8"/>
<circle cx="337.29" cy="452.30" r="2.2" fill="none" stroke="#1a1a1a" stroke-width="0.8"/>
<circle cx="338.12" cy="452.30" r="2.2" fill="none" stroke="#1a1a1a" stroke-width="0.8"/>
<circle cx="338.95" cy="452.30" r="2.2" fill="none" stroke="#1a1a1a" stroke-width="0.8"/>
<circle cx="339.78" cy="452.30" r="2.2" fill="none" stroke="#1a1a1a" stroke-width="0.8"/>
<circle cx="340.62" cy="452.30" r="2.2" fill="none" stroke="#1a1a1a" stroke-width="0.8"/>
<circle cx="341.45" cy="452.30" r="2.2" fill="none" stroke="#1a1a1a" stroke-width="0.8"/>
<circle cx="342.28" cy="452.30" r="2.2" fill="none" stroke="#1a1a1a" stroke-width="0.8"/>
<circle cx="343.11" cy="452.30" r="2.2" fill="none" stroke="#1a1a1a" stroke-width="0.8"/>
<circle cx="343.94" cy="452.30" r="2.2" fill="none" stroke="#1a1a1a" stroke-width="0.8"/>
<circle cx="344.77" cy="452.30" r="2.2" fill="none" stroke="#1a1a1a" stroke-width="0.8"/>
<circle cx="345.60" cy="452.30" r="2.2" fill="none" stroke="#1a1a1a" stroke-width="0.8"/>
<line x1="293.00" y1="452.30" x2="307.40" y2="452.30" stroke="#e8402a" stroke-width="1.0"/>
<line x1="313.50" y1="452.30" x2="327.80" y2="452.30" stroke="#e8402a" stroke-width="1.0"/>
<line x1="333.70" y1="452.30" x2="347.80" y2="452.30" stroke="#e8402a" stroke-width="1.0"/>
<line x1="370.70" y1="352.00" x2="370.70" y2="452.20" stroke="#333" stroke-width="0.9"/>
<line x1="366.50" y1="452.20" x2="370.70" y2="452.20" stroke="#333" stroke-width="0.7"/>
<text x="363.40" y="455.20" font-size="8.3" text-anchor="end" fill="#444">0</text>
<line x1="366.50" y1="418.90" x2="370.70" y2="418.90" stroke="#333" stroke-width="0.7"/>
<text x="363.40" y="421.90" font-size="8.3" text-anchor="end" fill="#444">5</text>
<line x1="366.50" y1="385.60" x2="370.70" y2="385.60" stroke="#333" stroke-width="0.7"/>
<text x="363.40" y="388.60" font-size="8.3" text-anchor="end" fill="#444">10</text>
<line x1="366.50" y1="352.30" x2="370.70" y2="352.30" stroke="#333" stroke-width="0.7"/>
<text x="363.40" y="355.30" font-size="8.3" text-anchor="end" fill="#444">15</text>
<line x1="370.70" y1="452.20" x2="437.60" y2="452.20" stroke="#333" stroke-width="0.9"/>
<line x1="384.40" y1="452.20" x2="384.40" y2="456.40" stroke="#555" stroke-width="0.7"/>
<line x1="403.90" y1="452.20" x2="403.90" y2="456.40" stroke="#555" stroke-width="0.7"/>
<line x1="424.00" y1="452.20" x2="424.00" y2="456.40" stroke="#555" stroke-width="0.7"/>
<text x="389.10" y="462.80" font-size="7.8" text-anchor="end" fill="#000" transform="rotate(-45 389.10 462.80)">CR</text>
<text x="408.60" y="462.80" font-size="7.8" text-anchor="end" fill="#000" transform="rotate(-45 408.60 462.80)">niPASC</text>
<text x="428.70" y="462.80" font-size="7.8" text-anchor="end" fill="#000" transform="rotate(-45 428.70 462.80)">inflPASC</text>
<line x1="384.00" y1="349.30" x2="424.00" y2="349.30" stroke="#444" stroke-width="0.9"/>
<polygon points="404.00,343.15 404.57,344.52 406.04,344.64 404.92,345.60 405.26,347.04 404.00,346.27 402.74,347.04 403.08,345.60 401.96,344.64 403.43,344.52" fill="#222"/>
<line x1="384.00" y1="356.20" x2="404.60" y2="356.20" stroke="#444" stroke-width="0.9"/>
<polygon points="394.30,351.35 394.87,352.72 396.34,352.84 395.22,353.80 395.56,355.24 394.30,354.47 393.04,355.24 393.38,353.80 392.26,352.84 393.73,352.72" fill="#222"/>
<circle cx="379.30" cy="448.90" r="2.2" fill="none" stroke="#1a1a1a" stroke-width="0.8"/>
<circle cx="383.90" cy="447.40" r="2.2" fill="none" stroke="#1a1a1a" stroke-width="0.8"/>
<circle cx="387.50" cy="449.80" r="2.2" fill="none" stroke="#1a1a1a" stroke-width="0.8"/>
<circle cx="380.20" cy="451.60" r="2.2" fill="none" stroke="#1a1a1a" stroke-width="0.8"/>
<circle cx="384.80" cy="452.10" r="2.2" fill="none" stroke="#1a1a1a" stroke-width="0.8"/>
<circle cx="389.30" cy="452.10" r="2.2" fill="none" stroke="#1a1a1a" stroke-width="0.8"/>
<circle cx="377.50" cy="452.10" r="2.2" fill="none" stroke="#1a1a1a" stroke-width="0.8"/>
<circle cx="391.00" cy="452.10" r="2.2" fill="none" stroke="#1a1a1a" stroke-width="0.8"/>
<circle cx="403.90" cy="377.40" r="2.2" fill="none" stroke="#1a1a1a" stroke-width="0.8"/>
<circle cx="403.90" cy="426.10" r="2.2" fill="none" stroke="#1a1a1a" stroke-width="0.8"/>
<circle cx="403.90" cy="428.40" r="2.2" fill="none" stroke="#1a1a1a" stroke-width="0.8"/>
<circle cx="403.90" cy="438.80" r="2.2" fill="none" stroke="#1a1a1a" stroke-width="0.8"/>
<circle cx="402.60" cy="441.60" r="2.2" fill="none" stroke="#1a1a1a" stroke-width="0.8"/>
<circle cx="403.90" cy="443.40" r="2.2" fill="none" stroke="#1a1a1a" stroke-width="0.8"/>
<circle cx="404.80" cy="445.20" r="2.2" fill="none" stroke="#1a1a1a" stroke-width="0.8"/>
<circle cx="424.00" cy="427.90" r="2.2" fill="none" stroke="#1a1a1a" stroke-width="0.8"/>
<circle cx="422.20" cy="433.90" r="2.2" fill="none" stroke="#1a1a1a" stroke-width="0.8"/>
<circle cx="425.80" cy="433.40" r="2.2" fill="none" stroke="#1a1a1a" stroke-width="0.8"/>
<circle cx="422.20" cy="439.80" r="2.2" fill="none" stroke="#1a1a1a" stroke-width="0.8"/>
<circle cx="425.80" cy="442.50" r="2.2" fill="none" stroke="#1a1a1a" stroke-width="0.8"/>
<circle cx="418.50" cy="445.20" r="2.2" fill="none" stroke="#1a1a1a" stroke-width="0.8"/>
<circle cx="423.10" cy="445.20" r="2.2" fill="none" stroke="#1a1a1a" stroke-width="0.8"/>
<circle cx="427.60" cy="446.10" r="2.2" fill="none" stroke="#1a1a1a" stroke-width="0.8"/>
<circle cx="418.50" cy="448.90" r="2.2" fill="none" stroke="#1a1a1a" stroke-width="0.8"/>
<circle cx="424.00" cy="449.20" r="2.2" fill="none" stroke="#1a1a1a" stroke-width="0.8"/>
<circle cx="428.50" cy="448.90" r="2.2" fill="none" stroke="#1a1a1a" stroke-width="0.8"/>
<circle cx="418.50" cy="452.50" r="2.2" fill="none" stroke="#1a1a1a" stroke-width="0.8"/>
<circle cx="424.00" cy="452.50" r="2.2" fill="none" stroke="#1a1a1a" stroke-width="0.8"/>
<circle cx="428.50" cy="452.50" r="2.2" fill="none" stroke="#1a1a1a" stroke-width="0.8"/>
<circle cx="403.43" cy="449.80" r="2.2" fill="none" stroke="#1a1a1a" stroke-width="0.8"/>
<circle cx="409.09" cy="449.25" r="2.2" fill="none" stroke="#1a1a1a" stroke-width="0.8"/>
<circle cx="404.09" cy="449.97" r="2.2" fill="none" stroke="#1a1a1a" stroke-width="0.8"/>
<circle cx="400.22" cy="449.52" r="2.2" fill="none" stroke="#1a1a1a" stroke-width="0.8"/>
<circle cx="405.56" cy="451.18" r="2.2" fill="none" stroke="#1a1a1a" stroke-width="0.8"/>
<circle cx="399.13" cy="448.29" r="2.2" fill="none" stroke="#1a1a1a" stroke-width="0.8"/>
<circle cx="399.09" cy="451.28" r="2.2" fill="none" stroke="#1a1a1a" stroke-width="0.8"/>
<circle cx="406.32" cy="446.75" r="2.2" fill="none" stroke="#1a1a1a" stroke-width="0.8"/>
<circle cx="409.79" cy="452.19" r="2.2" fill="none" stroke="#1a1a1a" stroke-width="0.8"/>
<circle cx="405.85" cy="450.13" r="2.2" fill="none" stroke="#1a1a1a" stroke-width="0.8"/>
<circle cx="399.89" cy="446.59" r="2.2" fill="none" stroke="#1a1a1a" stroke-width="0.8"/>
<circle cx="404.34" cy="446.85" r="2.2" fill="none" stroke="#1a1a1a" stroke-width="0.8"/>
<circle cx="400.28" cy="447.93" r="2.2" fill="none" stroke="#1a1a1a" stroke-width="0.8"/>
<circle cx="398.36" cy="449.24" r="2.2" fill="none" stroke="#1a1a1a" stroke-width="0.8"/>
<circle cx="403.29" cy="451.47" r="2.2" fill="none" stroke="#1a1a1a" stroke-width="0.8"/>
<circle cx="404.23" cy="450.28" r="2.2" fill="none" stroke="#1a1a1a" stroke-width="0.8"/>
<circle cx="404.00" cy="450.41" r="2.2" fill="none" stroke="#1a1a1a" stroke-width="0.8"/>
<circle cx="403.49" cy="448.14" r="2.2" fill="none" stroke="#1a1a1a" stroke-width="0.8"/>
<circle cx="409.97" cy="452.37" r="2.2" fill="none" stroke="#1a1a1a" stroke-width="0.8"/>
<circle cx="408.08" cy="450.68" r="2.2" fill="none" stroke="#1a1a1a" stroke-width="0.8"/>
<circle cx="401.78" cy="447.86" r="2.2" fill="none" stroke="#1a1a1a" stroke-width="0.8"/>
<circle cx="401.47" cy="446.91" r="2.2" fill="none" stroke="#1a1a1a" stroke-width="0.8"/>
<circle cx="407.20" cy="448.86" r="2.2" fill="none" stroke="#1a1a1a" stroke-width="0.8"/>
<circle cx="408.16" cy="448.78" r="2.2" fill="none" stroke="#1a1a1a" stroke-width="0.8"/>
<circle cx="409.50" cy="451.50" r="2.2" fill="none" stroke="#1a1a1a" stroke-width="0.8"/>
<circle cx="398.01" cy="447.74" r="2.2" fill="none" stroke="#1a1a1a" stroke-width="0.8"/>
<circle cx="402.50" cy="436.50" r="2.2" fill="none" stroke="#1a1a1a" stroke-width="0.8"/>
<circle cx="405.00" cy="439.50" r="2.2" fill="none" stroke="#1a1a1a" stroke-width="0.8"/>
<circle cx="402.00" cy="443.00" r="2.2" fill="none" stroke="#1a1a1a" stroke-width="0.8"/>
<circle cx="406.00" cy="444.50" r="2.2" fill="none" stroke="#1a1a1a" stroke-width="0.8"/>
<circle cx="401.00" cy="447.00" r="2.2" fill="none" stroke="#1a1a1a" stroke-width="0.8"/>
<line x1="377.10" y1="452.90" x2="391.10" y2="452.90" stroke="#e8402a" stroke-width="1.0"/>
<line x1="397.20" y1="450.30" x2="410.70" y2="450.30" stroke="#e8402a" stroke-width="1.0"/>
<line x1="416.70" y1="446.10" x2="430.70" y2="446.10" stroke="#e8402a" stroke-width="1.0"/>
<text x="457.60" y="241.80" font-size="13.5" text-anchor="start" fill="#000" font-weight="bold">i</text>
<text x="522.30" y="242.80" font-size="10.4" text-anchor="middle" fill="#000">CR</text>
<text x="596.60" y="242.80" font-size="10.4" text-anchor="middle" fill="#000">inflPASC</text>
<text x="636.70" y="280.40" font-size="7.8" text-anchor="start" fill="#000">aN</text>
<text x="636.70" y="361.00" font-size="7.8" text-anchor="start" fill="#000">Total Memory</text>
<text x="477.30" y="316.90" font-size="7.7" text-anchor="middle" fill="#000" transform="rotate(-90 477.30 316.90)">Spike Tetramer 1</text>
<line x1="473.50" y1="245.20" x2="473.50" y2="285.70" stroke="#333" stroke-width="0.9"/>
<line x1="473.50" y1="351.90" x2="473.50" y2="390.00" stroke="#333" stroke-width="0.9"/>
<text x="560.10" y="405.20" font-size="7.7" text-anchor="middle" fill="#000">Spike Tetramer 2</text>
<line x1="488.20" y1="402.50" x2="528.40" y2="402.50" stroke="#333" stroke-width="0.9"/>
<line x1="591.50" y1="402.50" x2="631.00" y2="402.50" stroke="#333" stroke-width="0.9"/>
<defs>
<radialGradient id="core" cx="0.5" cy="0.5" r="0.5">
<stop offset="0" stop-color="#e8301a"/>
<stop offset="0.18" stop-color="#f0d020"/>
<stop offset="0.42" stop-color="#40d050"/>
<stop offset="0.7" stop-color="#10c0f0"/>
<stop offset="1" stop-color="#1060ff" stop-opacity="0"/>
</radialGradient>
<radialGradient id="blu" cx="0.5" cy="0.5" r="0.5">
<stop offset="0" stop-color="#1030ff"/>
<stop offset="0.6" stop-color="#1838ff" stop-opacity="0.9"/>
<stop offset="1" stop-color="#3050ff" stop-opacity="0"/>
</radialGradient>
<radialGradient id="blu2" cx="0.5" cy="0.5" r="0.5">
<stop offset="0" stop-color="#2040ff" stop-opacity="0.8"/>
<stop offset="0.6" stop-color="#3050ff" stop-opacity="0.45"/>
<stop offset="1" stop-color="#4060ff" stop-opacity="0"/>
</radialGradient>
</defs>
<rect x="488.60" y="245.40" width="64.00" height="63.60" fill="none" stroke="#cfcfcf" stroke-width="0.6"/>
<line x1="488.60" y1="247.40" x2="488.60" y2="309.00" stroke="#8a8a8a" stroke-width="0.6"/>
<line x1="488.60" y1="309.00" x2="549.60" y2="309.00" stroke="#8a8a8a" stroke-width="0.6"/>
<line x1="486.60" y1="253.50" x2="488.60" y2="253.50" stroke="#888" stroke-width="0.5"/>
<text x="485.10" y="254.90" font-size="4.2" text-anchor="end" fill="#888">10⁶</text>
<line x1="486.60" y1="268.10" x2="488.60" y2="268.10" stroke="#888" stroke-width="0.5"/>
<text x="485.10" y="269.50" font-size="4.2" text-anchor="end" fill="#888">10⁵</text>
<line x1="486.60" y1="284.10" x2="488.60" y2="284.10" stroke="#888" stroke-width="0.5"/>
<text x="485.10" y="285.50" font-size="4.2" text-anchor="end" fill="#888">10⁴</text>
<line x1="486.60" y1="298.40" x2="488.60" y2="298.40" stroke="#888" stroke-width="0.5"/>
<text x="485.10" y="299.80" font-size="4.2" text-anchor="end" fill="#888">0</text>
<line x1="487.60" y1="249.40" x2="488.60" y2="249.40" stroke="#aaa" stroke-width="0.4"/>
<line x1="487.60" y1="253.70" x2="488.60" y2="253.70" stroke="#aaa" stroke-width="0.4"/>
<line x1="487.60" y1="258.00" x2="488.60" y2="258.00" stroke="#aaa" stroke-width="0.4"/>
<line x1="487.60" y1="262.30" x2="488.60" y2="262.30" stroke="#aaa" stroke-width="0.4"/>
<line x1="487.60" y1="266.60" x2="488.60" y2="266.60" stroke="#aaa" stroke-width="0.4"/>
<line x1="487.60" y1="270.90" x2="488.60" y2="270.90" stroke="#aaa" stroke-width="0.4"/>
<line x1="487.60" y1="275.20" x2="488.60" y2="275.20" stroke="#aaa" stroke-width="0.4"/>
<line x1="487.60" y1="279.50" x2="488.60" y2="279.50" stroke="#aaa" stroke-width="0.4"/>
<line x1="487.60" y1="283.80" x2="488.60" y2="283.80" stroke="#aaa" stroke-width="0.4"/>
<line x1="487.60" y1="288.10" x2="488.60" y2="288.10" stroke="#aaa" stroke-width="0.4"/>
<line x1="487.60" y1="292.40" x2="488.60" y2="292.40" stroke="#aaa" stroke-width="0.4"/>
<line x1="487.60" y1="296.70" x2="488.60" y2="296.70" stroke="#aaa" stroke-width="0.4"/>
<line x1="487.60" y1="301.00" x2="488.60" y2="301.00" stroke="#aaa" stroke-width="0.4"/>
<line x1="487.60" y1="305.30" x2="488.60" y2="305.30" stroke="#aaa" stroke-width="0.4"/>
<line x1="499.40" y1="309.00" x2="499.40" y2="311.00" stroke="#888" stroke-width="0.5"/>
<text x="499.40" y="315.50" font-size="4.2" text-anchor="middle" fill="#888">0</text>
<line x1="520.40" y1="309.00" x2="520.40" y2="311.00" stroke="#888" stroke-width="0.5"/>
<text x="520.40" y="315.50" font-size="4.2" text-anchor="middle" fill="#888">10⁵</text>
<line x1="533.20" y1="309.00" x2="533.20" y2="311.00" stroke="#888" stroke-width="0.5"/>
<text x="533.20" y="315.50" font-size="4.2" text-anchor="middle" fill="#888">10⁶</text>
<line x1="546.60" y1="309.00" x2="546.60" y2="311.00" stroke="#888" stroke-width="0.5"/>
<text x="546.60" y="315.50" font-size="4.2" text-anchor="middle" fill="#888">10⁷</text>
<line x1="491.60" y1="309.00" x2="491.60" y2="310.00" stroke="#aaa" stroke-width="0.4"/>
<line x1="495.80" y1="309.00" x2="495.80" y2="310.00" stroke="#aaa" stroke-width="0.4"/>
<line x1="500.00" y1="309.00" x2="500.00" y2="310.00" stroke="#aaa" stroke-width="0.4"/>
<line x1="504.20" y1="309.00" x2="504.20" y2="310.00" stroke="#aaa" stroke-width="0.4"/>
<line x1="508.40" y1="309.00" x2="508.40" y2="310.00" stroke="#aaa" stroke-width="0.4"/>
<line x1="512.60" y1="309.00" x2="512.60" y2="310.00" stroke="#aaa" stroke-width="0.4"/>
<line x1="516.80" y1="309.00" x2="516.80" y2="310.00" stroke="#aaa" stroke-width="0.4"/>
<line x1="521.00" y1="309.00" x2="521.00" y2="310.00" stroke="#aaa" stroke-width="0.4"/>
<line x1="525.20" y1="309.00" x2="525.20" y2="310.00" stroke="#aaa" stroke-width="0.4"/>
<line x1="529.40" y1="309.00" x2="529.40" y2="310.00" stroke="#aaa" stroke-width="0.4"/>
<line x1="533.60" y1="309.00" x2="533.60" y2="310.00" stroke="#aaa" stroke-width="0.4"/>
<line x1="537.80" y1="309.00" x2="537.80" y2="310.00" stroke="#aaa" stroke-width="0.4"/>
<line x1="542.00" y1="309.00" x2="542.00" y2="310.00" stroke="#aaa" stroke-width="0.4"/>
<line x1="546.20" y1="309.00" x2="546.20" y2="310.00" stroke="#aaa" stroke-width="0.4"/>
<line x1="487.80" y1="296.40" x2="487.80" y2="299.90" stroke="#222" stroke-width="1.1"/>
<line x1="496.10" y1="309.80" x2="502.10" y2="309.80" stroke="#222" stroke-width="0.9"/>
<ellipse cx="524.20" cy="276.00" rx="24.9" ry="8.8" fill="none" stroke="#3e48a8" stroke-width="0.85" transform="rotate(-42 524.20 276.00)"/>
<text x="528.70" y="254.10" font-size="6.5" text-anchor="middle" fill="#555">0.02</text>
<rect x="514.8" y="289.7" width="0.7" height="0.7" fill="#6a80ff" opacity="0.45"/>
<rect x="531.0" y="266.2" width="0.7" height="0.7" fill="#6a80ff" opacity="0.45"/>
<rect x="523.7" y="275.7" width="0.7" height="0.7" fill="#6a80ff" opacity="0.45"/>
<rect x="497.1" y="285.7" width="0.8" height="0.8" fill="#3858ff" opacity="0.45"/>
<rect x="498.6" y="291.5" width="0.8" height="0.8" fill="#3858ff" opacity="0.45"/>
<rect x="498.4" y="294.6" width="0.8" height="0.8" fill="#3858ff" opacity="0.45"/>
<rect x="499.1" y="300.1" width="0.8" height="0.8" fill="#3858ff" opacity="0.45"/>
<rect x="498.7" y="299.4" width="0.8" height="0.8" fill="#3858ff" opacity="0.45"/>
<rect x="498.7" y="289.3" width="0.8" height="0.8" fill="#3858ff" opacity="0.45"/>
<rect x="498.7" y="290.4" width="0.8" height="0.8" fill="#3858ff" opacity="0.45"/>
<rect x="498.6" y="289.3" width="0.8" height="0.8" fill="#3858ff" opacity="0.45"/>
<rect x="498.5" y="292.1" width="0.8" height="0.8" fill="#3858ff" opacity="0.45"/>
<rect x="499.8" y="298.1" width="0.8" height="0.8" fill="#3858ff" opacity="0.45"/>
<rect x="499.3" y="287.6" width="0.8" height="0.8" fill="#3858ff" opacity="0.45"/>
<rect x="497.7" y="280.2" width="0.8" height="0.8" fill="#3858ff" opacity="0.45"/>
<rect x="499.2" y="292.1" width="0.8" height="0.8" fill="#3858ff" opacity="0.45"/>
<rect x="496.4" y="288.7" width="0.8" height="0.8" fill="#3858ff" opacity="0.45"/>
<rect x="499.3" y="285.6" width="0.8" height="0.8" fill="#3858ff" opacity="0.45"/>
<rect x="500.0" y="282.7" width="0.8" height="0.8" fill="#3858ff" opacity="0.45"/>
<rect x="496.7" y="299.3" width="0.8" height="0.8" fill="#3858ff" opacity="0.45"/>
<rect x="498.6" y="293.5" width="0.8" height="0.8" fill="#3858ff" opacity="0.45"/>
<rect x="499.2" y="287.3" width="0.8" height="0.8" fill="#3858ff" opacity="0.45"/>
<rect x="496.5" y="292.9" width="0.8" height="0.8" fill="#3858ff" opacity="0.45"/>
<rect x="496.1" y="295.4" width="0.8" height="0.8" fill="#3858ff" opacity="0.45"/>
<rect x="498.2" y="296.0" width="0.8" height="0.8" fill="#3858ff" opacity="0.45"/>
<rect x="500.4" y="297.1" width="0.8" height="0.8" fill="#3858ff" opacity="0.45"/>
<rect x="498.2" y="294.6" width="0.8" height="0.8" fill="#3858ff" opacity="0.45"/>
<rect x="494.7" y="298.2" width="0.8" height="0.8" fill="#3858ff" opacity="0.45"/>
<rect x="496.8" y="292.9" width="0.8" height="0.8" fill="#3858ff" opacity="0.45"/>
<rect x="495.2" y="294.3" width="0.8" height="0.8" fill="#3858ff" opacity="0.45"/>
<rect x="497.7" y="299.3" width="0.8" height="0.8" fill="#3858ff" opacity="0.45"/>
<rect x="498.5" y="298.7" width="0.8" height="0.8" fill="#3858ff" opacity="0.45"/>
<rect x="496.0" y="284.9" width="0.8" height="0.8" fill="#3858ff" opacity="0.45"/>
<rect x="499.0" y="286.1" width="0.8" height="0.8" fill="#3858ff" opacity="0.45"/>
<rect x="497.9" y="282.5" width="0.8" height="0.8" fill="#3858ff" opacity="0.45"/>
<rect x="497.6" y="293.3" width="0.8" height="0.8" fill="#3858ff" opacity="0.45"/>
<rect x="498.4" y="294.5" width="0.8" height="0.8" fill="#3858ff" opacity="0.45"/>
<rect x="496.6" y="293.5" width="0.8" height="0.8" fill="#3858ff" opacity="0.45"/>
<rect x="497.5" y="292.1" width="0.8" height="0.8" fill="#3858ff" opacity="0.45"/>
<rect x="499.2" y="289.8" width="0.8" height="0.8" fill="#3858ff" opacity="0.45"/>
<rect x="496.6" y="289.8" width="0.8" height="0.8" fill="#3858ff" opacity="0.45"/>
<rect x="498.3" y="280.5" width="0.8" height="0.8" fill="#3858ff" opacity="0.45"/>
<rect x="497.9" y="296.7" width="0.8" height="0.8" fill="#3858ff" opacity="0.45"/>
<rect x="498.4" y="293.5" width="0.8" height="0.8" fill="#3858ff" opacity="0.45"/>
<rect x="499.6" y="296.9" width="0.8" height="0.8" fill="#3858ff" opacity="0.45"/>
<rect x="499.3" y="289.7" width="0.8" height="0.8" fill="#3858ff" opacity="0.45"/>
<rect x="499.3" y="293.7" width="0.8" height="0.8" fill="#3858ff" opacity="0.45"/>
<rect x="497.8" y="291.0" width="0.8" height="0.8" fill="#3858ff" opacity="0.45"/>
<rect x="498.6" y="293.7" width="0.8" height="0.8" fill="#3858ff" opacity="0.45"/>
<rect x="500.6" y="284.6" width="0.8" height="0.8" fill="#3858ff" opacity="0.45"/>
<rect x="498.3" y="282.9" width="0.8" height="0.8" fill="#3858ff" opacity="0.45"/>
<rect x="498.6" y="299.9" width="0.8" height="0.8" fill="#3858ff" opacity="0.45"/>
<rect x="500.0" y="293.3" width="0.8" height="0.8" fill="#3858ff" opacity="0.45"/>
<rect x="497.7" y="289.0" width="0.8" height="0.8" fill="#3858ff" opacity="0.45"/>
<rect x="501.9" y="292.7" width="0.8" height="0.8" fill="#3858ff" opacity="0.45"/>
<rect x="498.7" y="283.3" width="0.8" height="0.8" fill="#3858ff" opacity="0.45"/>
<rect x="499.4" y="295.2" width="0.8" height="0.8" fill="#3858ff" opacity="0.45"/>
<rect x="499.4" y="299.5" width="0.8" height="0.8" fill="#3858ff" opacity="0.45"/>
<rect x="504.1" y="296.6" width="0.7" height="0.7" fill="#6080ff" opacity="0.4"/>
<rect x="510.7" y="294.7" width="0.7" height="0.7" fill="#6080ff" opacity="0.4"/>
<rect x="509.3" y="307.0" width="0.7" height="0.7" fill="#6080ff" opacity="0.4"/>
<rect x="505.4" y="298.2" width="0.7" height="0.7" fill="#6080ff" opacity="0.4"/>
<rect x="510.9" y="298.7" width="0.7" height="0.7" fill="#6080ff" opacity="0.4"/>
<rect x="500.9" y="302.5" width="0.7" height="0.7" fill="#6080ff" opacity="0.4"/>
<ellipse cx="498.40" cy="295.20" rx="2.6" ry="9.5" fill="url(#blu)"/>
<ellipse cx="498.40" cy="298.20" rx="2.0" ry="4.6" fill="url(#core)"/>
<rect x="567.00" y="245.40" width="64.00" height="63.60" fill="none" stroke="#cfcfcf" stroke-width="0.6"/>
<line x1="567.00" y1="247.40" x2="567.00" y2="309.00" stroke="#8a8a8a" stroke-width="0.6"/>
<line x1="567.00" y1="309.00" x2="628.00" y2="309.00" stroke="#8a8a8a" stroke-width="0.6"/>
<line x1="565.00" y1="253.50" x2="567.00" y2="253.50" stroke="#888" stroke-width="0.5"/>
<text x="563.50" y="254.90" font-size="4.2" text-anchor="end" fill="#888">10⁶</text>
<line x1="565.00" y1="268.10" x2="567.00" y2="268.10" stroke="#888" stroke-width="0.5"/>
<text x="563.50" y="269.50" font-size="4.2" text-anchor="end" fill="#888">10⁵</text>
<line x1="565.00" y1="284.10" x2="567.00" y2="284.10" stroke="#888" stroke-width="0.5"/>
<text x="563.50" y="285.50" font-size="4.2" text-anchor="end" fill="#888">10⁴</text>
<line x1="565.00" y1="298.40" x2="567.00" y2="298.40" stroke="#888" stroke-width="0.5"/>
<text x="563.50" y="299.80" font-size="4.2" text-anchor="end" fill="#888">0</text>
<line x1="566.00" y1="249.40" x2="567.00" y2="249.40" stroke="#aaa" stroke-width="0.4"/>
<line x1="566.00" y1="253.70" x2="567.00" y2="253.70" stroke="#aaa" stroke-width="0.4"/>
<line x1="566.00" y1="258.00" x2="567.00" y2="258.00" stroke="#aaa" stroke-width="0.4"/>
<line x1="566.00" y1="262.30" x2="567.00" y2="262.30" stroke="#aaa" stroke-width="0.4"/>
<line x1="566.00" y1="266.60" x2="567.00" y2="266.60" stroke="#aaa" stroke-width="0.4"/>
<line x1="566.00" y1="270.90" x2="567.00" y2="270.90" stroke="#aaa" stroke-width="0.4"/>
<line x1="566.00" y1="275.20" x2="567.00" y2="275.20" stroke="#aaa" stroke-width="0.4"/>
<line x1="566.00" y1="279.50" x2="567.00" y2="279.50" stroke="#aaa" stroke-width="0.4"/>
<line x1="566.00" y1="283.80" x2="567.00" y2="283.80" stroke="#aaa" stroke-width="0.4"/>
<line x1="566.00" y1="288.10" x2="567.00" y2="288.10" stroke="#aaa" stroke-width="0.4"/>
<line x1="566.00" y1="292.40" x2="567.00" y2="292.40" stroke="#aaa" stroke-width="0.4"/>
<line x1="566.00" y1="296.70" x2="567.00" y2="296.70" stroke="#aaa" stroke-width="0.4"/>
<line x1="566.00" y1="301.00" x2="567.00" y2="301.00" stroke="#aaa" stroke-width="0.4"/>
<line x1="566.00" y1="305.30" x2="567.00" y2="305.30" stroke="#aaa" stroke-width="0.4"/>
<line x1="577.80" y1="309.00" x2="577.80" y2="311.00" stroke="#888" stroke-width="0.5"/>
<text x="577.80" y="315.50" font-size="4.2" text-anchor="middle" fill="#888">0</text>
<line x1="598.80" y1="309.00" x2="598.80" y2="311.00" stroke="#888" stroke-width="0.5"/>
<text x="598.80" y="315.50" font-size="4.2" text-anchor="middle" fill="#888">10⁵</text>
<line x1="611.60" y1="309.00" x2="611.60" y2="311.00" stroke="#888" stroke-width="0.5"/>
<text x="611.60" y="315.50" font-size="4.2" text-anchor="middle" fill="#888">10⁶</text>
<line x1="625.00" y1="309.00" x2="625.00" y2="311.00" stroke="#888" stroke-width="0.5"/>
<text x="625.00" y="315.50" font-size="4.2" text-anchor="middle" fill="#888">10⁷</text>
<line x1="570.00" y1="309.00" x2="570.00" y2="310.00" stroke="#aaa" stroke-width="0.4"/>
<line x1="574.20" y1="309.00" x2="574.20" y2="310.00" stroke="#aaa" stroke-width="0.4"/>
<line x1="578.40" y1="309.00" x2="578.40" y2="310.00" stroke="#aaa" stroke-width="0.4"/>
<line x1="582.60" y1="309.00" x2="582.60" y2="310.00" stroke="#aaa" stroke-width="0.4"/>
<line x1="586.80" y1="309.00" x2="586.80" y2="310.00" stroke="#aaa" stroke-width="0.4"/>
<line x1="591.00" y1="309.00" x2="591.00" y2="310.00" stroke="#aaa" stroke-width="0.4"/>
<line x1="595.20" y1="309.00" x2="595.20" y2="310.00" stroke="#aaa" stroke-width="0.4"/>
<line x1="599.40" y1="309.00" x2="599.40" y2="310.00" stroke="#aaa" stroke-width="0.4"/>
<line x1="603.60" y1="309.00" x2="603.60" y2="310.00" stroke="#aaa" stroke-width="0.4"/>
<line x1="607.80" y1="309.00" x2="607.80" y2="310.00" stroke="#aaa" stroke-width="0.4"/>
<line x1="612.00" y1="309.00" x2="612.00" y2="310.00" stroke="#aaa" stroke-width="0.4"/>
<line x1="616.20" y1="309.00" x2="616.20" y2="310.00" stroke="#aaa" stroke-width="0.4"/>
<line x1="620.40" y1="309.00" x2="620.40" y2="310.00" stroke="#aaa" stroke-width="0.4"/>
<line x1="624.60" y1="309.00" x2="624.60" y2="310.00" stroke="#aaa" stroke-width="0.4"/>
<line x1="566.20" y1="296.40" x2="566.20" y2="299.90" stroke="#222" stroke-width="1.1"/>
<line x1="574.50" y1="309.80" x2="580.50" y2="309.80" stroke="#222" stroke-width="0.9"/>
<ellipse cx="602.60" cy="276.00" rx="24.9" ry="8.8" fill="none" stroke="#3e48a8" stroke-width="0.85" transform="rotate(-42 602.60 276.00)"/>
<text x="607.00" y="254.10" font-size="6.5" text-anchor="middle" fill="#555">0.10</text>
<rect x="620.9" y="266.3" width="0.7" height="0.7" fill="#6a80ff" opacity="0.45"/>
<rect x="585.0" y="285.6" width="0.7" height="0.7" fill="#6a80ff" opacity="0.45"/>
<rect x="615.3" y="268.1" width="0.7" height="0.7" fill="#6a80ff" opacity="0.45"/>
<rect x="606.7" y="269.4" width="0.7" height="0.7" fill="#6a80ff" opacity="0.45"/>
<rect x="606.9" y="273.8" width="0.7" height="0.7" fill="#6a80ff" opacity="0.45"/>
<rect x="602.7" y="270.8" width="0.7" height="0.7" fill="#6a80ff" opacity="0.45"/>
<rect x="599.5" y="277.2" width="0.7" height="0.7" fill="#6a80ff" opacity="0.45"/>
<rect x="613.6" y="273.6" width="0.7" height="0.7" fill="#6a80ff" opacity="0.45"/>
<rect x="617.6" y="263.1" width="0.7" height="0.7" fill="#6a80ff" opacity="0.45"/>
<rect x="599.1" y="275.7" width="0.7" height="0.7" fill="#6a80ff" opacity="0.45"/>
<rect x="583.9" y="285.7" width="0.7" height="0.7" fill="#6a80ff" opacity="0.45"/>
<rect x="600.1" y="275.5" width="0.7" height="0.7" fill="#6a80ff" opacity="0.45"/>
<rect x="601.6" y="282.8" width="0.7" height="0.7" fill="#6a80ff" opacity="0.45"/>
<rect x="603.9" y="275.7" width="0.7" height="0.7" fill="#6a80ff" opacity="0.45"/>
<rect x="590.4" y="279.8" width="0.7" height="0.7" fill="#6a80ff" opacity="0.45"/>
<rect x="594.2" y="278.1" width="0.7" height="0.7" fill="#6a80ff" opacity="0.45"/>
<rect x="606.7" y="279.8" width="0.7" height="0.7" fill="#6a80ff" opacity="0.45"/>
<rect x="605.9" y="268.2" width="0.7" height="0.7" fill="#6a80ff" opacity="0.45"/>
<rect x="617.7" y="266.9" width="0.7" height="0.7" fill="#6a80ff" opacity="0.45"/>
<rect x="613.3" y="272.5" width="0.7" height="0.7" fill="#6a80ff" opacity="0.45"/>
<rect x="613.4" y="270.7" width="0.7" height="0.7" fill="#6a80ff" opacity="0.45"/>
<rect x="601.4" y="284.3" width="0.7" height="0.7" fill="#6a80ff" opacity="0.45"/>
<rect x="615.2" y="259.6" width="0.7" height="0.7" fill="#6a80ff" opacity="0.45"/>
<rect x="612.5" y="270.3" width="0.7" height="0.7" fill="#6a80ff" opacity="0.45"/>
<rect x="601.6" y="277.4" width="0.7" height="0.7" fill="#6a80ff" opacity="0.45"/>
<rect x="573.8" y="293.1" width="0.8" height="0.8" fill="#3858ff" opacity="0.45"/>
<rect x="576.8" y="290.2" width="0.8" height="0.8" fill="#3858ff" opacity="0.45"/>
<rect x="578.0" y="288.2" width="0.8" height="0.8" fill="#3858ff" opacity="0.45"/>
<rect x="575.6" y="294.2" width="0.8" height="0.8" fill="#3858ff" opacity="0.45"/>
<rect x="577.0" y="290.0" width="0.8" height="0.8" fill="#3858ff" opacity="0.45"/>
<rect x="576.1" y="291.4" width="0.8" height="0.8" fill="#3858ff" opacity="0.45"/>
<rect x="577.7" y="297.1" width="0.8" height="0.8" fill="#3858ff" opacity="0.45"/>
<rect x="576.3" y="287.3" width="0.8" height="0.8" fill="#3858ff" opacity="0.45"/>
<rect x="575.8" y="287.9" width="0.8" height="0.8" fill="#3858ff" opacity="0.45"/>
<rect x="577.6" y="276.9" width="0.8" height="0.8" fill="#3858ff" opacity="0.45"/>
<rect x="576.4" y="297.1" width="0.8" height="0.8" fill="#3858ff" opacity="0.45"/>
<rect x="574.9" y="292.6" width="0.8" height="0.8" fill="#3858ff" opacity="0.45"/>
<rect x="576.8" y="294.2" width="0.8" height="0.8" fill="#3858ff" opacity="0.45"/>
<rect x="575.9" y="299.5" width="0.8" height="0.8" fill="#3858ff" opacity="0.45"/>
<rect x="578.0" y="292.3" width="0.8" height="0.8" fill="#3858ff" opacity="0.45"/>
<rect x="576.0" y="297.6" width="0.8" height="0.8" fill="#3858ff" opacity="0.45"/>
<rect x="575.0" y="293.4" width="0.8" height="0.8" fill="#3858ff" opacity="0.45"/>
<rect x="577.0" y="294.5" width="0.8" height="0.8" fill="#3858ff" opacity="0.45"/>
<rect x="579.6" y="290.3" width="0.8" height="0.8" fill="#3858ff" opacity="0.45"/>
<rect x="577.1" y="291.5" width="0.8" height="0.8" fill="#3858ff" opacity="0.45"/>
<rect x="577.1" y="294.6" width="0.8" height="0.8" fill="#3858ff" opacity="0.45"/>
<rect x="578.6" y="296.6" width="0.8" height="0.8" fill="#3858ff" opacity="0.45"/>
<rect x="577.5" y="299.7" width="0.8" height="0.8" fill="#3858ff" opacity="0.45"/>
<rect x="577.1" y="284.9" width="0.8" height="0.8" fill="#3858ff" opacity="0.45"/>
<rect x="577.7" y="295.0" width="0.8" height="0.8" fill="#3858ff" opacity="0.45"/>
<rect x="577.1" y="293.5" width="0.8" height="0.8" fill="#3858ff" opacity="0.45"/>
<rect x="578.6" y="291.5" width="0.8" height="0.8" fill="#3858ff" opacity="0.45"/>
<rect x="575.3" y="292.1" width="0.8" height="0.8" fill="#3858ff" opacity="0.45"/>
<rect x="576.2" y="293.3" width="0.8" height="0.8" fill="#3858ff" opacity="0.45"/>
<rect x="577.6" y="294.1" width="0.8" height="0.8" fill="#3858ff" opacity="0.45"/>
<rect x="575.7" y="292.5" width="0.8" height="0.8" fill="#3858ff" opacity="0.45"/>
<rect x="576.7" y="291.1" width="0.8" height="0.8" fill="#3858ff" opacity="0.45"/>
<rect x="575.7" y="294.9" width="0.8" height="0.8" fill="#3858ff" opacity="0.45"/>
<rect x="577.0" y="296.8" width="0.8" height="0.8" fill="#3858ff" opacity="0.45"/>
<rect x="577.6" y="299.4" width="0.8" height="0.8" fill="#3858ff" opacity="0.45"/>
<rect x="577.8" y="272.2" width="0.8" height="0.8" fill="#3858ff" opacity="0.45"/>
<rect x="580.6" y="286.8" width="0.8" height="0.8" fill="#3858ff" opacity="0.45"/>
<rect x="578.2" y="300.8" width="0.8" height="0.8" fill="#3858ff" opacity="0.45"/>
<rect x="575.1" y="286.5" width="0.8" height="0.8" fill="#3858ff" opacity="0.45"/>
<rect x="575.8" y="289.6" width="0.8" height="0.8" fill="#3858ff" opacity="0.45"/>
<rect x="577.1" y="297.3" width="0.8" height="0.8" fill="#3858ff" opacity="0.45"/>
<rect x="577.1" y="295.6" width="0.8" height="0.8" fill="#3858ff" opacity="0.45"/>
<rect x="577.5" y="295.0" width="0.8" height="0.8" fill="#3858ff" opacity="0.45"/>
<rect x="577.7" y="287.9" width="0.8" height="0.8" fill="#3858ff" opacity="0.45"/>
<rect x="576.1" y="287.2" width="0.8" height="0.8" fill="#3858ff" opacity="0.45"/>
<rect x="579.6" y="283.3" width="0.8" height="0.8" fill="#3858ff" opacity="0.45"/>
<rect x="575.4" y="293.3" width="0.8" height="0.8" fill="#3858ff" opacity="0.45"/>
<rect x="576.6" y="289.8" width="0.8" height="0.8" fill="#3858ff" opacity="0.45"/>
<rect x="577.0" y="295.2" width="0.8" height="0.8" fill="#3858ff" opacity="0.45"/>
<rect x="575.6" y="277.5" width="0.8" height="0.8" fill="#3858ff" opacity="0.45"/>
<rect x="576.0" y="295.4" width="0.8" height="0.8" fill="#3858ff" opacity="0.45"/>
<rect x="576.7" y="285.0" width="0.8" height="0.8" fill="#3858ff" opacity="0.45"/>
<rect x="577.7" y="295.2" width="0.8" height="0.8" fill="#3858ff" opacity="0.45"/>
<rect x="575.2" y="288.6" width="0.8" height="0.8" fill="#3858ff" opacity="0.45"/>
<rect x="575.5" y="293.4" width="0.8" height="0.8" fill="#3858ff" opacity="0.45"/>
<rect x="579.7" y="303.3" width="0.7" height="0.7" fill="#6080ff" opacity="0.4"/>
<rect x="582.2" y="291.7" width="0.7" height="0.7" fill="#6080ff" opacity="0.4"/>
<rect x="579.7" y="304.9" width="0.7" height="0.7" fill="#6080ff" opacity="0.4"/>
<rect x="587.9" y="300.0" width="0.7" height="0.7" fill="#6080ff" opacity="0.4"/>
<rect x="583.5" y="303.1" width="0.7" height="0.7" fill="#6080ff" opacity="0.4"/>
<rect x="584.4" y="298.3" width="0.7" height="0.7" fill="#6080ff" opacity="0.4"/>
<ellipse cx="576.80" cy="295.20" rx="2.6" ry="9.5" fill="url(#blu)"/>
<ellipse cx="576.80" cy="298.20" rx="2.0" ry="4.6" fill="url(#core)"/>
<rect x="488.60" y="326.00" width="64.00" height="63.60" fill="none" stroke="#cfcfcf" stroke-width="0.6"/>
<line x1="488.60" y1="328.00" x2="488.60" y2="389.60" stroke="#8a8a8a" stroke-width="0.6"/>
<line x1="488.60" y1="389.60" x2="549.60" y2="389.60" stroke="#8a8a8a" stroke-width="0.6"/>
<line x1="486.60" y1="334.10" x2="488.60" y2="334.10" stroke="#888" stroke-width="0.5"/>
<text x="485.10" y="335.50" font-size="4.2" text-anchor="end" fill="#888">10⁶</text>
<line x1="486.60" y1="348.70" x2="488.60" y2="348.70" stroke="#888" stroke-width="0.5"/>
<text x="485.10" y="350.10" font-size="4.2" text-anchor="end" fill="#888">10⁵</text>
<line x1="486.60" y1="364.70" x2="488.60" y2="364.70" stroke="#888" stroke-width="0.5"/>
<text x="485.10" y="366.10" font-size="4.2" text-anchor="end" fill="#888">10⁴</text>
<line x1="486.60" y1="379.00" x2="488.60" y2="379.00" stroke="#888" stroke-width="0.5"/>
<text x="485.10" y="380.40" font-size="4.2" text-anchor="end" fill="#888">0</text>
<line x1="487.60" y1="330.00" x2="488.60" y2="330.00" stroke="#aaa" stroke-width="0.4"/>
<line x1="487.60" y1="334.30" x2="488.60" y2="334.30" stroke="#aaa" stroke-width="0.4"/>
<line x1="487.60" y1="338.60" x2="488.60" y2="338.60" stroke="#aaa" stroke-width="0.4"/>
<line x1="487.60" y1="342.90" x2="488.60" y2="342.90" stroke="#aaa" stroke-width="0.4"/>
<line x1="487.60" y1="347.20" x2="488.60" y2="347.20" stroke="#aaa" stroke-width="0.4"/>
<line x1="487.60" y1="351.50" x2="488.60" y2="351.50" stroke="#aaa" stroke-width="0.4"/>
<line x1="487.60" y1="355.80" x2="488.60" y2="355.80" stroke="#aaa" stroke-width="0.4"/>
<line x1="487.60" y1="360.10" x2="488.60" y2="360.10" stroke="#aaa" stroke-width="0.4"/>
<line x1="487.60" y1="364.40" x2="488.60" y2="364.40" stroke="#aaa" stroke-width="0.4"/>
<line x1="487.60" y1="368.70" x2="488.60" y2="368.70" stroke="#aaa" stroke-width="0.4"/>
<line x1="487.60" y1="373.00" x2="488.60" y2="373.00" stroke="#aaa" stroke-width="0.4"/>
<line x1="487.60" y1="377.30" x2="488.60" y2="377.30" stroke="#aaa" stroke-width="0.4"/>
<line x1="487.60" y1="381.60" x2="488.60" y2="381.60" stroke="#aaa" stroke-width="0.4"/>
<line x1="487.60" y1="385.90" x2="488.60" y2="385.90" stroke="#aaa" stroke-width="0.4"/>
<line x1="499.40" y1="389.60" x2="499.40" y2="391.60" stroke="#888" stroke-width="0.5"/>
<text x="499.40" y="396.10" font-size="4.2" text-anchor="middle" fill="#888">0</text>
<line x1="520.40" y1="389.60" x2="520.40" y2="391.60" stroke="#888" stroke-width="0.5"/>
<text x="520.40" y="396.10" font-size="4.2" text-anchor="middle" fill="#888">10⁵</text>
<line x1="533.20" y1="389.60" x2="533.20" y2="391.60" stroke="#888" stroke-width="0.5"/>
<text x="533.20" y="396.10" font-size="4.2" text-anchor="middle" fill="#888">10⁶</text>
<line x1="546.60" y1="389.60" x2="546.60" y2="391.60" stroke="#888" stroke-width="0.5"/>
<text x="546.60" y="396.10" font-size="4.2" text-anchor="middle" fill="#888">10⁷</text>
<line x1="491.60" y1="389.60" x2="491.60" y2="390.60" stroke="#aaa" stroke-width="0.4"/>
<line x1="495.80" y1="389.60" x2="495.80" y2="390.60" stroke="#aaa" stroke-width="0.4"/>
<line x1="500.00" y1="389.60" x2="500.00" y2="390.60" stroke="#aaa" stroke-width="0.4"/>
<line x1="504.20" y1="389.60" x2="504.20" y2="390.60" stroke="#aaa" stroke-width="0.4"/>
<line x1="508.40" y1="389.60" x2="508.40" y2="390.60" stroke="#aaa" stroke-width="0.4"/>
<line x1="512.60" y1="389.60" x2="512.60" y2="390.60" stroke="#aaa" stroke-width="0.4"/>
<line x1="516.80" y1="389.60" x2="516.80" y2="390.60" stroke="#aaa" stroke-width="0.4"/>
<line x1="521.00" y1="389.60" x2="521.00" y2="390.60" stroke="#aaa" stroke-width="0.4"/>
<line x1="525.20" y1="389.60" x2="525.20" y2="390.60" stroke="#aaa" stroke-width="0.4"/>
<line x1="529.40" y1="389.60" x2="529.40" y2="390.60" stroke="#aaa" stroke-width="0.4"/>
<line x1="533.60" y1="389.60" x2="533.60" y2="390.60" stroke="#aaa" stroke-width="0.4"/>
<line x1="537.80" y1="389.60" x2="537.80" y2="390.60" stroke="#aaa" stroke-width="0.4"/>
<line x1="542.00" y1="389.60" x2="542.00" y2="390.60" stroke="#aaa" stroke-width="0.4"/>
<line x1="546.20" y1="389.60" x2="546.20" y2="390.60" stroke="#aaa" stroke-width="0.4"/>
<line x1="487.80" y1="377.00" x2="487.80" y2="380.50" stroke="#222" stroke-width="1.1"/>
<line x1="496.10" y1="390.40" x2="502.10" y2="390.40" stroke="#222" stroke-width="0.9"/>
<ellipse cx="524.20" cy="356.60" rx="24.9" ry="8.8" fill="none" stroke="#3e48a8" stroke-width="0.85" transform="rotate(-42 524.20 356.60)"/>
<text x="531.20" y="334.70" font-size="6.5" text-anchor="middle" fill="#555">0.37</text>
<rect x="516.0" y="364.7" width="0.7" height="0.7" fill="#6a80ff" opacity="0.45"/>
<rect x="520.7" y="361.3" width="0.7" height="0.7" fill="#6a80ff" opacity="0.45"/>
<rect x="525.1" y="349.3" width="0.7" height="0.7" fill="#6a80ff" opacity="0.45"/>
<rect x="510.8" y="373.7" width="0.7" height="0.7" fill="#6a80ff" opacity="0.45"/>
<rect x="514.3" y="361.5" width="0.7" height="0.7" fill="#6a80ff" opacity="0.45"/>
<rect x="540.2" y="341.8" width="0.7" height="0.7" fill="#6a80ff" opacity="0.45"/>
<rect x="535.0" y="346.5" width="0.7" height="0.7" fill="#6a80ff" opacity="0.45"/>
<rect x="526.1" y="349.6" width="0.7" height="0.7" fill="#6a80ff" opacity="0.45"/>
<rect x="531.4" y="355.7" width="0.7" height="0.7" fill="#6a80ff" opacity="0.45"/>
<rect x="526.8" y="357.9" width="0.7" height="0.7" fill="#6a80ff" opacity="0.45"/>
<rect x="526.5" y="347.9" width="0.7" height="0.7" fill="#6a80ff" opacity="0.45"/>
<rect x="533.3" y="349.8" width="0.7" height="0.7" fill="#6a80ff" opacity="0.45"/>
<rect x="514.2" y="358.5" width="0.7" height="0.7" fill="#6a80ff" opacity="0.45"/>
<rect x="535.9" y="345.6" width="0.7" height="0.7" fill="#6a80ff" opacity="0.45"/>
<rect x="534.2" y="353.3" width="0.7" height="0.7" fill="#6a80ff" opacity="0.45"/>
<rect x="534.4" y="353.8" width="0.7" height="0.7" fill="#6a80ff" opacity="0.45"/>
<rect x="523.0" y="362.2" width="0.7" height="0.7" fill="#6a80ff" opacity="0.45"/>
<rect x="525.7" y="361.9" width="0.7" height="0.7" fill="#6a80ff" opacity="0.45"/>
<rect x="533.6" y="342.1" width="0.7" height="0.7" fill="#6a80ff" opacity="0.45"/>
<rect x="510.2" y="365.0" width="0.7" height="0.7" fill="#6a80ff" opacity="0.45"/>
<rect x="494.5" y="382.1" width="0.8" height="0.8" fill="#3050ff" opacity="0.5"/>
<rect x="504.3" y="378.6" width="0.8" height="0.8" fill="#3050ff" opacity="0.5"/>
<rect x="505.2" y="376.4" width="0.8" height="0.8" fill="#3050ff" opacity="0.5"/>
<rect x="495.5" y="366.2" width="0.8" height="0.8" fill="#3050ff" opacity="0.5"/>
<rect x="502.9" y="378.3" width="0.8" height="0.8" fill="#3050ff" opacity="0.5"/>
<rect x="508.3" y="371.9" width="0.8" height="0.8" fill="#3050ff" opacity="0.5"/>
<rect x="494.1" y="374.8" width="0.8" height="0.8" fill="#3050ff" opacity="0.5"/>
<rect x="502.2" y="374.8" width="0.8" height="0.8" fill="#3050ff" opacity="0.5"/>
<rect x="509.2" y="381.5" width="0.8" height="0.8" fill="#3050ff" opacity="0.5"/>
<rect x="503.0" y="384.5" width="0.8" height="0.8" fill="#3050ff" opacity="0.5"/>
<rect x="501.3" y="381.2" width="0.8" height="0.8" fill="#3050ff" opacity="0.5"/>
<rect x="498.8" y="376.2" width="0.8" height="0.8" fill="#3050ff" opacity="0.5"/>
<rect x="498.0" y="372.4" width="0.8" height="0.8" fill="#3050ff" opacity="0.5"/>
<rect x="487.6" y="378.1" width="0.8" height="0.8" fill="#3050ff" opacity="0.5"/>
<rect x="505.6" y="381.0" width="0.8" height="0.8" fill="#3050ff" opacity="0.5"/>
<rect x="500.4" y="382.2" width="0.8" height="0.8" fill="#3050ff" opacity="0.5"/>
<rect x="498.7" y="377.5" width="0.8" height="0.8" fill="#3050ff" opacity="0.5"/>
<rect x="496.5" y="383.5" width="0.8" height="0.8" fill="#3050ff" opacity="0.5"/>
<rect x="501.9" y="373.8" width="0.8" height="0.8" fill="#3050ff" opacity="0.5"/>
<rect x="498.1" y="364.8" width="0.8" height="0.8" fill="#3050ff" opacity="0.5"/>
<rect x="495.2" y="378.5" width="0.8" height="0.8" fill="#3050ff" opacity="0.5"/>
<rect x="498.5" y="372.8" width="0.8" height="0.8" fill="#3050ff" opacity="0.5"/>
<rect x="498.1" y="368.6" width="0.8" height="0.8" fill="#3050ff" opacity="0.5"/>
<rect x="500.9" y="376.6" width="0.8" height="0.8" fill="#3050ff" opacity="0.5"/>
<rect x="497.9" y="364.7" width="0.8" height="0.8" fill="#3050ff" opacity="0.5"/>
<rect x="501.0" y="373.3" width="0.8" height="0.8" fill="#3050ff" opacity="0.5"/>
<rect x="506.8" y="380.8" width="0.8" height="0.8" fill="#3050ff" opacity="0.5"/>
<rect x="498.4" y="385.4" width="0.8" height="0.8" fill="#3050ff" opacity="0.5"/>
<rect x="497.7" y="369.5" width="0.8" height="0.8" fill="#3050ff" opacity="0.5"/>
<rect x="500.0" y="377.6" width="0.8" height="0.8" fill="#3050ff" opacity="0.5"/>
<rect x="500.7" y="376.5" width="0.8" height="0.8" fill="#3050ff" opacity="0.5"/>
<rect x="503.5" y="379.7" width="0.8" height="0.8" fill="#3050ff" opacity="0.5"/>
<rect x="502.6" y="373.8" width="0.8" height="0.8" fill="#3050ff" opacity="0.5"/>
<rect x="502.1" y="377.4" width="0.8" height="0.8" fill="#3050ff" opacity="0.5"/>
<rect x="500.8" y="367.9" width="0.8" height="0.8" fill="#3050ff" opacity="0.5"/>
<rect x="502.9" y="376.2" width="0.8" height="0.8" fill="#3050ff" opacity="0.5"/>
<rect x="502.1" y="374.7" width="0.8" height="0.8" fill="#3050ff" opacity="0.5"/>
<rect x="499.7" y="376.6" width="0.8" height="0.8" fill="#3050ff" opacity="0.5"/>
<rect x="498.0" y="380.8" width="0.8" height="0.8" fill="#3050ff" opacity="0.5"/>
<rect x="501.6" y="380.6" width="0.8" height="0.8" fill="#3050ff" opacity="0.5"/>
<rect x="494.4" y="377.0" width="0.8" height="0.8" fill="#3050ff" opacity="0.5"/>
<rect x="501.0" y="379.6" width="0.8" height="0.8" fill="#3050ff" opacity="0.5"/>
<rect x="503.0" y="375.6" width="0.8" height="0.8" fill="#3050ff" opacity="0.5"/>
<rect x="501.5" y="380.6" width="0.8" height="0.8" fill="#3050ff" opacity="0.5"/>
<rect x="500.1" y="385.6" width="0.8" height="0.8" fill="#3050ff" opacity="0.5"/>
<rect x="496.2" y="365.3" width="0.8" height="0.8" fill="#3050ff" opacity="0.5"/>
<rect x="501.3" y="380.5" width="0.8" height="0.8" fill="#3050ff" opacity="0.5"/>
<rect x="503.3" y="375.0" width="0.8" height="0.8" fill="#3050ff" opacity="0.5"/>
<rect x="504.6" y="377.4" width="0.8" height="0.8" fill="#3050ff" opacity="0.5"/>
<rect x="502.0" y="376.4" width="0.8" height="0.8" fill="#3050ff" opacity="0.5"/>
<rect x="497.1" y="391.3" width="0.8" height="0.8" fill="#3050ff" opacity="0.5"/>
<rect x="499.5" y="357.9" width="0.8" height="0.8" fill="#3050ff" opacity="0.5"/>
<rect x="498.0" y="378.3" width="0.8" height="0.8" fill="#3050ff" opacity="0.5"/>
<rect x="499.1" y="370.1" width="0.8" height="0.8" fill="#3050ff" opacity="0.5"/>
<rect x="504.7" y="383.3" width="0.8" height="0.8" fill="#3050ff" opacity="0.5"/>
<rect x="501.5" y="378.7" width="0.8" height="0.8" fill="#3050ff" opacity="0.5"/>
<rect x="510.3" y="379.5" width="0.8" height="0.8" fill="#3050ff" opacity="0.5"/>
<rect x="503.9" y="372.5" width="0.8" height="0.8" fill="#3050ff" opacity="0.5"/>
<rect x="500.8" y="380.8" width="0.8" height="0.8" fill="#3050ff" opacity="0.5"/>
<rect x="491.9" y="379.1" width="0.8" height="0.8" fill="#3050ff" opacity="0.5"/>
<rect x="498.2" y="376.2" width="0.8" height="0.8" fill="#3050ff" opacity="0.5"/>
<rect x="499.3" y="383.1" width="0.8" height="0.8" fill="#3050ff" opacity="0.5"/>
<rect x="508.6" y="379.8" width="0.8" height="0.8" fill="#3050ff" opacity="0.5"/>
<rect x="501.3" y="379.4" width="0.8" height="0.8" fill="#3050ff" opacity="0.5"/>
<rect x="513.2" y="382.8" width="0.8" height="0.8" fill="#3050ff" opacity="0.5"/>
<rect x="501.4" y="382.5" width="0.8" height="0.8" fill="#3050ff" opacity="0.5"/>
<rect x="500.6" y="381.8" width="0.8" height="0.8" fill="#3050ff" opacity="0.5"/>
<rect x="496.9" y="374.5" width="0.8" height="0.8" fill="#3050ff" opacity="0.5"/>
<rect x="503.4" y="373.6" width="0.8" height="0.8" fill="#3050ff" opacity="0.5"/>
<rect x="501.7" y="380.7" width="0.8" height="0.8" fill="#3050ff" opacity="0.5"/>
<rect x="500.2" y="374.0" width="0.8" height="0.8" fill="#3050ff" opacity="0.5"/>
<rect x="504.8" y="380.3" width="0.8" height="0.8" fill="#3050ff" opacity="0.5"/>
<rect x="506.4" y="375.9" width="0.8" height="0.8" fill="#3050ff" opacity="0.5"/>
<rect x="499.9" y="366.8" width="0.8" height="0.8" fill="#3050ff" opacity="0.5"/>
<rect x="498.6" y="383.1" width="0.8" height="0.8" fill="#3050ff" opacity="0.5"/>
<rect x="500.1" y="370.5" width="0.8" height="0.8" fill="#3050ff" opacity="0.5"/>
<rect x="501.2" y="369.8" width="0.8" height="0.8" fill="#3050ff" opacity="0.5"/>
<rect x="501.1" y="380.2" width="0.8" height="0.8" fill="#3050ff" opacity="0.5"/>
<rect x="501.8" y="374.0" width="0.8" height="0.8" fill="#3050ff" opacity="0.5"/>
<rect x="499.6" y="370.2" width="0.8" height="0.8" fill="#3050ff" opacity="0.5"/>
<rect x="497.6" y="376.8" width="0.8" height="0.8" fill="#3050ff" opacity="0.5"/>
<rect x="498.7" y="379.0" width="0.8" height="0.8" fill="#3050ff" opacity="0.5"/>
<rect x="500.2" y="384.7" width="0.8" height="0.8" fill="#3050ff" opacity="0.5"/>
<rect x="505.6" y="385.4" width="0.8" height="0.8" fill="#3050ff" opacity="0.5"/>
<rect x="500.1" y="381.7" width="0.8" height="0.8" fill="#3050ff" opacity="0.5"/>
<rect x="494.7" y="386.3" width="0.8" height="0.8" fill="#3050ff" opacity="0.5"/>
<rect x="497.7" y="362.9" width="0.8" height="0.8" fill="#3050ff" opacity="0.5"/>
<rect x="498.2" y="374.1" width="0.8" height="0.8" fill="#3050ff" opacity="0.5"/>
<rect x="512.4" y="376.8" width="0.8" height="0.8" fill="#3050ff" opacity="0.5"/>
<rect x="501.9" y="379.0" width="0.8" height="0.8" fill="#3050ff" opacity="0.5"/>
<rect x="502.2" y="374.4" width="0.8" height="0.8" fill="#3050ff" opacity="0.5"/>
<rect x="505.1" y="376.4" width="0.8" height="0.8" fill="#3050ff" opacity="0.5"/>
<rect x="502.9" y="377.5" width="0.8" height="0.8" fill="#3050ff" opacity="0.5"/>
<rect x="498.8" y="368.3" width="0.8" height="0.8" fill="#3050ff" opacity="0.5"/>
<rect x="499.9" y="365.9" width="0.8" height="0.8" fill="#3050ff" opacity="0.5"/>
<rect x="495.7" y="364.8" width="0.8" height="0.8" fill="#3050ff" opacity="0.5"/>
<rect x="499.2" y="381.0" width="0.8" height="0.8" fill="#3050ff" opacity="0.5"/>
<rect x="500.3" y="369.8" width="0.8" height="0.8" fill="#3050ff" opacity="0.5"/>
<rect x="501.7" y="378.5" width="0.8" height="0.8" fill="#3050ff" opacity="0.5"/>
<rect x="499.6" y="377.3" width="0.8" height="0.8" fill="#3050ff" opacity="0.5"/>
<rect x="499.8" y="375.8" width="0.8" height="0.8" fill="#3050ff" opacity="0.5"/>
<rect x="495.4" y="374.7" width="0.8" height="0.8" fill="#3050ff" opacity="0.5"/>
<rect x="500.8" y="382.8" width="0.8" height="0.8" fill="#3050ff" opacity="0.5"/>
<rect x="499.4" y="380.4" width="0.8" height="0.8" fill="#3050ff" opacity="0.5"/>
<rect x="503.4" y="379.1" width="0.8" height="0.8" fill="#3050ff" opacity="0.5"/>
<rect x="496.7" y="370.8" width="0.8" height="0.8" fill="#3050ff" opacity="0.5"/>
<rect x="499.4" y="382.1" width="0.8" height="0.8" fill="#3050ff" opacity="0.5"/>
<rect x="495.5" y="363.3" width="0.8" height="0.8" fill="#3050ff" opacity="0.5"/>
<rect x="494.4" y="384.5" width="0.8" height="0.8" fill="#3050ff" opacity="0.5"/>
<rect x="496.3" y="379.7" width="0.8" height="0.8" fill="#3050ff" opacity="0.5"/>
<rect x="500.2" y="373.7" width="0.8" height="0.8" fill="#3050ff" opacity="0.5"/>
<rect x="499.8" y="375.3" width="0.8" height="0.8" fill="#3050ff" opacity="0.5"/>
<rect x="498.6" y="381.1" width="0.8" height="0.8" fill="#3050ff" opacity="0.5"/>
<rect x="500.8" y="362.0" width="0.8" height="0.8" fill="#3050ff" opacity="0.5"/>
<rect x="510.4" y="373.8" width="0.8" height="0.8" fill="#3050ff" opacity="0.5"/>
<rect x="502.9" y="384.3" width="0.8" height="0.8" fill="#3050ff" opacity="0.5"/>
<rect x="504.7" y="375.9" width="0.8" height="0.8" fill="#3050ff" opacity="0.5"/>
<rect x="500.3" y="369.9" width="0.8" height="0.8" fill="#3050ff" opacity="0.5"/>
<rect x="502.5" y="379.0" width="0.8" height="0.8" fill="#3050ff" opacity="0.5"/>
<rect x="500.1" y="375.1" width="0.8" height="0.8" fill="#3050ff" opacity="0.5"/>
<rect x="499.2" y="377.9" width="0.8" height="0.8" fill="#3050ff" opacity="0.5"/>
<rect x="497.1" y="381.1" width="0.8" height="0.8" fill="#3050ff" opacity="0.5"/>
<rect x="497.7" y="371.5" width="0.8" height="0.8" fill="#3050ff" opacity="0.5"/>
<rect x="500.6" y="377.4" width="0.8" height="0.8" fill="#3050ff" opacity="0.5"/>
<rect x="498.9" y="371.6" width="0.8" height="0.8" fill="#3050ff" opacity="0.5"/>
<rect x="493.8" y="373.8" width="0.8" height="0.8" fill="#3050ff" opacity="0.5"/>
<rect x="504.1" y="383.3" width="0.8" height="0.8" fill="#3050ff" opacity="0.5"/>
<rect x="497.4" y="374.5" width="0.8" height="0.8" fill="#3050ff" opacity="0.5"/>
<rect x="505.1" y="382.7" width="0.8" height="0.8" fill="#3050ff" opacity="0.5"/>
<rect x="504.0" y="380.6" width="0.8" height="0.8" fill="#3050ff" opacity="0.5"/>
<rect x="499.8" y="377.9" width="0.8" height="0.8" fill="#3050ff" opacity="0.5"/>
<rect x="496.0" y="370.4" width="0.8" height="0.8" fill="#3050ff" opacity="0.5"/>
<rect x="499.4" y="380.0" width="0.8" height="0.8" fill="#3050ff" opacity="0.5"/>
<rect x="498.5" y="366.2" width="0.8" height="0.8" fill="#3050ff" opacity="0.5"/>
<rect x="504.0" y="373.5" width="0.8" height="0.8" fill="#3050ff" opacity="0.5"/>
<rect x="506.5" y="376.2" width="0.8" height="0.8" fill="#3050ff" opacity="0.5"/>
<rect x="498.4" y="374.8" width="0.8" height="0.8" fill="#3050ff" opacity="0.5"/>
<rect x="508.4" y="377.2" width="0.8" height="0.8" fill="#3050ff" opacity="0.5"/>
<rect x="500.1" y="377.4" width="0.8" height="0.8" fill="#3050ff" opacity="0.5"/>
<rect x="500.8" y="379.8" width="0.8" height="0.8" fill="#3050ff" opacity="0.5"/>
<rect x="498.2" y="373.2" width="0.8" height="0.8" fill="#3050ff" opacity="0.5"/>
<rect x="500.1" y="369.1" width="0.8" height="0.8" fill="#3050ff" opacity="0.5"/>
<rect x="499.5" y="371.6" width="0.8" height="0.8" fill="#3050ff" opacity="0.5"/>
<rect x="500.5" y="378.0" width="0.8" height="0.8" fill="#3050ff" opacity="0.5"/>
<rect x="501.6" y="379.2" width="0.8" height="0.8" fill="#3050ff" opacity="0.5"/>
<rect x="507.7" y="374.4" width="0.8" height="0.8" fill="#3050ff" opacity="0.5"/>
<rect x="497.6" y="363.3" width="0.8" height="0.8" fill="#3050ff" opacity="0.5"/>
<rect x="502.8" y="375.7" width="0.8" height="0.8" fill="#3050ff" opacity="0.5"/>
<rect x="498.4" y="378.5" width="0.8" height="0.8" fill="#3050ff" opacity="0.5"/>
<rect x="507.2" y="375.0" width="0.8" height="0.8" fill="#3050ff" opacity="0.5"/>
<rect x="499.4" y="377.9" width="0.8" height="0.8" fill="#3050ff" opacity="0.5"/>
<rect x="498.3" y="370.5" width="0.8" height="0.8" fill="#3050ff" opacity="0.5"/>
<rect x="502.1" y="375.8" width="0.8" height="0.8" fill="#3050ff" opacity="0.5"/>
<rect x="500.8" y="370.4" width="0.8" height="0.8" fill="#3050ff" opacity="0.5"/>
<rect x="505.0" y="380.8" width="0.8" height="0.8" fill="#3050ff" opacity="0.5"/>
<rect x="495.7" y="389.7" width="0.8" height="0.8" fill="#3050ff" opacity="0.5"/>
<rect x="500.8" y="360.3" width="0.8" height="0.8" fill="#3050ff" opacity="0.5"/>
<rect x="496.0" y="376.4" width="0.8" height="0.8" fill="#3050ff" opacity="0.5"/>
<rect x="503.8" y="373.8" width="0.8" height="0.8" fill="#3050ff" opacity="0.5"/>
<rect x="498.7" y="374.8" width="0.8" height="0.8" fill="#3050ff" opacity="0.5"/>
<rect x="500.7" y="379.2" width="0.8" height="0.8" fill="#3050ff" opacity="0.5"/>
<rect x="502.1" y="382.3" width="0.8" height="0.8" fill="#3050ff" opacity="0.5"/>
<rect x="496.6" y="375.4" width="0.8" height="0.8" fill="#3050ff" opacity="0.5"/>
<rect x="502.5" y="379.0" width="0.8" height="0.8" fill="#3050ff" opacity="0.5"/>
<rect x="504.5" y="383.3" width="0.8" height="0.8" fill="#3050ff" opacity="0.5"/>
<rect x="504.1" y="375.8" width="0.8" height="0.8" fill="#3050ff" opacity="0.5"/>
<rect x="500.0" y="378.8" width="0.8" height="0.8" fill="#3050ff" opacity="0.5"/>
<rect x="499.1" y="376.9" width="0.8" height="0.8" fill="#3050ff" opacity="0.5"/>
<rect x="499.8" y="381.1" width="0.8" height="0.8" fill="#3050ff" opacity="0.5"/>
<rect x="501.4" y="380.0" width="0.8" height="0.8" fill="#3050ff" opacity="0.5"/>
<rect x="501.2" y="380.2" width="0.8" height="0.8" fill="#3050ff" opacity="0.5"/>
<rect x="499.6" y="379.1" width="0.8" height="0.8" fill="#3050ff" opacity="0.5"/>
<rect x="506.2" y="381.8" width="0.8" height="0.8" fill="#3050ff" opacity="0.5"/>
<rect x="503.4" y="380.8" width="0.8" height="0.8" fill="#3050ff" opacity="0.5"/>
<rect x="502.5" y="378.3" width="0.8" height="0.8" fill="#3050ff" opacity="0.5"/>
<rect x="502.0" y="379.1" width="0.8" height="0.8" fill="#3050ff" opacity="0.5"/>
<rect x="497.9" y="377.6" width="0.8" height="0.8" fill="#3050ff" opacity="0.5"/>
<rect x="501.5" y="379.7" width="0.8" height="0.8" fill="#3050ff" opacity="0.5"/>
<rect x="495.1" y="377.4" width="0.8" height="0.8" fill="#3050ff" opacity="0.5"/>
<rect x="502.7" y="380.7" width="0.8" height="0.8" fill="#3050ff" opacity="0.5"/>
<rect x="506.2" y="383.2" width="0.8" height="0.8" fill="#3050ff" opacity="0.5"/>
<rect x="500.9" y="378.4" width="0.8" height="0.8" fill="#3050ff" opacity="0.5"/>
<rect x="498.7" y="380.6" width="0.8" height="0.8" fill="#3050ff" opacity="0.5"/>
<rect x="500.4" y="383.6" width="0.8" height="0.8" fill="#3050ff" opacity="0.5"/>
<rect x="499.9" y="383.7" width="0.8" height="0.8" fill="#3050ff" opacity="0.5"/>
<rect x="513.8" y="381.4" width="0.8" height="0.8" fill="#3050ff" opacity="0.5"/>
<rect x="492.1" y="383.8" width="0.8" height="0.8" fill="#3050ff" opacity="0.5"/>
<rect x="498.7" y="374.5" width="0.8" height="0.8" fill="#3050ff" opacity="0.5"/>
<rect x="500.1" y="377.4" width="0.8" height="0.8" fill="#3050ff" opacity="0.5"/>
<rect x="503.0" y="383.4" width="0.8" height="0.8" fill="#3050ff" opacity="0.5"/>
<rect x="500.6" y="387.6" width="0.8" height="0.8" fill="#3050ff" opacity="0.5"/>
<rect x="499.6" y="369.6" width="0.8" height="0.8" fill="#3050ff" opacity="0.5"/>
<rect x="501.0" y="379.6" width="0.8" height="0.8" fill="#3050ff" opacity="0.5"/>
<rect x="508.7" y="378.5" width="0.8" height="0.8" fill="#3050ff" opacity="0.5"/>
<rect x="499.5" y="364.5" width="0.8" height="0.8" fill="#3050ff" opacity="0.5"/>
<rect x="501.9" y="379.0" width="0.8" height="0.8" fill="#3050ff" opacity="0.5"/>
<rect x="500.4" y="377.3" width="0.8" height="0.8" fill="#3050ff" opacity="0.5"/>
<rect x="507.4" y="379.3" width="0.8" height="0.8" fill="#3050ff" opacity="0.5"/>
<rect x="501.9" y="361.3" width="0.8" height="0.8" fill="#3050ff" opacity="0.5"/>
<rect x="506.2" y="375.4" width="0.8" height="0.8" fill="#3050ff" opacity="0.5"/>
<rect x="517.8" y="363.5" width="0.7" height="0.7" fill="#6080ff" opacity="0.45"/>
<rect x="521.9" y="360.4" width="0.7" height="0.7" fill="#6080ff" opacity="0.45"/>
<rect x="526.6" y="356.9" width="0.7" height="0.7" fill="#6080ff" opacity="0.45"/>
<rect x="528.1" y="354.8" width="0.7" height="0.7" fill="#6080ff" opacity="0.45"/>
<rect x="510.7" y="364.6" width="0.7" height="0.7" fill="#6080ff" opacity="0.45"/>
<rect x="509.9" y="379.5" width="0.7" height="0.7" fill="#6080ff" opacity="0.45"/>
<rect x="512.3" y="364.6" width="0.7" height="0.7" fill="#6080ff" opacity="0.45"/>
<rect x="527.8" y="346.9" width="0.7" height="0.7" fill="#6080ff" opacity="0.45"/>
<rect x="525.4" y="358.8" width="0.7" height="0.7" fill="#6080ff" opacity="0.45"/>
<rect x="511.6" y="368.5" width="0.7" height="0.7" fill="#6080ff" opacity="0.45"/>
<rect x="511.3" y="370.9" width="0.7" height="0.7" fill="#6080ff" opacity="0.45"/>
<rect x="538.3" y="348.7" width="0.7" height="0.7" fill="#6080ff" opacity="0.45"/>
<rect x="517.3" y="362.1" width="0.7" height="0.7" fill="#6080ff" opacity="0.45"/>
<rect x="528.3" y="348.0" width="0.7" height="0.7" fill="#6080ff" opacity="0.45"/>
<rect x="516.4" y="360.3" width="0.7" height="0.7" fill="#6080ff" opacity="0.45"/>
<rect x="514.0" y="365.4" width="0.7" height="0.7" fill="#6080ff" opacity="0.45"/>
<rect x="534.1" y="352.8" width="0.7" height="0.7" fill="#6080ff" opacity="0.45"/>
<rect x="522.4" y="357.8" width="0.7" height="0.7" fill="#6080ff" opacity="0.45"/>
<rect x="517.8" y="362.4" width="0.7" height="0.7" fill="#6080ff" opacity="0.45"/>
<rect x="524.9" y="353.4" width="0.7" height="0.7" fill="#6080ff" opacity="0.45"/>
<rect x="526.4" y="352.6" width="0.7" height="0.7" fill="#6080ff" opacity="0.45"/>
<rect x="521.8" y="362.1" width="0.7" height="0.7" fill="#6080ff" opacity="0.45"/>
<rect x="523.3" y="361.0" width="0.7" height="0.7" fill="#6080ff" opacity="0.45"/>
<rect x="517.9" y="365.3" width="0.7" height="0.7" fill="#6080ff" opacity="0.45"/>
<rect x="539.0" y="347.2" width="0.7" height="0.7" fill="#6080ff" opacity="0.45"/>
<rect x="533.5" y="345.2" width="0.7" height="0.7" fill="#6080ff" opacity="0.45"/>
<rect x="543.1" y="341.3" width="0.7" height="0.7" fill="#6080ff" opacity="0.45"/>
<rect x="523.6" y="355.4" width="0.7" height="0.7" fill="#6080ff" opacity="0.45"/>
<rect x="540.7" y="342.9" width="0.7" height="0.7" fill="#6080ff" opacity="0.45"/>
<rect x="537.2" y="347.1" width="0.7" height="0.7" fill="#6080ff" opacity="0.45"/>
<rect x="529.3" y="355.3" width="0.7" height="0.7" fill="#6080ff" opacity="0.45"/>
<rect x="532.6" y="355.4" width="0.7" height="0.7" fill="#6080ff" opacity="0.45"/>
<rect x="514.4" y="365.4" width="0.7" height="0.7" fill="#6080ff" opacity="0.45"/>
<rect x="530.8" y="348.8" width="0.7" height="0.7" fill="#6080ff" opacity="0.45"/>
<rect x="510.8" y="372.0" width="0.7" height="0.7" fill="#6080ff" opacity="0.45"/>
<rect x="513.8" y="374.0" width="0.7" height="0.7" fill="#6080ff" opacity="0.45"/>
<rect x="537.9" y="351.2" width="0.7" height="0.7" fill="#6080ff" opacity="0.45"/>
<rect x="533.6" y="348.7" width="0.7" height="0.7" fill="#6080ff" opacity="0.45"/>
<rect x="514.4" y="364.1" width="0.7" height="0.7" fill="#6080ff" opacity="0.45"/>
<rect x="521.1" y="361.4" width="0.7" height="0.7" fill="#6080ff" opacity="0.45"/>
<rect x="511.1" y="365.5" width="0.7" height="0.7" fill="#6080ff" opacity="0.45"/>
<rect x="532.2" y="351.5" width="0.7" height="0.7" fill="#6080ff" opacity="0.45"/>
<rect x="534.4" y="349.5" width="0.7" height="0.7" fill="#6080ff" opacity="0.45"/>
<rect x="522.8" y="356.7" width="0.7" height="0.7" fill="#6080ff" opacity="0.45"/>
<rect x="511.6" y="375.5" width="0.7" height="0.7" fill="#6080ff" opacity="0.45"/>
<ellipse cx="503.90" cy="379.10" rx="9.00" ry="3.6" fill="url(#blu2)"/>
<ellipse cx="498.40" cy="376.30" rx="4.0" ry="13" fill="url(#blu)"/>
<ellipse cx="498.40" cy="378.80" rx="2.8" ry="5.5" fill="url(#core)"/>
<rect x="567.00" y="326.00" width="64.00" height="63.60" fill="none" stroke="#cfcfcf" stroke-width="0.6"/>
<line x1="567.00" y1="328.00" x2="567.00" y2="389.60" stroke="#8a8a8a" stroke-width="0.6"/>
<line x1="567.00" y1="389.60" x2="628.00" y2="389.60" stroke="#8a8a8a" stroke-width="0.6"/>
<line x1="565.00" y1="334.10" x2="567.00" y2="334.10" stroke="#888" stroke-width="0.5"/>
<text x="563.50" y="335.50" font-size="4.2" text-anchor="end" fill="#888">10⁶</text>
<line x1="565.00" y1="348.70" x2="567.00" y2="348.70" stroke="#888" stroke-width="0.5"/>
<text x="563.50" y="350.10" font-size="4.2" text-anchor="end" fill="#888">10⁵</text>
<line x1="565.00" y1="364.70" x2="567.00" y2="364.70" stroke="#888" stroke-width="0.5"/>
<text x="563.50" y="366.10" font-size="4.2" text-anchor="end" fill="#888">10⁴</text>
<line x1="565.00" y1="379.00" x2="567.00" y2="379.00" stroke="#888" stroke-width="0.5"/>
<text x="563.50" y="380.40" font-size="4.2" text-anchor="end" fill="#888">0</text>
<line x1="566.00" y1="330.00" x2="567.00" y2="330.00" stroke="#aaa" stroke-width="0.4"/>
<line x1="566.00" y1="334.30" x2="567.00" y2="334.30" stroke="#aaa" stroke-width="0.4"/>
<line x1="566.00" y1="338.60" x2="567.00" y2="338.60" stroke="#aaa" stroke-width="0.4"/>
<line x1="566.00" y1="342.90" x2="567.00" y2="342.90" stroke="#aaa" stroke-width="0.4"/>
<line x1="566.00" y1="347.20" x2="567.00" y2="347.20" stroke="#aaa" stroke-width="0.4"/>
<line x1="566.00" y1="351.50" x2="567.00" y2="351.50" stroke="#aaa" stroke-width="0.4"/>
<line x1="566.00" y1="355.80" x2="567.00" y2="355.80" stroke="#aaa" stroke-width="0.4"/>
<line x1="566.00" y1="360.10" x2="567.00" y2="360.10" stroke="#aaa" stroke-width="0.4"/>
<line x1="566.00" y1="364.40" x2="567.00" y2="364.40" stroke="#aaa" stroke-width="0.4"/>
<line x1="566.00" y1="368.70" x2="567.00" y2="368.70" stroke="#aaa" stroke-width="0.4"/>
<line x1="566.00" y1="373.00" x2="567.00" y2="373.00" stroke="#aaa" stroke-width="0.4"/>
<line x1="566.00" y1="377.30" x2="567.00" y2="377.30" stroke="#aaa" stroke-width="0.4"/>
<line x1="566.00" y1="381.60" x2="567.00" y2="381.60" stroke="#aaa" stroke-width="0.4"/>
<line x1="566.00" y1="385.90" x2="567.00" y2="385.90" stroke="#aaa" stroke-width="0.4"/>
<line x1="577.80" y1="389.60" x2="577.80" y2="391.60" stroke="#888" stroke-width="0.5"/>
<text x="577.80" y="396.10" font-size="4.2" text-anchor="middle" fill="#888">0</text>
<line x1="598.80" y1="389.60" x2="598.80" y2="391.60" stroke="#888" stroke-width="0.5"/>
<text x="598.80" y="396.10" font-size="4.2" text-anchor="middle" fill="#888">10⁵</text>
<line x1="611.60" y1="389.60" x2="611.60" y2="391.60" stroke="#888" stroke-width="0.5"/>
<text x="611.60" y="396.10" font-size="4.2" text-anchor="middle" fill="#888">10⁶</text>
<line x1="625.00" y1="389.60" x2="625.00" y2="391.60" stroke="#888" stroke-width="0.5"/>
<text x="625.00" y="396.10" font-size="4.2" text-anchor="middle" fill="#888">10⁷</text>
<line x1="570.00" y1="389.60" x2="570.00" y2="390.60" stroke="#aaa" stroke-width="0.4"/>
<line x1="574.20" y1="389.60" x2="574.20" y2="390.60" stroke="#aaa" stroke-width="0.4"/>
<line x1="578.40" y1="389.60" x2="578.40" y2="390.60" stroke="#aaa" stroke-width="0.4"/>
<line x1="582.60" y1="389.60" x2="582.60" y2="390.60" stroke="#aaa" stroke-width="0.4"/>
<line x1="586.80" y1="389.60" x2="586.80" y2="390.60" stroke="#aaa" stroke-width="0.4"/>
<line x1="591.00" y1="389.60" x2="591.00" y2="390.60" stroke="#aaa" stroke-width="0.4"/>
<line x1="595.20" y1="389.60" x2="595.20" y2="390.60" stroke="#aaa" stroke-width="0.4"/>
<line x1="599.40" y1="389.60" x2="599.40" y2="390.60" stroke="#aaa" stroke-width="0.4"/>
<line x1="603.60" y1="389.60" x2="603.60" y2="390.60" stroke="#aaa" stroke-width="0.4"/>
<line x1="607.80" y1="389.60" x2="607.80" y2="390.60" stroke="#aaa" stroke-width="0.4"/>
<line x1="612.00" y1="389.60" x2="612.00" y2="390.60" stroke="#aaa" stroke-width="0.4"/>
<line x1="616.20" y1="389.60" x2="616.20" y2="390.60" stroke="#aaa" stroke-width="0.4"/>
<line x1="620.40" y1="389.60" x2="620.40" y2="390.60" stroke="#aaa" stroke-width="0.4"/>
<line x1="624.60" y1="389.60" x2="624.60" y2="390.60" stroke="#aaa" stroke-width="0.4"/>
<line x1="566.20" y1="377.00" x2="566.20" y2="380.50" stroke="#222" stroke-width="1.1"/>
<line x1="574.50" y1="390.40" x2="580.50" y2="390.40" stroke="#222" stroke-width="0.9"/>
<ellipse cx="602.60" cy="356.60" rx="24.9" ry="8.8" fill="none" stroke="#3e48a8" stroke-width="0.85" transform="rotate(-42 602.60 356.60)"/>
<text x="608.90" y="334.70" font-size="6.5" text-anchor="middle" fill="#555">0.48</text>
<rect x="591.0" y="361.1" width="0.7" height="0.7" fill="#6a80ff" opacity="0.45"/>
<rect x="596.6" y="356.8" width="0.7" height="0.7" fill="#6a80ff" opacity="0.45"/>
<rect x="587.7" y="368.5" width="0.7" height="0.7" fill="#6a80ff" opacity="0.45"/>
<rect x="618.5" y="346.8" width="0.7" height="0.7" fill="#6a80ff" opacity="0.45"/>
<rect x="609.2" y="346.5" width="0.7" height="0.7" fill="#6a80ff" opacity="0.45"/>
<rect x="602.1" y="353.7" width="0.7" height="0.7" fill="#6a80ff" opacity="0.45"/>
<rect x="588.9" y="363.0" width="0.7" height="0.7" fill="#6a80ff" opacity="0.45"/>
<rect x="596.5" y="368.6" width="0.7" height="0.7" fill="#6a80ff" opacity="0.45"/>
<rect x="615.7" y="349.5" width="0.7" height="0.7" fill="#6a80ff" opacity="0.45"/>
<rect x="610.1" y="345.2" width="0.7" height="0.7" fill="#6a80ff" opacity="0.45"/>
<rect x="597.3" y="363.3" width="0.7" height="0.7" fill="#6a80ff" opacity="0.45"/>
<rect x="612.8" y="352.7" width="0.7" height="0.7" fill="#6a80ff" opacity="0.45"/>
<rect x="611.9" y="342.0" width="0.7" height="0.7" fill="#6a80ff" opacity="0.45"/>
<rect x="607.3" y="354.9" width="0.7" height="0.7" fill="#6a80ff" opacity="0.45"/>
<rect x="600.4" y="353.7" width="0.7" height="0.7" fill="#6a80ff" opacity="0.45"/>
<rect x="598.7" y="354.0" width="0.7" height="0.7" fill="#6a80ff" opacity="0.45"/>
<rect x="619.5" y="346.8" width="0.7" height="0.7" fill="#6a80ff" opacity="0.45"/>
<rect x="602.7" y="353.5" width="0.7" height="0.7" fill="#6a80ff" opacity="0.45"/>
<rect x="616.5" y="345.2" width="0.7" height="0.7" fill="#6a80ff" opacity="0.45"/>
<rect x="617.7" y="348.2" width="0.7" height="0.7" fill="#6a80ff" opacity="0.45"/>
<rect x="602.2" y="355.6" width="0.7" height="0.7" fill="#6a80ff" opacity="0.45"/>
<rect x="605.3" y="353.1" width="0.7" height="0.7" fill="#6a80ff" opacity="0.45"/>
<rect x="590.1" y="364.9" width="0.7" height="0.7" fill="#6a80ff" opacity="0.45"/>
<rect x="609.4" y="343.6" width="0.7" height="0.7" fill="#6a80ff" opacity="0.45"/>
<rect x="588.7" y="371.0" width="0.7" height="0.7" fill="#6a80ff" opacity="0.45"/>
<rect x="595.7" y="363.4" width="0.7" height="0.7" fill="#6a80ff" opacity="0.45"/>
<rect x="600.5" y="356.1" width="0.7" height="0.7" fill="#6a80ff" opacity="0.45"/>
<rect x="616.6" y="339.4" width="0.7" height="0.7" fill="#6a80ff" opacity="0.45"/>
<rect x="597.5" y="356.7" width="0.7" height="0.7" fill="#6a80ff" opacity="0.45"/>
<rect x="605.3" y="350.8" width="0.7" height="0.7" fill="#6a80ff" opacity="0.45"/>
<rect x="576.9" y="375.7" width="0.8" height="0.8" fill="#3050ff" opacity="0.5"/>
<rect x="577.5" y="377.5" width="0.8" height="0.8" fill="#3050ff" opacity="0.5"/>
<rect x="577.3" y="372.3" width="0.8" height="0.8" fill="#3050ff" opacity="0.5"/>
<rect x="579.7" y="382.3" width="0.8" height="0.8" fill="#3050ff" opacity="0.5"/>
<rect x="581.0" y="371.8" width="0.8" height="0.8" fill="#3050ff" opacity="0.5"/>
<rect x="576.1" y="363.7" width="0.8" height="0.8" fill="#3050ff" opacity="0.5"/>
<rect x="580.6" y="387.6" width="0.8" height="0.8" fill="#3050ff" opacity="0.5"/>
<rect x="573.2" y="363.3" width="0.8" height="0.8" fill="#3050ff" opacity="0.5"/>
<rect x="584.4" y="380.2" width="0.8" height="0.8" fill="#3050ff" opacity="0.5"/>
<rect x="582.9" y="372.2" width="0.8" height="0.8" fill="#3050ff" opacity="0.5"/>
<rect x="587.2" y="379.9" width="0.8" height="0.8" fill="#3050ff" opacity="0.5"/>
<rect x="576.9" y="379.5" width="0.8" height="0.8" fill="#3050ff" opacity="0.5"/>
<rect x="582.4" y="386.9" width="0.8" height="0.8" fill="#3050ff" opacity="0.5"/>
<rect x="586.5" y="379.1" width="0.8" height="0.8" fill="#3050ff" opacity="0.5"/>
<rect x="578.8" y="381.4" width="0.8" height="0.8" fill="#3050ff" opacity="0.5"/>
<rect x="584.7" y="382.7" width="0.8" height="0.8" fill="#3050ff" opacity="0.5"/>
<rect x="578.6" y="380.6" width="0.8" height="0.8" fill="#3050ff" opacity="0.5"/>
<rect x="576.8" y="375.2" width="0.8" height="0.8" fill="#3050ff" opacity="0.5"/>
<rect x="574.6" y="379.4" width="0.8" height="0.8" fill="#3050ff" opacity="0.5"/>
<rect x="582.9" y="379.6" width="0.8" height="0.8" fill="#3050ff" opacity="0.5"/>
<rect x="585.5" y="374.6" width="0.8" height="0.8" fill="#3050ff" opacity="0.5"/>
<rect x="581.3" y="379.3" width="0.8" height="0.8" fill="#3050ff" opacity="0.5"/>
<rect x="577.9" y="381.3" width="0.8" height="0.8" fill="#3050ff" opacity="0.5"/>
<rect x="577.4" y="380.3" width="0.8" height="0.8" fill="#3050ff" opacity="0.5"/>
<rect x="568.4" y="371.5" width="0.8" height="0.8" fill="#3050ff" opacity="0.5"/>
<rect x="583.9" y="375.8" width="0.8" height="0.8" fill="#3050ff" opacity="0.5"/>
<rect x="576.7" y="368.3" width="0.8" height="0.8" fill="#3050ff" opacity="0.5"/>
<rect x="577.9" y="389.8" width="0.8" height="0.8" fill="#3050ff" opacity="0.5"/>
<rect x="584.8" y="375.3" width="0.8" height="0.8" fill="#3050ff" opacity="0.5"/>
<rect x="574.1" y="371.7" width="0.8" height="0.8" fill="#3050ff" opacity="0.5"/>
<rect x="576.2" y="376.0" width="0.8" height="0.8" fill="#3050ff" opacity="0.5"/>
<rect x="583.8" y="387.6" width="0.8" height="0.8" fill="#3050ff" opacity="0.5"/>
<rect x="576.0" y="359.4" width="0.8" height="0.8" fill="#3050ff" opacity="0.5"/>
<rect x="585.5" y="377.8" width="0.8" height="0.8" fill="#3050ff" opacity="0.5"/>
<rect x="581.0" y="383.1" width="0.8" height="0.8" fill="#3050ff" opacity="0.5"/>
<rect x="576.7" y="355.9" width="0.8" height="0.8" fill="#3050ff" opacity="0.5"/>
<rect x="577.0" y="391.0" width="0.8" height="0.8" fill="#3050ff" opacity="0.5"/>
<rect x="577.8" y="381.0" width="0.8" height="0.8" fill="#3050ff" opacity="0.5"/>
<rect x="571.9" y="367.1" width="0.8" height="0.8" fill="#3050ff" opacity="0.5"/>
<rect x="580.7" y="377.3" width="0.8" height="0.8" fill="#3050ff" opacity="0.5"/>
<rect x="574.4" y="379.8" width="0.8" height="0.8" fill="#3050ff" opacity="0.5"/>
<rect x="574.8" y="376.3" width="0.8" height="0.8" fill="#3050ff" opacity="0.5"/>
<rect x="573.2" y="376.5" width="0.8" height="0.8" fill="#3050ff" opacity="0.5"/>
<rect x="578.9" y="379.3" width="0.8" height="0.8" fill="#3050ff" opacity="0.5"/>
<rect x="584.1" y="382.2" width="0.8" height="0.8" fill="#3050ff" opacity="0.5"/>
<rect x="586.4" y="375.5" width="0.8" height="0.8" fill="#3050ff" opacity="0.5"/>
<rect x="576.3" y="377.4" width="0.8" height="0.8" fill="#3050ff" opacity="0.5"/>
<rect x="579.4" y="378.5" width="0.8" height="0.8" fill="#3050ff" opacity="0.5"/>
<rect x="585.9" y="373.8" width="0.8" height="0.8" fill="#3050ff" opacity="0.5"/>
<rect x="573.5" y="371.0" width="0.8" height="0.8" fill="#3050ff" opacity="0.5"/>
<rect x="575.7" y="380.5" width="0.8" height="0.8" fill="#3050ff" opacity="0.5"/>
<rect x="579.2" y="369.3" width="0.8" height="0.8" fill="#3050ff" opacity="0.5"/>
<rect x="581.8" y="380.3" width="0.8" height="0.8" fill="#3050ff" opacity="0.5"/>
<rect x="579.5" y="375.6" width="0.8" height="0.8" fill="#3050ff" opacity="0.5"/>
<rect x="576.9" y="364.0" width="0.8" height="0.8" fill="#3050ff" opacity="0.5"/>
<rect x="579.7" y="382.9" width="0.8" height="0.8" fill="#3050ff" opacity="0.5"/>
<rect x="578.3" y="374.9" width="0.8" height="0.8" fill="#3050ff" opacity="0.5"/>
<rect x="577.1" y="385.6" width="0.8" height="0.8" fill="#3050ff" opacity="0.5"/>
<rect x="578.6" y="368.6" width="0.8" height="0.8" fill="#3050ff" opacity="0.5"/>
<rect x="575.7" y="364.8" width="0.8" height="0.8" fill="#3050ff" opacity="0.5"/>
<rect x="589.0" y="381.3" width="0.8" height="0.8" fill="#3050ff" opacity="0.5"/>
<rect x="575.4" y="380.7" width="0.8" height="0.8" fill="#3050ff" opacity="0.5"/>
<rect x="584.8" y="382.6" width="0.8" height="0.8" fill="#3050ff" opacity="0.5"/>
<rect x="584.8" y="377.8" width="0.8" height="0.8" fill="#3050ff" opacity="0.5"/>
<rect x="579.5" y="382.7" width="0.8" height="0.8" fill="#3050ff" opacity="0.5"/>
<rect x="585.4" y="381.6" width="0.8" height="0.8" fill="#3050ff" opacity="0.5"/>
<rect x="575.8" y="372.8" width="0.8" height="0.8" fill="#3050ff" opacity="0.5"/>
<rect x="588.3" y="383.5" width="0.8" height="0.8" fill="#3050ff" opacity="0.5"/>
<rect x="579.8" y="376.2" width="0.8" height="0.8" fill="#3050ff" opacity="0.5"/>
<rect x="578.0" y="378.9" width="0.8" height="0.8" fill="#3050ff" opacity="0.5"/>
<rect x="579.4" y="369.3" width="0.8" height="0.8" fill="#3050ff" opacity="0.5"/>
<rect x="578.5" y="377.8" width="0.8" height="0.8" fill="#3050ff" opacity="0.5"/>
<rect x="574.5" y="381.5" width="0.8" height="0.8" fill="#3050ff" opacity="0.5"/>
<rect x="574.9" y="385.3" width="0.8" height="0.8" fill="#3050ff" opacity="0.5"/>
<rect x="578.6" y="375.6" width="0.8" height="0.8" fill="#3050ff" opacity="0.5"/>
<rect x="574.6" y="391.8" width="0.8" height="0.8" fill="#3050ff" opacity="0.5"/>
<rect x="587.2" y="374.5" width="0.8" height="0.8" fill="#3050ff" opacity="0.5"/>
<rect x="576.3" y="370.8" width="0.8" height="0.8" fill="#3050ff" opacity="0.5"/>
<rect x="580.5" y="383.7" width="0.8" height="0.8" fill="#3050ff" opacity="0.5"/>
<rect x="580.4" y="380.0" width="0.8" height="0.8" fill="#3050ff" opacity="0.5"/>
<rect x="581.3" y="381.0" width="0.8" height="0.8" fill="#3050ff" opacity="0.5"/>
<rect x="576.9" y="371.4" width="0.8" height="0.8" fill="#3050ff" opacity="0.5"/>
<rect x="584.8" y="377.3" width="0.8" height="0.8" fill="#3050ff" opacity="0.5"/>
<rect x="591.5" y="382.7" width="0.8" height="0.8" fill="#3050ff" opacity="0.5"/>
<rect x="580.4" y="374.9" width="0.8" height="0.8" fill="#3050ff" opacity="0.5"/>
<rect x="580.7" y="380.3" width="0.8" height="0.8" fill="#3050ff" opacity="0.5"/>
<rect x="588.2" y="375.6" width="0.8" height="0.8" fill="#3050ff" opacity="0.5"/>
<rect x="577.6" y="371.4" width="0.8" height="0.8" fill="#3050ff" opacity="0.5"/>
<rect x="590.7" y="380.1" width="0.8" height="0.8" fill="#3050ff" opacity="0.5"/>
<rect x="574.2" y="370.9" width="0.8" height="0.8" fill="#3050ff" opacity="0.5"/>
<rect x="577.2" y="376.7" width="0.8" height="0.8" fill="#3050ff" opacity="0.5"/>
<rect x="577.8" y="389.0" width="0.8" height="0.8" fill="#3050ff" opacity="0.5"/>
<rect x="583.9" y="383.0" width="0.8" height="0.8" fill="#3050ff" opacity="0.5"/>
<rect x="575.0" y="360.9" width="0.8" height="0.8" fill="#3050ff" opacity="0.5"/>
<rect x="576.1" y="371.3" width="0.8" height="0.8" fill="#3050ff" opacity="0.5"/>
<rect x="576.4" y="365.1" width="0.8" height="0.8" fill="#3050ff" opacity="0.5"/>
<rect x="576.8" y="376.6" width="0.8" height="0.8" fill="#3050ff" opacity="0.5"/>
<rect x="577.0" y="380.7" width="0.8" height="0.8" fill="#3050ff" opacity="0.5"/>
<rect x="580.1" y="375.9" width="0.8" height="0.8" fill="#3050ff" opacity="0.5"/>
<rect x="587.7" y="376.0" width="0.8" height="0.8" fill="#3050ff" opacity="0.5"/>
<rect x="580.9" y="379.3" width="0.8" height="0.8" fill="#3050ff" opacity="0.5"/>
<rect x="576.4" y="380.8" width="0.8" height="0.8" fill="#3050ff" opacity="0.5"/>
<rect x="578.2" y="380.7" width="0.8" height="0.8" fill="#3050ff" opacity="0.5"/>
<rect x="575.6" y="363.5" width="0.8" height="0.8" fill="#3050ff" opacity="0.5"/>
<rect x="586.0" y="368.3" width="0.8" height="0.8" fill="#3050ff" opacity="0.5"/>
<rect x="580.5" y="364.8" width="0.8" height="0.8" fill="#3050ff" opacity="0.5"/>
<rect x="580.8" y="376.4" width="0.8" height="0.8" fill="#3050ff" opacity="0.5"/>
<rect x="576.4" y="370.6" width="0.8" height="0.8" fill="#3050ff" opacity="0.5"/>
<rect x="578.7" y="373.4" width="0.8" height="0.8" fill="#3050ff" opacity="0.5"/>
<rect x="578.8" y="382.0" width="0.8" height="0.8" fill="#3050ff" opacity="0.5"/>
<rect x="583.7" y="382.7" width="0.8" height="0.8" fill="#3050ff" opacity="0.5"/>
<rect x="581.9" y="382.5" width="0.8" height="0.8" fill="#3050ff" opacity="0.5"/>
<rect x="571.3" y="385.3" width="0.8" height="0.8" fill="#3050ff" opacity="0.5"/>
<rect x="575.0" y="367.6" width="0.8" height="0.8" fill="#3050ff" opacity="0.5"/>
<rect x="576.1" y="380.8" width="0.8" height="0.8" fill="#3050ff" opacity="0.5"/>
<rect x="574.5" y="377.4" width="0.8" height="0.8" fill="#3050ff" opacity="0.5"/>
<rect x="579.4" y="384.3" width="0.8" height="0.8" fill="#3050ff" opacity="0.5"/>
<rect x="579.1" y="377.8" width="0.8" height="0.8" fill="#3050ff" opacity="0.5"/>
<rect x="575.4" y="382.1" width="0.8" height="0.8" fill="#3050ff" opacity="0.5"/>
<rect x="583.1" y="381.5" width="0.8" height="0.8" fill="#3050ff" opacity="0.5"/>
<rect x="574.7" y="363.0" width="0.8" height="0.8" fill="#3050ff" opacity="0.5"/>
<rect x="580.1" y="379.1" width="0.8" height="0.8" fill="#3050ff" opacity="0.5"/>
<rect x="584.5" y="375.1" width="0.8" height="0.8" fill="#3050ff" opacity="0.5"/>
<rect x="575.9" y="384.5" width="0.8" height="0.8" fill="#3050ff" opacity="0.5"/>
<rect x="578.6" y="379.9" width="0.8" height="0.8" fill="#3050ff" opacity="0.5"/>
<rect x="576.0" y="376.0" width="0.8" height="0.8" fill="#3050ff" opacity="0.5"/>
<rect x="579.4" y="373.7" width="0.8" height="0.8" fill="#3050ff" opacity="0.5"/>
<rect x="589.3" y="379.6" width="0.8" height="0.8" fill="#3050ff" opacity="0.5"/>
<rect x="576.0" y="388.7" width="0.8" height="0.8" fill="#3050ff" opacity="0.5"/>
<rect x="584.8" y="374.0" width="0.8" height="0.8" fill="#3050ff" opacity="0.5"/>
<rect x="580.2" y="377.0" width="0.8" height="0.8" fill="#3050ff" opacity="0.5"/>
<rect x="578.2" y="376.3" width="0.8" height="0.8" fill="#3050ff" opacity="0.5"/>
<rect x="589.7" y="378.9" width="0.8" height="0.8" fill="#3050ff" opacity="0.5"/>
<rect x="575.5" y="380.1" width="0.8" height="0.8" fill="#3050ff" opacity="0.5"/>
<rect x="579.1" y="383.5" width="0.8" height="0.8" fill="#3050ff" opacity="0.5"/>
<rect x="575.0" y="375.8" width="0.8" height="0.8" fill="#3050ff" opacity="0.5"/>
<rect x="576.8" y="368.6" width="0.8" height="0.8" fill="#3050ff" opacity="0.5"/>
<rect x="581.8" y="379.0" width="0.8" height="0.8" fill="#3050ff" opacity="0.5"/>
<rect x="588.3" y="381.7" width="0.8" height="0.8" fill="#3050ff" opacity="0.5"/>
<rect x="576.5" y="363.5" width="0.8" height="0.8" fill="#3050ff" opacity="0.5"/>
<rect x="579.0" y="377.0" width="0.8" height="0.8" fill="#3050ff" opacity="0.5"/>
<rect x="579.8" y="376.5" width="0.8" height="0.8" fill="#3050ff" opacity="0.5"/>
<rect x="580.5" y="377.4" width="0.8" height="0.8" fill="#3050ff" opacity="0.5"/>
<rect x="579.2" y="374.3" width="0.8" height="0.8" fill="#3050ff" opacity="0.5"/>
<rect x="575.0" y="380.8" width="0.8" height="0.8" fill="#3050ff" opacity="0.5"/>
<rect x="578.6" y="387.5" width="0.8" height="0.8" fill="#3050ff" opacity="0.5"/>
<rect x="575.4" y="390.9" width="0.8" height="0.8" fill="#3050ff" opacity="0.5"/>
<rect x="578.2" y="366.0" width="0.8" height="0.8" fill="#3050ff" opacity="0.5"/>
<rect x="577.8" y="380.6" width="0.8" height="0.8" fill="#3050ff" opacity="0.5"/>
<rect x="584.0" y="377.6" width="0.8" height="0.8" fill="#3050ff" opacity="0.5"/>
<rect x="577.3" y="372.1" width="0.8" height="0.8" fill="#3050ff" opacity="0.5"/>
<rect x="577.8" y="377.7" width="0.8" height="0.8" fill="#3050ff" opacity="0.5"/>
<rect x="578.1" y="376.7" width="0.8" height="0.8" fill="#3050ff" opacity="0.5"/>
<rect x="583.0" y="382.9" width="0.8" height="0.8" fill="#3050ff" opacity="0.5"/>
<rect x="577.8" y="384.0" width="0.8" height="0.8" fill="#3050ff" opacity="0.5"/>
<rect x="577.0" y="380.2" width="0.8" height="0.8" fill="#3050ff" opacity="0.5"/>
<rect x="581.2" y="373.8" width="0.8" height="0.8" fill="#3050ff" opacity="0.5"/>
<rect x="575.9" y="378.8" width="0.8" height="0.8" fill="#3050ff" opacity="0.5"/>
<rect x="578.0" y="375.4" width="0.8" height="0.8" fill="#3050ff" opacity="0.5"/>
<rect x="581.6" y="381.6" width="0.8" height="0.8" fill="#3050ff" opacity="0.5"/>
<rect x="579.9" y="379.4" width="0.8" height="0.8" fill="#3050ff" opacity="0.5"/>
<rect x="578.8" y="373.2" width="0.8" height="0.8" fill="#3050ff" opacity="0.5"/>
<rect x="580.6" y="380.7" width="0.8" height="0.8" fill="#3050ff" opacity="0.5"/>
<rect x="578.4" y="374.2" width="0.8" height="0.8" fill="#3050ff" opacity="0.5"/>
<rect x="578.0" y="375.2" width="0.8" height="0.8" fill="#3050ff" opacity="0.5"/>
<rect x="575.2" y="378.0" width="0.8" height="0.8" fill="#3050ff" opacity="0.5"/>
<rect x="577.8" y="377.0" width="0.8" height="0.8" fill="#3050ff" opacity="0.5"/>
<rect x="578.8" y="381.4" width="0.8" height="0.8" fill="#3050ff" opacity="0.5"/>
<rect x="580.1" y="383.4" width="0.8" height="0.8" fill="#3050ff" opacity="0.5"/>
<rect x="581.9" y="383.1" width="0.8" height="0.8" fill="#3050ff" opacity="0.5"/>
<rect x="580.9" y="372.7" width="0.8" height="0.8" fill="#3050ff" opacity="0.5"/>
<rect x="578.4" y="369.1" width="0.8" height="0.8" fill="#3050ff" opacity="0.5"/>
<rect x="577.9" y="385.2" width="0.8" height="0.8" fill="#3050ff" opacity="0.5"/>
<rect x="582.8" y="375.6" width="0.8" height="0.8" fill="#3050ff" opacity="0.5"/>
<rect x="579.7" y="386.2" width="0.8" height="0.8" fill="#3050ff" opacity="0.5"/>
<rect x="580.0" y="373.5" width="0.8" height="0.8" fill="#3050ff" opacity="0.5"/>
<rect x="575.9" y="380.6" width="0.8" height="0.8" fill="#3050ff" opacity="0.5"/>
<rect x="574.4" y="379.2" width="0.8" height="0.8" fill="#3050ff" opacity="0.5"/>
<rect x="579.5" y="377.0" width="0.8" height="0.8" fill="#3050ff" opacity="0.5"/>
<rect x="578.7" y="384.1" width="0.8" height="0.8" fill="#3050ff" opacity="0.5"/>
<rect x="578.7" y="375.6" width="0.8" height="0.8" fill="#3050ff" opacity="0.5"/>
<rect x="584.2" y="378.9" width="0.8" height="0.8" fill="#3050ff" opacity="0.5"/>
<rect x="577.5" y="376.9" width="0.8" height="0.8" fill="#3050ff" opacity="0.5"/>
<rect x="582.3" y="380.6" width="0.8" height="0.8" fill="#3050ff" opacity="0.5"/>
<rect x="575.6" y="390.1" width="0.8" height="0.8" fill="#3050ff" opacity="0.5"/>
<rect x="577.6" y="375.1" width="0.8" height="0.8" fill="#3050ff" opacity="0.5"/>
<rect x="586.4" y="368.7" width="0.8" height="0.8" fill="#3050ff" opacity="0.5"/>
<rect x="581.8" y="378.9" width="0.8" height="0.8" fill="#3050ff" opacity="0.5"/>
<rect x="576.1" y="374.9" width="0.8" height="0.8" fill="#3050ff" opacity="0.5"/>
<rect x="574.7" y="366.0" width="0.8" height="0.8" fill="#3050ff" opacity="0.5"/>
<rect x="578.6" y="375.2" width="0.8" height="0.8" fill="#3050ff" opacity="0.5"/>
<rect x="577.4" y="376.3" width="0.8" height="0.8" fill="#3050ff" opacity="0.5"/>
<rect x="579.4" y="377.9" width="0.8" height="0.8" fill="#3050ff" opacity="0.5"/>
<rect x="580.9" y="370.0" width="0.8" height="0.8" fill="#3050ff" opacity="0.5"/>
<rect x="579.4" y="372.0" width="0.8" height="0.8" fill="#3050ff" opacity="0.5"/>
<rect x="577.2" y="374.5" width="0.8" height="0.8" fill="#3050ff" opacity="0.5"/>
<rect x="576.8" y="365.9" width="0.8" height="0.8" fill="#3050ff" opacity="0.5"/>
<rect x="578.6" y="365.4" width="0.8" height="0.8" fill="#3050ff" opacity="0.5"/>
<rect x="578.4" y="353.9" width="0.8" height="0.8" fill="#3050ff" opacity="0.5"/>
<rect x="572.4" y="373.6" width="0.8" height="0.8" fill="#3050ff" opacity="0.5"/>
<rect x="596.9" y="362.5" width="0.7" height="0.7" fill="#6080ff" opacity="0.45"/>
<rect x="598.8" y="364.0" width="0.7" height="0.7" fill="#6080ff" opacity="0.45"/>
<rect x="599.1" y="360.8" width="0.7" height="0.7" fill="#6080ff" opacity="0.45"/>
<rect x="599.7" y="366.7" width="0.7" height="0.7" fill="#6080ff" opacity="0.45"/>
<rect x="592.8" y="363.7" width="0.7" height="0.7" fill="#6080ff" opacity="0.45"/>
<rect x="588.3" y="370.1" width="0.7" height="0.7" fill="#6080ff" opacity="0.45"/>
<rect x="587.1" y="372.0" width="0.7" height="0.7" fill="#6080ff" opacity="0.45"/>
<rect x="606.5" y="351.7" width="0.7" height="0.7" fill="#6080ff" opacity="0.45"/>
<rect x="593.6" y="368.1" width="0.7" height="0.7" fill="#6080ff" opacity="0.45"/>
<rect x="593.6" y="360.7" width="0.7" height="0.7" fill="#6080ff" opacity="0.45"/>
<rect x="597.5" y="368.4" width="0.7" height="0.7" fill="#6080ff" opacity="0.45"/>
<rect x="592.7" y="369.6" width="0.7" height="0.7" fill="#6080ff" opacity="0.45"/>
<rect x="616.9" y="339.7" width="0.7" height="0.7" fill="#6080ff" opacity="0.45"/>
<rect x="605.7" y="359.1" width="0.7" height="0.7" fill="#6080ff" opacity="0.45"/>
<rect x="597.1" y="362.2" width="0.7" height="0.7" fill="#6080ff" opacity="0.45"/>
<rect x="597.8" y="362.0" width="0.7" height="0.7" fill="#6080ff" opacity="0.45"/>
<rect x="597.8" y="361.2" width="0.7" height="0.7" fill="#6080ff" opacity="0.45"/>
<rect x="607.7" y="350.5" width="0.7" height="0.7" fill="#6080ff" opacity="0.45"/>
<rect x="599.4" y="361.3" width="0.7" height="0.7" fill="#6080ff" opacity="0.45"/>
<rect x="596.3" y="366.3" width="0.7" height="0.7" fill="#6080ff" opacity="0.45"/>
<rect x="611.5" y="351.7" width="0.7" height="0.7" fill="#6080ff" opacity="0.45"/>
<rect x="590.3" y="360.1" width="0.7" height="0.7" fill="#6080ff" opacity="0.45"/>
<rect x="593.4" y="362.1" width="0.7" height="0.7" fill="#6080ff" opacity="0.45"/>
<rect x="613.9" y="352.4" width="0.7" height="0.7" fill="#6080ff" opacity="0.45"/>
<rect x="606.2" y="348.0" width="0.7" height="0.7" fill="#6080ff" opacity="0.45"/>
<rect x="605.4" y="354.8" width="0.7" height="0.7" fill="#6080ff" opacity="0.45"/>
<rect x="602.9" y="356.8" width="0.7" height="0.7" fill="#6080ff" opacity="0.45"/>
<rect x="595.9" y="368.6" width="0.7" height="0.7" fill="#6080ff" opacity="0.45"/>
<rect x="607.2" y="353.3" width="0.7" height="0.7" fill="#6080ff" opacity="0.45"/>
<rect x="590.6" y="360.7" width="0.7" height="0.7" fill="#6080ff" opacity="0.45"/>
<rect x="598.5" y="359.3" width="0.7" height="0.7" fill="#6080ff" opacity="0.45"/>
<rect x="613.8" y="352.6" width="0.7" height="0.7" fill="#6080ff" opacity="0.45"/>
<rect x="591.6" y="370.1" width="0.7" height="0.7" fill="#6080ff" opacity="0.45"/>
<rect x="596.3" y="358.7" width="0.7" height="0.7" fill="#6080ff" opacity="0.45"/>
<rect x="588.8" y="366.5" width="0.7" height="0.7" fill="#6080ff" opacity="0.45"/>
<rect x="610.3" y="347.9" width="0.7" height="0.7" fill="#6080ff" opacity="0.45"/>
<rect x="614.5" y="345.5" width="0.7" height="0.7" fill="#6080ff" opacity="0.45"/>
<rect x="610.8" y="349.3" width="0.7" height="0.7" fill="#6080ff" opacity="0.45"/>
<rect x="595.3" y="357.2" width="0.7" height="0.7" fill="#6080ff" opacity="0.45"/>
<rect x="610.3" y="354.0" width="0.7" height="0.7" fill="#6080ff" opacity="0.45"/>
<rect x="604.2" y="353.2" width="0.7" height="0.7" fill="#6080ff" opacity="0.45"/>
<rect x="596.8" y="365.6" width="0.7" height="0.7" fill="#6080ff" opacity="0.45"/>
<rect x="586.0" y="377.3" width="0.7" height="0.7" fill="#6080ff" opacity="0.45"/>
<rect x="594.5" y="368.8" width="0.7" height="0.7" fill="#6080ff" opacity="0.45"/>
<rect x="611.7" y="353.5" width="0.7" height="0.7" fill="#6080ff" opacity="0.45"/>
<ellipse cx="583.95" cy="379.10" rx="11.70" ry="3.6" fill="url(#blu2)"/>
<ellipse cx="576.80" cy="376.30" rx="4.0" ry="13" fill="url(#blu)"/>
<ellipse cx="576.80" cy="378.80" rx="2.8" ry="5.5" fill="url(#core)"/>
<text x="457.00" y="419.90" font-size="13.5" text-anchor="start" fill="#000" font-weight="bold">j</text>
<text x="513.30" y="423.60" font-size="7.7" text-anchor="end" fill="#000">CR</text>
<rect x="515.80" y="417.50" width="10.00" height="6.80" fill="#d3d3d5" stroke="#333" stroke-width="0.6"/>
<text x="565.50" y="423.60" font-size="7.7" text-anchor="end" fill="#000">niPASC</text>
<rect x="567.80" y="417.50" width="10.40" height="6.80" fill="#2b2f8f" stroke="#333" stroke-width="0.6"/>
<text x="617.20" y="423.60" font-size="7.7" text-anchor="end" fill="#000">inflPASC</text>
<rect x="619.50" y="417.50" width="10.00" height="6.80" fill="#d42e2e" stroke="#333" stroke-width="0.6"/>
<line x1="577.00" y1="435.50" x2="651.00" y2="435.50" stroke="#444" stroke-width="0.9"/>
<polygon points="614.00,430.05 614.57,431.42 616.04,431.54 614.92,432.50 615.26,433.94 614.00,433.17 612.74,433.94 613.08,432.50 611.96,431.54 613.43,431.42" fill="#222"/>
<line x1="488.30" y1="426.30" x2="488.30" y2="494.40" stroke="#333" stroke-width="0.9"/>
<line x1="484.10" y1="494.40" x2="488.30" y2="494.40" stroke="#333" stroke-width="0.7"/>
<text x="480.90" y="497.40" font-size="7.5" text-anchor="end" fill="#444">0.01</text>
<line x1="484.10" y1="460.55" x2="488.30" y2="460.55" stroke="#333" stroke-width="0.7"/>
<text x="480.90" y="463.55" font-size="7.5" text-anchor="end" fill="#444">0.1</text>
<line x1="484.10" y1="426.70" x2="488.30" y2="426.70" stroke="#333" stroke-width="0.7"/>
<text x="480.90" y="429.70" font-size="7.5" text-anchor="end" fill="#444">1</text>
<line x1="486.50" y1="484.21" x2="488.30" y2="484.21" stroke="#333" stroke-width="0.6"/>
<line x1="486.50" y1="478.25" x2="488.30" y2="478.25" stroke="#333" stroke-width="0.6"/>
<line x1="486.50" y1="474.02" x2="488.30" y2="474.02" stroke="#333" stroke-width="0.6"/>
<line x1="486.50" y1="470.74" x2="488.30" y2="470.74" stroke="#333" stroke-width="0.6"/>
<line x1="486.50" y1="468.06" x2="488.30" y2="468.06" stroke="#333" stroke-width="0.6"/>
<line x1="486.50" y1="465.79" x2="488.30" y2="465.79" stroke="#333" stroke-width="0.6"/>
<line x1="486.50" y1="463.83" x2="488.30" y2="463.83" stroke="#333" stroke-width="0.6"/>
<line x1="486.50" y1="462.10" x2="488.30" y2="462.10" stroke="#333" stroke-width="0.6"/>
<line x1="486.50" y1="450.36" x2="488.30" y2="450.36" stroke="#333" stroke-width="0.6"/>
<line x1="486.50" y1="444.40" x2="488.30" y2="444.40" stroke="#333" stroke-width="0.6"/>
<line x1="486.50" y1="440.17" x2="488.30" y2="440.17" stroke="#333" stroke-width="0.6"/>
<line x1="486.50" y1="436.89" x2="488.30" y2="436.89" stroke="#333" stroke-width="0.6"/>
<line x1="486.50" y1="434.21" x2="488.30" y2="434.21" stroke="#333" stroke-width="0.6"/>
<line x1="486.50" y1="431.94" x2="488.30" y2="431.94" stroke="#333" stroke-width="0.6"/>
<line x1="486.50" y1="429.98" x2="488.30" y2="429.98" stroke="#333" stroke-width="0.6"/>
<line x1="486.50" y1="428.25" x2="488.30" y2="428.25" stroke="#333" stroke-width="0.6"/>
<line x1="488.30" y1="494.40" x2="535.60" y2="494.40" stroke="#333" stroke-width="0.9"/>
<line x1="502.40" y1="494.40" x2="502.40" y2="498.60" stroke="#555" stroke-width="0.7"/>
<line x1="523.40" y1="494.40" x2="523.40" y2="498.60" stroke="#555" stroke-width="0.7"/>
<text x="506.40" y="504.40" font-size="8.2" text-anchor="end" fill="#000" transform="rotate(-45 506.40 504.40)">CR</text>
<text x="527.40" y="504.40" font-size="8.2" text-anchor="end" fill="#000" transform="rotate(-45 527.40 504.40)">PASC</text>
<text x="457.00" y="459.50" font-size="7.5" text-anchor="middle" fill="#000" transform="rotate(-90 457.00 459.50)">Spike-specific</text>
<text x="465.80" y="457.00" font-size="7.4" text-anchor="middle" fill="#000" transform="rotate(-90 465.80 457.00)">freq. of aN (%)</text>
<circle cx="502.20" cy="459.10" r="1.9" fill="#dcdcdc" stroke="#333" stroke-width="0.6"/>
<circle cx="502.20" cy="472.60" r="1.9" fill="#dcdcdc" stroke="#333" stroke-width="0.6"/>
<circle cx="502.20" cy="475.40" r="1.9" fill="#dcdcdc" stroke="#333" stroke-width="0.6"/>
<circle cx="502.20" cy="482.20" r="1.9" fill="#dcdcdc" stroke="#333" stroke-width="0.6"/>
<circle cx="502.20" cy="485.50" r="1.9" fill="#dcdcdc" stroke="#333" stroke-width="0.6"/>
<circle cx="496.50" cy="494.20" r="1.9" fill="#dcdcdc" stroke="#333" stroke-width="0.6"/>
<circle cx="499.40" cy="494.20" r="1.9" fill="#dcdcdc" stroke="#333" stroke-width="0.6"/>
<circle cx="502.20" cy="494.20" r="1.9" fill="#dcdcdc" stroke="#333" stroke-width="0.6"/>
<circle cx="505.00" cy="494.20" r="1.9" fill="#dcdcdc" stroke="#333" stroke-width="0.6"/>
<circle cx="507.80" cy="494.20" r="1.9" fill="#dcdcdc" stroke="#333" stroke-width="0.6"/>
<circle cx="523.40" cy="437.70" r="1.9" fill="#6dbd6e" stroke="#333" stroke-width="0.6"/>
<circle cx="523.40" cy="439.40" r="1.9" fill="#6dbd6e" stroke="#333" stroke-width="0.6"/>
<circle cx="523.40" cy="443.00" r="1.9" fill="#e35050" stroke="#333" stroke-width="0.6"/>
<circle cx="523.40" cy="449.50" r="1.9" fill="#6dbd6e" stroke="#333" stroke-width="0.6"/>
<circle cx="523.40" cy="453.10" r="1.9" fill="#6dbd6e" stroke="#333" stroke-width="0.6"/>
<circle cx="522.00" cy="456.00" r="1.9" fill="#e35050" stroke="#333" stroke-width="0.6"/>
<circle cx="524.90" cy="455.30" r="1.9" fill="#e35050" stroke="#333" stroke-width="0.6"/>
<circle cx="523.40" cy="459.60" r="1.9" fill="#6dbd6e" stroke="#333" stroke-width="0.6"/>
<circle cx="521.00" cy="463.20" r="1.9" fill="#6dbd6e" stroke="#333" stroke-width="0.6"/>
<circle cx="523.90" cy="462.80" r="1.9" fill="#6dbd6e" stroke="#333" stroke-width="0.6"/>
<circle cx="526.70" cy="463.90" r="1.9" fill="#6dbd6e" stroke="#333" stroke-width="0.6"/>
<circle cx="520.30" cy="466.80" r="1.9" fill="#6dbd6e" stroke="#333" stroke-width="0.6"/>
<circle cx="523.40" cy="466.10" r="1.9" fill="#6dbd6e" stroke="#333" stroke-width="0.6"/>
<circle cx="525.90" cy="468.00" r="1.9" fill="#e35050" stroke="#333" stroke-width="0.6"/>
<circle cx="521.40" cy="470.80" r="1.9" fill="#e35050" stroke="#333" stroke-width="0.6"/>
<circle cx="524.90" cy="471.80" r="1.9" fill="#e35050" stroke="#333" stroke-width="0.6"/>
<circle cx="523.40" cy="474.70" r="1.9" fill="#6dbd6e" stroke="#333" stroke-width="0.6"/>
<circle cx="524.90" cy="476.90" r="1.9" fill="#6dbd6e" stroke="#333" stroke-width="0.6"/>
<circle cx="523.40" cy="479.50" r="1.9" fill="#6dbd6e" stroke="#333" stroke-width="0.6"/>
<circle cx="517.60" cy="494.40" r="1.9" fill="#e35050" stroke="#333" stroke-width="0.6"/>
<circle cx="520.40" cy="494.40" r="1.9" fill="#e35050" stroke="#333" stroke-width="0.6"/>
<circle cx="523.20" cy="494.40" r="1.9" fill="#e35050" stroke="#333" stroke-width="0.6"/>
<circle cx="526.00" cy="494.40" r="1.9" fill="#e35050" stroke="#333" stroke-width="0.6"/>
<circle cx="528.80" cy="494.40" r="1.9" fill="#e35050" stroke="#333" stroke-width="0.6"/>
<line x1="495.50" y1="494.50" x2="508.70" y2="494.50" stroke="#e8402a" stroke-width="1.0"/>
<line x1="516.20" y1="472.30" x2="530.60" y2="472.30" stroke="#e8402a" stroke-width="1.0"/>
<path d="M577.00,440.60 A29.4,29.4 0 0 1 592.58,494.93 L584.95,482.72 A15.0,15.0 0 0 0 577.00,455.00 Z" fill="#d6d6d6" stroke="#333" stroke-width="0.6" stroke-linejoin="round"/>
<path d="M592.58,494.93 A29.4,29.4 0 1 1 577.00,440.60 L577.00,455.00 A15.0,15.0 0 1 0 584.95,482.72 Z" fill="#6e6e6e" stroke="#333" stroke-width="0.6" stroke-linejoin="round"/>
<path d="M650.80,439.70 A29.3,29.3 0 0 1 675.59,453.39 L663.15,461.22 A14.6,14.6 0 0 0 650.80,454.40 Z" fill="#c82a2b" stroke="#333" stroke-width="0.6" stroke-linejoin="round"/>
<path d="M675.59,453.39 A29.3,29.3 0 0 1 641.94,496.93 L646.39,482.92 A14.6,14.6 0 0 0 663.15,461.22 Z" fill="#2b2f8f" stroke="#333" stroke-width="0.6" stroke-linejoin="round"/>
<path d="M641.94,496.93 A29.3,29.3 0 0 1 650.80,439.70 L650.80,454.40 A14.6,14.6 0 0 0 646.39,482.92 Z" fill="#6e6e6e" stroke="#333" stroke-width="0.6" stroke-linejoin="round"/>
<text x="561.60" y="514.00" font-size="7.7" text-anchor="start" fill="#000">Ag-neg</text>
<rect x="590.90" y="507.80" width="15.40" height="7.40" fill="#6e6e6e" stroke="#333" stroke-width="0.6"/>
<text x="617.00" y="514.00" font-size="7.7" text-anchor="start" fill="#000">Ag-pos</text>
<rect x="643.70" y="507.80" width="5.00" height="7.40" fill="#d6d6d6" stroke="none" stroke-width="0.6"/>
<rect x="648.70" y="507.80" width="5.00" height="7.40" fill="#2b2f8f" stroke="none" stroke-width="0.6"/>
<rect x="653.70" y="507.80" width="5.00" height="7.40" fill="#e35050" stroke="none" stroke-width="0.6"/>
<rect x="643.70" y="507.80" width="15.00" height="7.40" fill="none" stroke="#333" stroke-width="0.6"/>
</svg></body></html>
